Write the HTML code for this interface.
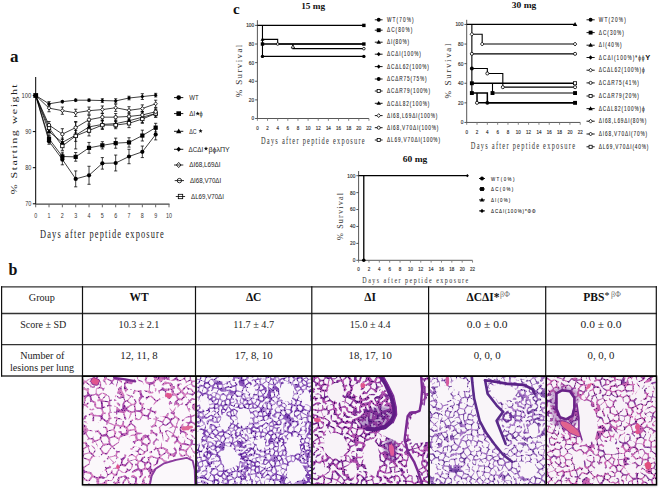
<!DOCTYPE html>
<html><head><meta charset="utf-8"><style>
html,body{margin:0;padding:0;background:#fff;width:660px;height:489px;overflow:hidden}
svg{display:block}
</style></head><body>
<svg width="660" height="489" viewBox="0 0 660 489">
<rect width="660" height="489" fill="#fff"/>
<text x="10.00" y="62.30" font-family="'Liberation Serif', serif" font-size="17" fill="#111" font-weight="bold">a</text>
<g stroke="#000" stroke-width="1" fill="none">
<line x1="35.7" y1="77" x2="35.7" y2="204.4"/>
<line x1="35.2" y1="204.1" x2="169.5" y2="204.1" stroke="#444" stroke-width="1.3"/>
<line x1="32.8" y1="203.80" x2="35.7" y2="203.80"/>
<line x1="32.8" y1="167.70" x2="35.7" y2="167.70"/>
<line x1="32.8" y1="131.60" x2="35.7" y2="131.60"/>
<line x1="32.8" y1="95.50" x2="35.7" y2="95.50"/>
<line x1="35.70" y1="204" x2="35.70" y2="207.3" stroke="#666"/>
<line x1="49.03" y1="204" x2="49.03" y2="207.3" stroke="#666"/>
<line x1="62.36" y1="204" x2="62.36" y2="207.3" stroke="#666"/>
<line x1="75.69" y1="204" x2="75.69" y2="207.3" stroke="#666"/>
<line x1="89.02" y1="204" x2="89.02" y2="207.3" stroke="#666"/>
<line x1="102.35" y1="204" x2="102.35" y2="207.3" stroke="#666"/>
<line x1="115.68" y1="204" x2="115.68" y2="207.3" stroke="#666"/>
<line x1="129.01" y1="204" x2="129.01" y2="207.3" stroke="#666"/>
<line x1="142.34" y1="204" x2="142.34" y2="207.3" stroke="#666"/>
<line x1="155.67" y1="204" x2="155.67" y2="207.3" stroke="#666"/>
<line x1="169.00" y1="204" x2="169.00" y2="207.3" stroke="#666"/>
</g>
<text x="31.40" y="206.30" font-family="'Liberation Sans', sans-serif" font-size="7" fill="#333" text-anchor="end" textLength="6.20" lengthAdjust="spacingAndGlyphs">70</text>
<text x="31.40" y="170.20" font-family="'Liberation Sans', sans-serif" font-size="7" fill="#333" text-anchor="end" textLength="6.20" lengthAdjust="spacingAndGlyphs">80</text>
<text x="31.40" y="134.10" font-family="'Liberation Sans', sans-serif" font-size="7" fill="#333" text-anchor="end" textLength="6.20" lengthAdjust="spacingAndGlyphs">90</text>
<text x="31.40" y="98.00" font-family="'Liberation Sans', sans-serif" font-size="7" fill="#333" text-anchor="end" textLength="9.80" lengthAdjust="spacingAndGlyphs">100</text>
<text x="35.70" y="217.90" font-family="'Liberation Sans', sans-serif" font-size="6.5" fill="#333" text-anchor="middle" textLength="3.00" lengthAdjust="spacingAndGlyphs">0</text>
<text x="49.03" y="217.90" font-family="'Liberation Sans', sans-serif" font-size="6.5" fill="#333" text-anchor="middle" textLength="3.00" lengthAdjust="spacingAndGlyphs">1</text>
<text x="62.36" y="217.90" font-family="'Liberation Sans', sans-serif" font-size="6.5" fill="#333" text-anchor="middle" textLength="3.00" lengthAdjust="spacingAndGlyphs">2</text>
<text x="75.69" y="217.90" font-family="'Liberation Sans', sans-serif" font-size="6.5" fill="#333" text-anchor="middle" textLength="3.00" lengthAdjust="spacingAndGlyphs">3</text>
<text x="89.02" y="217.90" font-family="'Liberation Sans', sans-serif" font-size="6.5" fill="#333" text-anchor="middle" textLength="3.00" lengthAdjust="spacingAndGlyphs">4</text>
<text x="102.35" y="217.90" font-family="'Liberation Sans', sans-serif" font-size="6.5" fill="#333" text-anchor="middle" textLength="3.00" lengthAdjust="spacingAndGlyphs">5</text>
<text x="115.68" y="217.90" font-family="'Liberation Sans', sans-serif" font-size="6.5" fill="#333" text-anchor="middle" textLength="3.00" lengthAdjust="spacingAndGlyphs">6</text>
<text x="129.01" y="217.90" font-family="'Liberation Sans', sans-serif" font-size="6.5" fill="#333" text-anchor="middle" textLength="3.00" lengthAdjust="spacingAndGlyphs">7</text>
<text x="142.34" y="217.90" font-family="'Liberation Sans', sans-serif" font-size="6.5" fill="#333" text-anchor="middle" textLength="3.00" lengthAdjust="spacingAndGlyphs">8</text>
<text x="155.67" y="217.90" font-family="'Liberation Sans', sans-serif" font-size="6.5" fill="#333" text-anchor="middle" textLength="3.00" lengthAdjust="spacingAndGlyphs">9</text>
<text x="169.00" y="217.90" font-family="'Liberation Sans', sans-serif" font-size="6.5" fill="#333" text-anchor="middle" textLength="6.00" lengthAdjust="spacingAndGlyphs">10</text>
<text transform="translate(40.00,237.90) scale(0.7,1)" font-family="'Liberation Serif', serif" font-size="12" fill="#222" textLength="176.86" lengthAdjust="spacing">Days after peptide exposure</text>
<text transform="translate(17.40,194.30) rotate(-90) scale(1,0.74)" font-family="'Liberation Serif', serif" font-size="12" fill="#222" textLength="110.00" lengthAdjust="spacing">% Starting weight</text>
<g stroke="#000" stroke-width="0.75" fill="none">
<polyline points="35.70,95.50 49.03,141.35 62.36,159.40 75.69,178.89 89.02,175.28 102.35,163.37 115.68,163.01 129.01,156.51 142.34,151.82 155.67,134.49"/>
<path d="M49.03,138.46V144.24M47.43,138.46h3.2M47.43,144.24h3.2"/>
<path d="M62.36,153.98V164.81M60.76,153.98h3.2M60.76,164.81h3.2"/>
<path d="M75.69,170.95V186.83M74.09,170.95h3.2M74.09,186.83h3.2"/>
<path d="M89.02,166.26V184.31M87.42,166.26h3.2M87.42,184.31h3.2"/>
<path d="M102.35,157.59V169.14M100.75,157.59h3.2M100.75,169.14h3.2"/>
<path d="M115.68,155.06V170.95M114.08,155.06h3.2M114.08,170.95h3.2"/>
<path d="M129.01,149.29V163.73M127.41,149.29h3.2M127.41,163.73h3.2"/>
<path d="M142.34,146.04V157.59M140.74,146.04h3.2M140.74,157.59h3.2"/>
<path d="M155.67,129.07V139.90M154.07,129.07h3.2M154.07,139.90h3.2"/>
<polyline points="35.70,95.50 49.03,138.82 62.36,156.51 75.69,156.87 89.02,147.84 102.35,145.32 115.68,143.15 129.01,142.43 142.34,135.57 155.67,127.63"/>
<path d="M49.03,135.93V141.71M47.43,135.93h3.2M47.43,141.71h3.2"/>
<path d="M62.36,152.18V160.84M60.76,152.18h3.2M60.76,160.84h3.2"/>
<path d="M75.69,152.54V161.20M74.09,152.54h3.2M74.09,161.20h3.2"/>
<path d="M89.02,142.43V153.26M87.42,142.43h3.2M87.42,153.26h3.2"/>
<path d="M102.35,141.71V148.93M100.75,141.71h3.2M100.75,148.93h3.2"/>
<path d="M115.68,138.10V148.21M114.08,138.10h3.2M114.08,148.21h3.2"/>
<path d="M129.01,137.74V147.12M127.41,137.74h3.2M127.41,147.12h3.2"/>
<path d="M142.34,130.16V140.99M140.74,130.16h3.2M140.74,140.99h3.2"/>
<path d="M155.67,123.30V131.96M154.07,123.30h3.2M154.07,131.96h3.2"/>
<polyline points="35.70,95.50 49.03,131.60 62.36,142.43 75.69,135.21 89.02,126.91 102.35,124.38 115.68,123.66 129.01,120.77 142.34,117.16 155.67,113.55"/>
<path d="M49.03,127.99V135.21M47.43,127.99h3.2M47.43,135.21h3.2"/>
<path d="M62.36,138.10V146.76M60.76,138.10h3.2M60.76,146.76h3.2"/>
<path d="M75.69,121.49V148.93M74.09,121.49h3.2M74.09,148.93h3.2"/>
<path d="M89.02,121.49V132.32M87.42,121.49h3.2M87.42,132.32h3.2"/>
<path d="M102.35,120.05V128.71M100.75,120.05h3.2M100.75,128.71h3.2"/>
<path d="M115.68,120.05V127.27M114.08,120.05h3.2M114.08,127.27h3.2"/>
<path d="M129.01,117.16V124.38M127.41,117.16h3.2M127.41,124.38h3.2"/>
<path d="M142.34,111.75V122.58M140.74,111.75h3.2M140.74,122.58h3.2"/>
<path d="M155.67,109.94V117.16M154.07,109.94h3.2M154.07,117.16h3.2"/>
<polyline points="35.70,95.50 49.03,127.99 62.36,146.04 75.69,135.93 89.02,130.52 102.35,125.10 115.68,125.10 129.01,123.30 142.34,118.97 155.67,113.55"/>
<path d="M49.03,124.38V131.60M47.43,124.38h3.2M47.43,131.60h3.2"/>
<path d="M62.36,141.71V150.37M60.76,141.71h3.2M60.76,150.37h3.2"/>
<path d="M75.69,130.52V141.35M74.09,130.52h3.2M74.09,141.35h3.2"/>
<path d="M89.02,125.10V135.93M87.42,125.10h3.2M87.42,135.93h3.2"/>
<path d="M102.35,120.77V129.43M100.75,120.77h3.2M100.75,129.43h3.2"/>
<path d="M115.68,121.49V128.71M114.08,121.49h3.2M114.08,128.71h3.2"/>
<path d="M129.01,118.97V127.63M127.41,118.97h3.2M127.41,127.63h3.2"/>
<path d="M142.34,114.63V123.30M140.74,114.63h3.2M140.74,123.30h3.2"/>
<path d="M155.67,109.94V117.16M154.07,109.94h3.2M154.07,117.16h3.2"/>
<polyline points="35.70,95.50 49.03,125.10 62.36,134.13 75.69,127.63 89.02,119.69 102.35,117.16 115.68,117.16 129.01,116.44 142.34,114.99 155.67,111.75"/>
<path d="M49.03,121.49V128.71M47.43,121.49h3.2M47.43,128.71h3.2"/>
<path d="M62.36,128.71V139.54M60.76,128.71h3.2M60.76,139.54h3.2"/>
<path d="M75.69,122.21V133.04M74.09,122.21h3.2M74.09,133.04h3.2"/>
<path d="M89.02,115.36V124.02M87.42,115.36h3.2M87.42,124.02h3.2"/>
<path d="M102.35,113.55V120.77M100.75,113.55h3.2M100.75,120.77h3.2"/>
<path d="M115.68,113.55V120.77M114.08,113.55h3.2M114.08,120.77h3.2"/>
<path d="M129.01,112.83V120.05M127.41,112.83h3.2M127.41,120.05h3.2"/>
<path d="M142.34,111.38V118.60M140.74,111.38h3.2M140.74,118.60h3.2"/>
<path d="M155.67,108.14V115.36M154.07,108.14h3.2M154.07,115.36h3.2"/>
<polyline points="35.70,95.50 49.03,108.14 62.36,110.66 75.69,112.83 89.02,110.66 102.35,109.58 115.68,107.77 129.01,110.30 142.34,108.50 155.67,103.80"/>
<path d="M49.03,104.53V111.75M47.43,104.53h3.2M47.43,111.75h3.2"/>
<path d="M62.36,107.05V114.27M60.76,107.05h3.2M60.76,114.27h3.2"/>
<path d="M75.69,109.22V116.44M74.09,109.22h3.2M74.09,116.44h3.2"/>
<path d="M89.02,107.05V114.27M87.42,107.05h3.2M87.42,114.27h3.2"/>
<path d="M102.35,105.97V113.19M100.75,105.97h3.2M100.75,113.19h3.2"/>
<path d="M115.68,104.16V111.38M114.08,104.16h3.2M114.08,111.38h3.2"/>
<path d="M129.01,106.69V113.91M127.41,106.69h3.2M127.41,113.91h3.2"/>
<path d="M142.34,104.89V112.11M140.74,104.89h3.2M140.74,112.11h3.2"/>
<path d="M155.67,100.19V107.41M154.07,100.19h3.2M154.07,107.41h3.2"/>
<polyline points="35.70,95.50 49.03,103.80 62.36,101.64 75.69,100.19 89.02,100.19 102.35,100.55 115.68,100.92 129.01,98.03 142.34,96.58 155.67,95.14"/>
<path d="M49.03,101.64V105.97M47.43,101.64h3.2M47.43,105.97h3.2"/>
<path d="M62.36,100.55V102.72M60.76,100.55h3.2M60.76,102.72h3.2"/>
<path d="M75.69,99.11V101.28M74.09,99.11h3.2M74.09,101.28h3.2"/>
<path d="M89.02,99.11V101.28M87.42,99.11h3.2M87.42,101.28h3.2"/>
<path d="M102.35,98.75V102.36M100.75,98.75h3.2M100.75,102.36h3.2"/>
<path d="M115.68,98.75V103.08M114.08,98.75h3.2M114.08,103.08h3.2"/>
<path d="M129.01,96.22V99.83M127.41,96.22h3.2M127.41,99.83h3.2"/>
<path d="M142.34,93.69V99.47M140.74,93.69h3.2M140.74,99.47h3.2"/>
<path d="M155.67,93.33V96.94M154.07,93.33h3.2M154.07,96.94h3.2"/>
</g>
<circle cx="49.03" cy="141.35" r="2.10" fill="#000"/>
<circle cx="62.36" cy="159.40" r="2.10" fill="#000"/>
<circle cx="75.69" cy="178.89" r="2.10" fill="#000"/>
<circle cx="89.02" cy="175.28" r="2.10" fill="#000"/>
<circle cx="102.35" cy="163.37" r="2.10" fill="#000"/>
<circle cx="115.68" cy="163.01" r="2.10" fill="#000"/>
<circle cx="129.01" cy="156.51" r="2.10" fill="#000"/>
<circle cx="142.34" cy="151.82" r="2.10" fill="#000"/>
<circle cx="155.67" cy="134.49" r="2.10" fill="#000"/>
<rect x="46.93" y="136.72" width="4.20" height="4.20" fill="#000"/>
<rect x="60.26" y="154.41" width="4.20" height="4.20" fill="#000"/>
<rect x="73.59" y="154.77" width="4.20" height="4.20" fill="#000"/>
<rect x="86.92" y="145.75" width="4.20" height="4.20" fill="#000"/>
<rect x="100.25" y="143.22" width="4.20" height="4.20" fill="#000"/>
<rect x="113.58" y="141.05" width="4.20" height="4.20" fill="#000"/>
<rect x="126.91" y="140.33" width="4.20" height="4.20" fill="#000"/>
<rect x="140.24" y="133.47" width="4.20" height="4.20" fill="#000"/>
<rect x="153.57" y="125.53" width="4.20" height="4.20" fill="#000"/>
<path d="M49.03,129.08 L51.45,133.28 L46.62,133.28Z" fill="#000"/>
<path d="M62.36,139.91 L64.78,144.11 L59.95,144.11Z" fill="#000"/>
<path d="M75.69,132.69 L78.11,136.89 L73.27,136.89Z" fill="#000"/>
<path d="M89.02,124.39 L91.44,128.59 L86.61,128.59Z" fill="#000"/>
<path d="M102.35,121.86 L104.77,126.06 L99.94,126.06Z" fill="#000"/>
<path d="M115.68,121.14 L118.10,125.34 L113.27,125.34Z" fill="#000"/>
<path d="M129.01,118.25 L131.42,122.45 L126.59,122.45Z" fill="#000"/>
<path d="M142.34,114.64 L144.75,118.84 L139.93,118.84Z" fill="#000"/>
<path d="M155.67,111.03 L158.09,115.23 L153.26,115.23Z" fill="#000"/>
<rect x="47.33" y="126.29" width="3.40" height="3.40" fill="#fff" stroke="#000" stroke-width="0.8"/>
<rect x="60.66" y="144.34" width="3.40" height="3.40" fill="#fff" stroke="#000" stroke-width="0.8"/>
<rect x="73.99" y="134.23" width="3.40" height="3.40" fill="#fff" stroke="#000" stroke-width="0.8"/>
<rect x="87.32" y="128.82" width="3.40" height="3.40" fill="#fff" stroke="#000" stroke-width="0.8"/>
<rect x="100.65" y="123.40" width="3.40" height="3.40" fill="#fff" stroke="#000" stroke-width="0.8"/>
<rect x="113.98" y="123.40" width="3.40" height="3.40" fill="#fff" stroke="#000" stroke-width="0.8"/>
<rect x="127.31" y="121.60" width="3.40" height="3.40" fill="#fff" stroke="#000" stroke-width="0.8"/>
<rect x="140.64" y="117.27" width="3.40" height="3.40" fill="#fff" stroke="#000" stroke-width="0.8"/>
<rect x="153.97" y="111.85" width="3.40" height="3.40" fill="#fff" stroke="#000" stroke-width="0.8"/>
<circle cx="49.03" cy="125.10" r="1.70" fill="#fff" stroke="#000" stroke-width="0.8"/>
<circle cx="62.36" cy="134.13" r="1.70" fill="#fff" stroke="#000" stroke-width="0.8"/>
<circle cx="75.69" cy="127.63" r="1.70" fill="#fff" stroke="#000" stroke-width="0.8"/>
<circle cx="89.02" cy="119.69" r="1.70" fill="#fff" stroke="#000" stroke-width="0.8"/>
<circle cx="102.35" cy="117.16" r="1.70" fill="#fff" stroke="#000" stroke-width="0.8"/>
<circle cx="115.68" cy="117.16" r="1.70" fill="#fff" stroke="#000" stroke-width="0.8"/>
<circle cx="129.01" cy="116.44" r="1.70" fill="#fff" stroke="#000" stroke-width="0.8"/>
<circle cx="142.34" cy="114.99" r="1.70" fill="#fff" stroke="#000" stroke-width="0.8"/>
<circle cx="155.67" cy="111.75" r="1.70" fill="#fff" stroke="#000" stroke-width="0.8"/>
<path d="M49.03,106.23 L50.74,108.14 L49.03,110.04 L47.32,108.14Z" fill="#fff" stroke="#000" stroke-width="0.8"/>
<path d="M62.36,108.76 L64.07,110.66 L62.36,112.56 L60.65,110.66Z" fill="#fff" stroke="#000" stroke-width="0.8"/>
<path d="M75.69,110.93 L77.40,112.83 L75.69,114.73 L73.98,112.83Z" fill="#fff" stroke="#000" stroke-width="0.8"/>
<path d="M89.02,108.76 L90.73,110.66 L89.02,112.56 L87.31,110.66Z" fill="#fff" stroke="#000" stroke-width="0.8"/>
<path d="M102.35,107.68 L104.06,109.58 L102.35,111.48 L100.64,109.58Z" fill="#fff" stroke="#000" stroke-width="0.8"/>
<path d="M115.68,105.87 L117.39,107.77 L115.68,109.67 L113.97,107.77Z" fill="#fff" stroke="#000" stroke-width="0.8"/>
<path d="M129.01,108.40 L130.72,110.30 L129.01,112.20 L127.30,110.30Z" fill="#fff" stroke="#000" stroke-width="0.8"/>
<path d="M142.34,106.60 L144.05,108.50 L142.34,110.40 L140.63,108.50Z" fill="#fff" stroke="#000" stroke-width="0.8"/>
<path d="M155.67,101.90 L157.38,103.80 L155.67,105.70 L153.96,103.80Z" fill="#fff" stroke="#000" stroke-width="0.8"/>
<path d="M49.03,101.71 L50.93,103.80 L49.03,105.89 L47.13,103.80Z" fill="#000"/>
<path d="M62.36,99.55 L64.26,101.64 L62.36,103.73 L60.46,101.64Z" fill="#000"/>
<path d="M75.69,98.10 L77.59,100.19 L75.69,102.28 L73.79,100.19Z" fill="#000"/>
<path d="M89.02,98.10 L90.92,100.19 L89.02,102.28 L87.12,100.19Z" fill="#000"/>
<path d="M102.35,98.46 L104.25,100.55 L102.35,102.64 L100.45,100.55Z" fill="#000"/>
<path d="M115.68,98.83 L117.58,100.92 L115.68,103.01 L113.78,100.92Z" fill="#000"/>
<path d="M129.01,95.94 L130.91,98.03 L129.01,100.12 L127.11,98.03Z" fill="#000"/>
<path d="M142.34,94.49 L144.24,96.58 L142.34,98.67 L140.44,96.58Z" fill="#000"/>
<path d="M155.67,93.05 L157.57,95.14 L155.67,97.23 L153.77,95.14Z" fill="#000"/>
<rect x="33.30" y="93.10" width="4.80" height="4.80" fill="#000"/>
<line x1="174" y1="97.6" x2="183.3" y2="97.6" stroke="#000" stroke-width="0.9"/>
<circle cx="178.70" cy="97.60" r="2.30" fill="#000"/>
<text x="189.30" y="100.00" font-family="'Liberation Sans', sans-serif" font-size="6.8" fill="#222" textLength="9.30" lengthAdjust="spacingAndGlyphs">WT</text>
<line x1="174" y1="113.6" x2="183.3" y2="113.6" stroke="#000" stroke-width="0.9"/>
<rect x="176.40" y="111.30" width="4.60" height="4.60" fill="#000"/>
<line x1="174" y1="131.3" x2="183.3" y2="131.3" stroke="#000" stroke-width="0.9"/>
<path d="M178.70,128.54 L181.34,133.14 L176.05,133.14Z" fill="#000"/>
<line x1="174" y1="149.3" x2="183.3" y2="149.3" stroke="#000" stroke-width="0.9"/>
<path d="M178.70,146.77 L181.00,149.30 L178.70,151.83 L176.40,149.30Z" fill="#000"/>
<path d="M178.70,162.40 L181.04,165.00 L178.70,167.60 L176.36,165.00Z" fill="#fff" stroke="#000" stroke-width="0.8"/>
<line x1="174" y1="165" x2="183.3" y2="165" stroke="#000" stroke-width="0.8"/>
<text x="189.30" y="167.40" font-family="'Liberation Sans', sans-serif" font-size="6.8" fill="#222" textLength="31.20" lengthAdjust="spacingAndGlyphs">ΔI68,L69ΔI</text>
<circle cx="179.40" cy="180.60" r="2.20" fill="#fff" stroke="#000" stroke-width="0.8"/>
<line x1="174.7" y1="180.6" x2="184.0" y2="180.6" stroke="#000" stroke-width="0.8"/>
<text x="190.00" y="183.00" font-family="'Liberation Sans', sans-serif" font-size="6.8" fill="#222" textLength="31.20" lengthAdjust="spacingAndGlyphs">ΔI68,V70ΔI</text>
<rect x="178.30" y="194.30" width="4.40" height="4.40" fill="#fff" stroke="#000" stroke-width="0.8"/>
<line x1="175.8" y1="196.5" x2="185.10000000000002" y2="196.5" stroke="#000" stroke-width="0.8"/>
<text x="191.10" y="198.90" font-family="'Liberation Sans', sans-serif" font-size="6.8" fill="#222" textLength="32.80" lengthAdjust="spacingAndGlyphs">ΔL69,V70ΔI</text>
<text x="189.30" y="116.00" font-family="'Liberation Sans', sans-serif" font-size="6.8" fill="#222" textLength="6.00" lengthAdjust="spacingAndGlyphs">ΔI</text>
<polygon points="197.70,111.40 198.28,112.80 199.79,112.92 198.64,113.91 198.99,115.38 197.70,114.59 196.41,115.38 196.76,113.91 195.61,112.92 197.12,112.80" fill="#111"/>
<text x="199.50" y="116.00" font-family="'Liberation Sans', sans-serif" font-size="6.8" fill="#222" textLength="3.10" lengthAdjust="spacingAndGlyphs">ϕ</text>
<text x="189.30" y="133.70" font-family="'Liberation Sans', sans-serif" font-size="6.8" fill="#222" textLength="7.30" lengthAdjust="spacingAndGlyphs">ΔC</text>
<polygon points="200.60,128.80 201.18,130.20 202.69,130.32 201.54,131.31 201.89,132.78 200.60,131.99 199.31,132.78 199.66,131.31 198.51,130.32 200.02,130.20" fill="#111"/>
<text x="188.60" y="151.70" font-family="'Liberation Sans', sans-serif" font-size="6.8" fill="#222" textLength="14.60" lengthAdjust="spacingAndGlyphs">ΔCΔI</text>
<polygon points="206.00,146.40 206.58,147.80 208.09,147.92 206.94,148.91 207.29,150.38 206.00,149.59 204.71,150.38 205.06,148.91 203.91,147.92 205.42,147.80" fill="#111"/>
<text x="208.60" y="151.70" font-family="'Liberation Sans', sans-serif" font-size="6.8" fill="#222" textLength="21.20" lengthAdjust="spacingAndGlyphs">βϕλΠY</text>
<text x="233.00" y="14.40" font-family="'Liberation Serif', serif" font-size="15" fill="#111" font-weight="bold">c</text>
<g stroke="#444" stroke-width="0.9" fill="none">
<line x1="257.4" y1="20.2" x2="257.4" y2="118.9"/>
<line x1="257.0" y1="118.5" x2="368.94" y2="118.5"/>
<line x1="255.09999999999997" y1="118.50" x2="257.4" y2="118.50"/>
<line x1="255.09999999999997" y1="99.88" x2="257.4" y2="99.88"/>
<line x1="255.09999999999997" y1="81.26" x2="257.4" y2="81.26"/>
<line x1="255.09999999999997" y1="62.64" x2="257.4" y2="62.64"/>
<line x1="255.09999999999997" y1="44.02" x2="257.4" y2="44.02"/>
<line x1="255.09999999999997" y1="25.40" x2="257.4" y2="25.40"/>
<line x1="257.40" y1="118.5" x2="257.40" y2="120.8" stroke="#777"/>
<line x1="267.54" y1="118.5" x2="267.54" y2="120.8" stroke="#777"/>
<line x1="277.68" y1="118.5" x2="277.68" y2="120.8" stroke="#777"/>
<line x1="287.82" y1="118.5" x2="287.82" y2="120.8" stroke="#777"/>
<line x1="297.96" y1="118.5" x2="297.96" y2="120.8" stroke="#777"/>
<line x1="308.10" y1="118.5" x2="308.10" y2="120.8" stroke="#777"/>
<line x1="318.24" y1="118.5" x2="318.24" y2="120.8" stroke="#777"/>
<line x1="328.38" y1="118.5" x2="328.38" y2="120.8" stroke="#777"/>
<line x1="338.52" y1="118.5" x2="338.52" y2="120.8" stroke="#777"/>
<line x1="348.66" y1="118.5" x2="348.66" y2="120.8" stroke="#777"/>
<line x1="358.80" y1="118.5" x2="358.80" y2="120.8" stroke="#777"/>
<line x1="368.94" y1="118.5" x2="368.94" y2="120.8" stroke="#777"/>
</g>
<text x="254.10" y="120.40" font-family="'Liberation Sans', sans-serif" font-size="5.2" fill="#333" text-anchor="end" textLength="2.65" lengthAdjust="spacingAndGlyphs" stroke="#333" stroke-width="0.15">0</text>
<text x="254.10" y="101.78" font-family="'Liberation Sans', sans-serif" font-size="5.2" fill="#333" text-anchor="end" textLength="5.30" lengthAdjust="spacingAndGlyphs" stroke="#333" stroke-width="0.15">20</text>
<text x="254.10" y="83.16" font-family="'Liberation Sans', sans-serif" font-size="5.2" fill="#333" text-anchor="end" textLength="5.30" lengthAdjust="spacingAndGlyphs" stroke="#333" stroke-width="0.15">40</text>
<text x="254.10" y="64.54" font-family="'Liberation Sans', sans-serif" font-size="5.2" fill="#333" text-anchor="end" textLength="5.30" lengthAdjust="spacingAndGlyphs" stroke="#333" stroke-width="0.15">60</text>
<text x="254.10" y="45.92" font-family="'Liberation Sans', sans-serif" font-size="5.2" fill="#333" text-anchor="end" textLength="5.30" lengthAdjust="spacingAndGlyphs" stroke="#333" stroke-width="0.15">80</text>
<text x="254.10" y="27.30" font-family="'Liberation Sans', sans-serif" font-size="5.2" fill="#333" text-anchor="end" textLength="7.95" lengthAdjust="spacingAndGlyphs" stroke="#333" stroke-width="0.15">100</text>
<text x="257.40" y="129.70" font-family="'Liberation Sans', sans-serif" font-size="5.2" fill="#333" text-anchor="middle" textLength="2.50" lengthAdjust="spacingAndGlyphs" stroke="#333" stroke-width="0.15">0</text>
<text x="267.54" y="129.70" font-family="'Liberation Sans', sans-serif" font-size="5.2" fill="#333" text-anchor="middle" textLength="2.50" lengthAdjust="spacingAndGlyphs" stroke="#333" stroke-width="0.15">2</text>
<text x="277.68" y="129.70" font-family="'Liberation Sans', sans-serif" font-size="5.2" fill="#333" text-anchor="middle" textLength="2.50" lengthAdjust="spacingAndGlyphs" stroke="#333" stroke-width="0.15">4</text>
<text x="287.82" y="129.70" font-family="'Liberation Sans', sans-serif" font-size="5.2" fill="#333" text-anchor="middle" textLength="2.50" lengthAdjust="spacingAndGlyphs" stroke="#333" stroke-width="0.15">6</text>
<text x="297.96" y="129.70" font-family="'Liberation Sans', sans-serif" font-size="5.2" fill="#333" text-anchor="middle" textLength="2.50" lengthAdjust="spacingAndGlyphs" stroke="#333" stroke-width="0.15">8</text>
<text x="308.10" y="129.70" font-family="'Liberation Sans', sans-serif" font-size="5.2" fill="#333" text-anchor="middle" textLength="5.00" lengthAdjust="spacingAndGlyphs" stroke="#333" stroke-width="0.15">10</text>
<text x="318.24" y="129.70" font-family="'Liberation Sans', sans-serif" font-size="5.2" fill="#333" text-anchor="middle" textLength="5.00" lengthAdjust="spacingAndGlyphs" stroke="#333" stroke-width="0.15">12</text>
<text x="328.38" y="129.70" font-family="'Liberation Sans', sans-serif" font-size="5.2" fill="#333" text-anchor="middle" textLength="5.00" lengthAdjust="spacingAndGlyphs" stroke="#333" stroke-width="0.15">14</text>
<text x="338.52" y="129.70" font-family="'Liberation Sans', sans-serif" font-size="5.2" fill="#333" text-anchor="middle" textLength="5.00" lengthAdjust="spacingAndGlyphs" stroke="#333" stroke-width="0.15">16</text>
<text x="348.66" y="129.70" font-family="'Liberation Sans', sans-serif" font-size="5.2" fill="#333" text-anchor="middle" textLength="5.00" lengthAdjust="spacingAndGlyphs" stroke="#333" stroke-width="0.15">18</text>
<text x="358.80" y="129.70" font-family="'Liberation Sans', sans-serif" font-size="5.2" fill="#333" text-anchor="middle" textLength="5.00" lengthAdjust="spacingAndGlyphs" stroke="#333" stroke-width="0.15">20</text>
<text x="368.94" y="129.70" font-family="'Liberation Sans', sans-serif" font-size="5.2" fill="#333" text-anchor="middle" textLength="5.00" lengthAdjust="spacingAndGlyphs" stroke="#333" stroke-width="0.15">22</text>
<text x="301.20" y="9.20" font-family="'Liberation Serif', serif" font-size="8.8" fill="#111" font-weight="bold" textLength="24.00" lengthAdjust="spacingAndGlyphs">15 mg</text>
<text transform="translate(241.60,97.30) rotate(-90)" font-family="'Liberation Serif', serif" font-size="9" fill="#333" textLength="52.60" lengthAdjust="spacing">% Survival</text>
<text transform="translate(261.00,144.10) scale(0.66,1)" font-family="'Liberation Serif', serif" font-size="9.7" fill="#333" textLength="157.12" lengthAdjust="spacing">Days after peptide exposure</text>
<path d="M257.40,25.40H363.87V25.40" stroke="#000" stroke-width="1.3" fill="none"/>
<path d="M262.47,25.40H262.47V56.40H363.87V56.40" stroke="#000" stroke-width="1.1" fill="none"/>
<path d="M262.47,39.36H277.68V39.36H277.68V44.02H363.87V44.02" stroke="#000" stroke-width="1.1" fill="none"/>
<path d="M262.47,44.02H363.87V44.02" stroke="#000" stroke-width="1.5" fill="none"/>
<path d="M292.89,44.02H292.89V48.67H363.87V48.67" stroke="#000" stroke-width="1.1" fill="none"/>
<rect x="362.17" y="23.70" width="3.40" height="3.40" fill="#000"/>
<rect x="260.77" y="42.32" width="3.40" height="3.40" fill="#000"/>
<rect x="362.17" y="42.32" width="3.40" height="3.40" fill="#000"/>
<path d="M262.47,37.32 L264.42,40.72 L260.51,40.72Z" fill="#000"/>
<circle cx="262.47" cy="56.40" r="1.70" fill="#000"/>
<circle cx="363.87" cy="56.40" r="1.70" fill="#000"/>
<circle cx="277.68" cy="44.02" r="1.30" fill="#fff" stroke="#000" stroke-width="0.8"/>
<path d="M292.89,44.94 L294.68,48.09 L291.10,48.09Z" fill="#fff" stroke="#000" stroke-width="0.8"/>
<circle cx="363.87" cy="48.67" r="1.30" fill="#fff" stroke="#000" stroke-width="0.8"/>
<line x1="374.8" y1="19.8" x2="382.6" y2="19.8" stroke="#000" stroke-width="0.9"/>
<circle cx="378.70" cy="19.80" r="1.95" fill="#000"/>
<text transform="translate(387.00,22.00) scale(0.74,1)" font-family="'Liberation Sans', sans-serif" font-size="6.4" fill="#2a2a2a" textLength="35.95" lengthAdjust="spacing" stroke="#2a2a2a" stroke-width="0.1">WT(70%)</text>
<line x1="374.8" y1="30.2" x2="382.6" y2="30.2" stroke="#000" stroke-width="0.9"/>
<rect x="376.75" y="28.25" width="3.90" height="3.90" fill="#000"/>
<text transform="translate(387.00,32.40) scale(0.74,1)" font-family="'Liberation Sans', sans-serif" font-size="6.4" fill="#2a2a2a" textLength="34.19" lengthAdjust="spacing" stroke="#2a2a2a" stroke-width="0.1">ΔC(80%)</text>
<line x1="374.8" y1="42.2" x2="382.6" y2="42.2" stroke="#000" stroke-width="0.9"/>
<path d="M378.70,39.86 L380.94,43.76 L376.46,43.76Z" fill="#000"/>
<text transform="translate(387.00,44.40) scale(0.74,1)" font-family="'Liberation Sans', sans-serif" font-size="6.4" fill="#2a2a2a" textLength="30.00" lengthAdjust="spacing" stroke="#2a2a2a" stroke-width="0.1">ΔI(80%)</text>
<line x1="374.8" y1="54.2" x2="382.6" y2="54.2" stroke="#000" stroke-width="0.9"/>
<path d="M378.70,52.05 L380.65,54.20 L378.70,56.35 L376.75,54.20Z" fill="#000"/>
<text transform="translate(387.00,56.40) scale(0.74,1)" font-family="'Liberation Sans', sans-serif" font-size="6.4" fill="#2a2a2a" textLength="45.81" lengthAdjust="spacing" stroke="#2a2a2a" stroke-width="0.1">ΔCΔI(100%)</text>
<line x1="374.8" y1="66.6" x2="382.6" y2="66.6" stroke="#000" stroke-width="0.9"/>
<path d="M378.70,64.45 L380.65,66.60 L378.70,68.74 L376.75,66.60Z" fill="#000"/>
<text transform="translate(387.00,68.80) scale(0.74,1)" font-family="'Liberation Sans', sans-serif" font-size="6.4" fill="#2a2a2a" textLength="56.62" lengthAdjust="spacing" stroke="#2a2a2a" stroke-width="0.1">ΔCΔL62(100%)</text>
<line x1="374.8" y1="79" x2="382.6" y2="79" stroke="#000" stroke-width="0.9"/>
<circle cx="378.70" cy="79.00" r="1.95" fill="#000"/>
<text transform="translate(387.00,81.20) scale(0.74,1)" font-family="'Liberation Sans', sans-serif" font-size="6.4" fill="#2a2a2a" textLength="53.65" lengthAdjust="spacing" stroke="#2a2a2a" stroke-width="0.1">ΔCΔR75(75%)</text>
<line x1="374.8" y1="91" x2="382.6" y2="91" stroke="#000" stroke-width="0.9"/>
<rect x="377.15" y="89.45" width="3.10" height="3.10" fill="#fff" stroke="#000" stroke-width="0.8"/>
<text transform="translate(387.00,93.20) scale(0.74,1)" font-family="'Liberation Sans', sans-serif" font-size="6.4" fill="#2a2a2a" textLength="58.11" lengthAdjust="spacing" stroke="#2a2a2a" stroke-width="0.1">ΔCΔR79(100%)</text>
<line x1="374.8" y1="103.3" x2="382.6" y2="103.3" stroke="#000" stroke-width="0.9"/>
<path d="M378.70,100.96 L380.94,104.86 L376.46,104.86Z" fill="#000"/>
<text transform="translate(387.00,105.50) scale(0.74,1)" font-family="'Liberation Sans', sans-serif" font-size="6.4" fill="#2a2a2a" textLength="57.16" lengthAdjust="spacing" stroke="#2a2a2a" stroke-width="0.1">ΔCΔL82(100%)</text>
<line x1="374.8" y1="115.6" x2="382.6" y2="115.6" stroke="#000" stroke-width="0.9"/>
<path d="M378.70,113.65 L380.46,115.60 L378.70,117.55 L376.95,115.60Z" fill="#fff" stroke="#000" stroke-width="0.8"/>
<text transform="translate(387.00,117.80) scale(0.74,1)" font-family="'Liberation Sans', sans-serif" font-size="6.4" fill="#2a2a2a" textLength="67.97" lengthAdjust="spacing" stroke="#2a2a2a" stroke-width="0.1">ΔI68,L69ΔI(100%)</text>
<line x1="374.8" y1="127.7" x2="382.6" y2="127.7" stroke="#000" stroke-width="0.9"/>
<circle cx="378.70" cy="127.70" r="1.55" fill="#fff" stroke="#000" stroke-width="0.8"/>
<text transform="translate(387.00,129.90) scale(0.74,1)" font-family="'Liberation Sans', sans-serif" font-size="6.4" fill="#2a2a2a" textLength="69.32" lengthAdjust="spacing" stroke="#2a2a2a" stroke-width="0.1">ΔI68,V70ΔI(100%)</text>
<line x1="374.8" y1="140" x2="382.6" y2="140" stroke="#000" stroke-width="0.9"/>
<rect x="377.15" y="138.45" width="3.10" height="3.10" fill="#fff" stroke="#000" stroke-width="0.8"/>
<text transform="translate(387.00,142.20) scale(0.74,1)" font-family="'Liberation Sans', sans-serif" font-size="6.4" fill="#2a2a2a" textLength="71.62" lengthAdjust="spacing" stroke="#2a2a2a" stroke-width="0.1">ΔL69,V70ΔI(100%)</text>
<g stroke="#444" stroke-width="0.9" fill="none">
<line x1="466.7" y1="19.8" x2="466.7" y2="122.85000000000001"/>
<line x1="466.3" y1="122.45" x2="580.22" y2="122.45"/>
<line x1="464.4" y1="122.45" x2="466.7" y2="122.45"/>
<line x1="464.4" y1="102.85" x2="466.7" y2="102.85"/>
<line x1="464.4" y1="83.25" x2="466.7" y2="83.25"/>
<line x1="464.4" y1="63.65" x2="466.7" y2="63.65"/>
<line x1="464.4" y1="44.05" x2="466.7" y2="44.05"/>
<line x1="464.4" y1="24.45" x2="466.7" y2="24.45"/>
<line x1="466.70" y1="122.45" x2="466.70" y2="124.75" stroke="#777"/>
<line x1="477.02" y1="122.45" x2="477.02" y2="124.75" stroke="#777"/>
<line x1="487.34" y1="122.45" x2="487.34" y2="124.75" stroke="#777"/>
<line x1="497.66" y1="122.45" x2="497.66" y2="124.75" stroke="#777"/>
<line x1="507.98" y1="122.45" x2="507.98" y2="124.75" stroke="#777"/>
<line x1="518.30" y1="122.45" x2="518.30" y2="124.75" stroke="#777"/>
<line x1="528.62" y1="122.45" x2="528.62" y2="124.75" stroke="#777"/>
<line x1="538.94" y1="122.45" x2="538.94" y2="124.75" stroke="#777"/>
<line x1="549.26" y1="122.45" x2="549.26" y2="124.75" stroke="#777"/>
<line x1="559.58" y1="122.45" x2="559.58" y2="124.75" stroke="#777"/>
<line x1="569.90" y1="122.45" x2="569.90" y2="124.75" stroke="#777"/>
<line x1="580.22" y1="122.45" x2="580.22" y2="124.75" stroke="#777"/>
</g>
<text x="463.40" y="124.35" font-family="'Liberation Sans', sans-serif" font-size="5.2" fill="#333" text-anchor="end" textLength="2.65" lengthAdjust="spacingAndGlyphs" stroke="#333" stroke-width="0.15">0</text>
<text x="463.40" y="104.75" font-family="'Liberation Sans', sans-serif" font-size="5.2" fill="#333" text-anchor="end" textLength="5.30" lengthAdjust="spacingAndGlyphs" stroke="#333" stroke-width="0.15">20</text>
<text x="463.40" y="85.15" font-family="'Liberation Sans', sans-serif" font-size="5.2" fill="#333" text-anchor="end" textLength="5.30" lengthAdjust="spacingAndGlyphs" stroke="#333" stroke-width="0.15">40</text>
<text x="463.40" y="65.55" font-family="'Liberation Sans', sans-serif" font-size="5.2" fill="#333" text-anchor="end" textLength="5.30" lengthAdjust="spacingAndGlyphs" stroke="#333" stroke-width="0.15">60</text>
<text x="463.40" y="45.95" font-family="'Liberation Sans', sans-serif" font-size="5.2" fill="#333" text-anchor="end" textLength="5.30" lengthAdjust="spacingAndGlyphs" stroke="#333" stroke-width="0.15">80</text>
<text x="463.40" y="26.35" font-family="'Liberation Sans', sans-serif" font-size="5.2" fill="#333" text-anchor="end" textLength="7.95" lengthAdjust="spacingAndGlyphs" stroke="#333" stroke-width="0.15">100</text>
<text x="466.70" y="133.60" font-family="'Liberation Sans', sans-serif" font-size="5.2" fill="#333" text-anchor="middle" textLength="2.50" lengthAdjust="spacingAndGlyphs" stroke="#333" stroke-width="0.15">0</text>
<text x="477.02" y="133.60" font-family="'Liberation Sans', sans-serif" font-size="5.2" fill="#333" text-anchor="middle" textLength="2.50" lengthAdjust="spacingAndGlyphs" stroke="#333" stroke-width="0.15">2</text>
<text x="487.34" y="133.60" font-family="'Liberation Sans', sans-serif" font-size="5.2" fill="#333" text-anchor="middle" textLength="2.50" lengthAdjust="spacingAndGlyphs" stroke="#333" stroke-width="0.15">4</text>
<text x="497.66" y="133.60" font-family="'Liberation Sans', sans-serif" font-size="5.2" fill="#333" text-anchor="middle" textLength="2.50" lengthAdjust="spacingAndGlyphs" stroke="#333" stroke-width="0.15">6</text>
<text x="507.98" y="133.60" font-family="'Liberation Sans', sans-serif" font-size="5.2" fill="#333" text-anchor="middle" textLength="2.50" lengthAdjust="spacingAndGlyphs" stroke="#333" stroke-width="0.15">8</text>
<text x="518.30" y="133.60" font-family="'Liberation Sans', sans-serif" font-size="5.2" fill="#333" text-anchor="middle" textLength="5.00" lengthAdjust="spacingAndGlyphs" stroke="#333" stroke-width="0.15">10</text>
<text x="528.62" y="133.60" font-family="'Liberation Sans', sans-serif" font-size="5.2" fill="#333" text-anchor="middle" textLength="5.00" lengthAdjust="spacingAndGlyphs" stroke="#333" stroke-width="0.15">12</text>
<text x="538.94" y="133.60" font-family="'Liberation Sans', sans-serif" font-size="5.2" fill="#333" text-anchor="middle" textLength="5.00" lengthAdjust="spacingAndGlyphs" stroke="#333" stroke-width="0.15">14</text>
<text x="549.26" y="133.60" font-family="'Liberation Sans', sans-serif" font-size="5.2" fill="#333" text-anchor="middle" textLength="5.00" lengthAdjust="spacingAndGlyphs" stroke="#333" stroke-width="0.15">16</text>
<text x="559.58" y="133.60" font-family="'Liberation Sans', sans-serif" font-size="5.2" fill="#333" text-anchor="middle" textLength="5.00" lengthAdjust="spacingAndGlyphs" stroke="#333" stroke-width="0.15">18</text>
<text x="569.90" y="133.60" font-family="'Liberation Sans', sans-serif" font-size="5.2" fill="#333" text-anchor="middle" textLength="5.00" lengthAdjust="spacingAndGlyphs" stroke="#333" stroke-width="0.15">20</text>
<text x="580.22" y="133.60" font-family="'Liberation Sans', sans-serif" font-size="5.2" fill="#333" text-anchor="middle" textLength="5.00" lengthAdjust="spacingAndGlyphs" stroke="#333" stroke-width="0.15">22</text>
<text x="511.80" y="7.60" font-family="'Liberation Serif', serif" font-size="8.8" fill="#111" font-weight="bold" textLength="24.50" lengthAdjust="spacingAndGlyphs">30 mg</text>
<text transform="translate(450.60,98.40) rotate(-90)" font-family="'Liberation Serif', serif" font-size="9" fill="#333" textLength="54.80" lengthAdjust="spacing">% Survival</text>
<text transform="translate(470.80,149.00) scale(0.66,1)" font-family="'Liberation Serif', serif" font-size="9.7" fill="#333" textLength="157.88" lengthAdjust="spacing">Days after peptide exposure</text>
<path d="M466.70,24.45H575.06V24.45" stroke="#000" stroke-width="1.3" fill="none"/>
<path d="M471.86,24.45H471.86V93.05" stroke="#000" stroke-width="1.1" fill="none"/>
<path d="M471.86,34.25H482.18V34.25H482.18V44.05H575.06V44.05" stroke="#000" stroke-width="1.1" fill="none"/>
<path d="M471.86,53.85H575.06V53.85" stroke="#000" stroke-width="1.1" fill="none"/>
<path d="M471.86,68.55H487.34V68.55H487.34V73.45H502.82V73.45H502.82V87.17H575.06V87.17" stroke="#000" stroke-width="1.1" fill="none"/>
<path d="M471.86,83.25H575.06V83.25" stroke="#000" stroke-width="1.5" fill="none"/>
<path d="M492.50,83.25H492.50V93.05H575.06V93.05" stroke="#000" stroke-width="1.1" fill="none"/>
<path d="M471.86,93.05H487.34V93.05H487.34V102.85H575.06V102.85" stroke="#000" stroke-width="1.5" fill="none"/>
<path d="M477.02,93.05H477.02V102.85H575.06V102.85" stroke="#000" stroke-width="1.5" fill="none"/>
<path d="M575.06,22.11 L577.30,26.01 L572.82,26.01Z" fill="#000"/>
<path d="M471.86,32.30 L473.62,34.25 L471.86,36.20 L470.11,34.25Z" fill="#fff" stroke="#000" stroke-width="0.8"/>
<path d="M482.18,42.10 L483.94,44.05 L482.18,46.00 L480.43,44.05Z" fill="#fff" stroke="#000" stroke-width="0.8"/>
<path d="M575.06,42.10 L576.81,44.05 L575.06,46.00 L573.30,44.05Z" fill="#fff" stroke="#000" stroke-width="0.8"/>
<circle cx="471.86" cy="53.85" r="1.55" fill="#fff" stroke="#000" stroke-width="0.8"/>
<circle cx="575.06" cy="53.85" r="1.55" fill="#fff" stroke="#000" stroke-width="0.8"/>
<circle cx="471.86" cy="68.55" r="1.95" fill="#000"/>
<circle cx="487.34" cy="73.45" r="1.55" fill="#fff" stroke="#000" stroke-width="0.8"/>
<circle cx="502.82" cy="87.17" r="1.55" fill="#fff" stroke="#000" stroke-width="0.8"/>
<circle cx="575.06" cy="87.17" r="1.55" fill="#fff" stroke="#000" stroke-width="0.8"/>
<rect x="469.91" y="81.30" width="3.90" height="3.90" fill="#000"/>
<rect x="573.51" y="81.70" width="3.10" height="3.10" fill="#fff" stroke="#000" stroke-width="0.8"/>
<rect x="490.55" y="91.10" width="3.90" height="3.90" fill="#000"/>
<rect x="573.11" y="91.10" width="3.90" height="3.90" fill="#000"/>
<rect x="469.91" y="91.10" width="3.90" height="3.90" fill="#000"/>
<circle cx="477.02" cy="102.85" r="1.55" fill="#fff" stroke="#000" stroke-width="0.8"/>
<circle cx="487.34" cy="102.85" r="1.95" fill="#000"/>
<rect x="573.11" y="100.90" width="3.90" height="3.90" fill="#000"/>
<line x1="586.5" y1="19.8" x2="594.7" y2="19.8" stroke="#000" stroke-width="0.9"/>
<circle cx="590.60" cy="19.80" r="1.95" fill="#000"/>
<text transform="translate(598.80,22.00) scale(0.74,1)" font-family="'Liberation Sans', sans-serif" font-size="6.4" fill="#2a2a2a" textLength="36.49" lengthAdjust="spacing" stroke="#2a2a2a" stroke-width="0.1">WT(20%)</text>
<line x1="586.5" y1="32.6" x2="594.7" y2="32.6" stroke="#000" stroke-width="0.9"/>
<rect x="588.65" y="30.65" width="3.90" height="3.90" fill="#000"/>
<text transform="translate(598.80,34.80) scale(0.74,1)" font-family="'Liberation Sans', sans-serif" font-size="6.4" fill="#2a2a2a" textLength="33.92" lengthAdjust="spacing" stroke="#2a2a2a" stroke-width="0.1">ΔC(30%)</text>
<line x1="586.5" y1="45.2" x2="594.7" y2="45.2" stroke="#000" stroke-width="0.9"/>
<path d="M590.60,42.86 L592.84,46.76 L588.36,46.76Z" fill="#000"/>
<text transform="translate(598.80,47.40) scale(0.74,1)" font-family="'Liberation Sans', sans-serif" font-size="6.4" fill="#2a2a2a" textLength="30.95" lengthAdjust="spacing" stroke="#2a2a2a" stroke-width="0.1">ΔI(40%)</text>
<line x1="586.5" y1="57.5" x2="594.7" y2="57.5" stroke="#000" stroke-width="0.9"/>
<path d="M590.60,55.35 L592.55,57.50 L590.60,59.65 L588.65,57.50Z" fill="#000"/>
<text transform="translate(598.80,59.70) scale(0.74,1)" font-family="'Liberation Sans', sans-serif" font-size="6.4" fill="#2a2a2a" textLength="61.76" lengthAdjust="spacing" stroke="#2a2a2a" stroke-width="0.1">ΔCΔI(100%)*ϕϕ</text>
<line x1="586.5" y1="70.2" x2="594.7" y2="70.2" stroke="#000" stroke-width="0.9"/>
<path d="M590.60,68.25 L592.36,70.20 L590.60,72.15 L588.85,70.20Z" fill="#fff" stroke="#000" stroke-width="0.8"/>
<text transform="translate(598.80,72.40) scale(0.74,1)" font-family="'Liberation Sans', sans-serif" font-size="6.4" fill="#2a2a2a" textLength="61.89" lengthAdjust="spacing" stroke="#2a2a2a" stroke-width="0.1">ΔCΔL62(100%)ϕ</text>
<line x1="586.5" y1="82.9" x2="594.7" y2="82.9" stroke="#000" stroke-width="0.9"/>
<circle cx="590.60" cy="82.90" r="1.55" fill="#fff" stroke="#000" stroke-width="0.8"/>
<text transform="translate(598.80,85.10) scale(0.74,1)" font-family="'Liberation Sans', sans-serif" font-size="6.4" fill="#2a2a2a" textLength="54.19" lengthAdjust="spacing" stroke="#2a2a2a" stroke-width="0.1">ΔCΔR75(41%)</text>
<line x1="586.5" y1="96" x2="594.7" y2="96" stroke="#000" stroke-width="0.9"/>
<rect x="589.05" y="94.45" width="3.10" height="3.10" fill="#fff" stroke="#000" stroke-width="0.8"/>
<text transform="translate(598.80,98.20) scale(0.74,1)" font-family="'Liberation Sans', sans-serif" font-size="6.4" fill="#2a2a2a" textLength="54.19" lengthAdjust="spacing" stroke="#2a2a2a" stroke-width="0.1">ΔCΔR79(20%)</text>
<line x1="586.5" y1="108.6" x2="594.7" y2="108.6" stroke="#000" stroke-width="0.9"/>
<path d="M590.60,106.26 L592.84,110.16 L588.36,110.16Z" fill="#000"/>
<text transform="translate(598.80,110.80) scale(0.74,1)" font-family="'Liberation Sans', sans-serif" font-size="6.4" fill="#2a2a2a" textLength="61.89" lengthAdjust="spacing" stroke="#2a2a2a" stroke-width="0.1">ΔCΔL82(100%)ϕ</text>
<line x1="586.5" y1="121.2" x2="594.7" y2="121.2" stroke="#000" stroke-width="0.9"/>
<path d="M590.60,119.25 L592.36,121.20 L590.60,123.15 L588.85,121.20Z" fill="#fff" stroke="#000" stroke-width="0.8"/>
<text transform="translate(598.80,123.40) scale(0.74,1)" font-family="'Liberation Sans', sans-serif" font-size="6.4" fill="#2a2a2a" textLength="64.19" lengthAdjust="spacing" stroke="#2a2a2a" stroke-width="0.1">ΔI68,L69ΔI(80%)</text>
<line x1="586.5" y1="134" x2="594.7" y2="134" stroke="#000" stroke-width="0.9"/>
<path d="M590.60,132.05 L592.36,134.00 L590.60,135.95 L588.85,134.00Z" fill="#fff" stroke="#000" stroke-width="0.8"/>
<text transform="translate(598.80,136.20) scale(0.74,1)" font-family="'Liberation Sans', sans-serif" font-size="6.4" fill="#2a2a2a" textLength="65.27" lengthAdjust="spacing" stroke="#2a2a2a" stroke-width="0.1">ΔI68,V70ΔI(70%)</text>
<line x1="586.5" y1="146.8" x2="594.7" y2="146.8" stroke="#000" stroke-width="0.9"/>
<rect x="589.05" y="145.25" width="3.10" height="3.10" fill="#fff" stroke="#000" stroke-width="0.8"/>
<text transform="translate(598.80,149.00) scale(0.74,1)" font-family="'Liberation Sans', sans-serif" font-size="6.4" fill="#2a2a2a" textLength="67.03" lengthAdjust="spacing" stroke="#2a2a2a" stroke-width="0.1">ΔL69,V70ΔI(40%)</text>
<text x="645.30" y="59.90" font-family="'Liberation Sans', sans-serif" font-size="6.6" fill="#111" font-weight="bold" textLength="5.00" lengthAdjust="spacingAndGlyphs">Y</text>
<g stroke="#444" stroke-width="0.9" fill="none">
<line x1="358.6" y1="171" x2="358.6" y2="260.7"/>
<line x1="358.20000000000005" y1="260.3" x2="472.56" y2="260.3"/>
<line x1="356.3" y1="260.30" x2="358.6" y2="260.30"/>
<line x1="356.3" y1="243.38" x2="358.6" y2="243.38"/>
<line x1="356.3" y1="226.46" x2="358.6" y2="226.46"/>
<line x1="356.3" y1="209.54" x2="358.6" y2="209.54"/>
<line x1="356.3" y1="192.62" x2="358.6" y2="192.62"/>
<line x1="356.3" y1="175.70" x2="358.6" y2="175.70"/>
<line x1="358.60" y1="260.3" x2="358.60" y2="262.6" stroke="#777"/>
<line x1="368.96" y1="260.3" x2="368.96" y2="262.6" stroke="#777"/>
<line x1="379.32" y1="260.3" x2="379.32" y2="262.6" stroke="#777"/>
<line x1="389.68" y1="260.3" x2="389.68" y2="262.6" stroke="#777"/>
<line x1="400.04" y1="260.3" x2="400.04" y2="262.6" stroke="#777"/>
<line x1="410.40" y1="260.3" x2="410.40" y2="262.6" stroke="#777"/>
<line x1="420.76" y1="260.3" x2="420.76" y2="262.6" stroke="#777"/>
<line x1="431.12" y1="260.3" x2="431.12" y2="262.6" stroke="#777"/>
<line x1="441.48" y1="260.3" x2="441.48" y2="262.6" stroke="#777"/>
<line x1="451.84" y1="260.3" x2="451.84" y2="262.6" stroke="#777"/>
<line x1="462.20" y1="260.3" x2="462.20" y2="262.6" stroke="#777"/>
<line x1="472.56" y1="260.3" x2="472.56" y2="262.6" stroke="#777"/>
</g>
<text x="355.30" y="262.20" font-family="'Liberation Sans', sans-serif" font-size="5.2" fill="#333" text-anchor="end" textLength="2.65" lengthAdjust="spacingAndGlyphs" stroke="#333" stroke-width="0.15">0</text>
<text x="355.30" y="245.28" font-family="'Liberation Sans', sans-serif" font-size="5.2" fill="#333" text-anchor="end" textLength="5.30" lengthAdjust="spacingAndGlyphs" stroke="#333" stroke-width="0.15">20</text>
<text x="355.30" y="228.36" font-family="'Liberation Sans', sans-serif" font-size="5.2" fill="#333" text-anchor="end" textLength="5.30" lengthAdjust="spacingAndGlyphs" stroke="#333" stroke-width="0.15">40</text>
<text x="355.30" y="211.44" font-family="'Liberation Sans', sans-serif" font-size="5.2" fill="#333" text-anchor="end" textLength="5.30" lengthAdjust="spacingAndGlyphs" stroke="#333" stroke-width="0.15">60</text>
<text x="355.30" y="194.52" font-family="'Liberation Sans', sans-serif" font-size="5.2" fill="#333" text-anchor="end" textLength="5.30" lengthAdjust="spacingAndGlyphs" stroke="#333" stroke-width="0.15">80</text>
<text x="355.30" y="177.60" font-family="'Liberation Sans', sans-serif" font-size="5.2" fill="#333" text-anchor="end" textLength="7.95" lengthAdjust="spacingAndGlyphs" stroke="#333" stroke-width="0.15">100</text>
<text x="358.60" y="270.90" font-family="'Liberation Sans', sans-serif" font-size="5.2" fill="#333" text-anchor="middle" textLength="2.50" lengthAdjust="spacingAndGlyphs" stroke="#333" stroke-width="0.15">0</text>
<text x="368.96" y="270.90" font-family="'Liberation Sans', sans-serif" font-size="5.2" fill="#333" text-anchor="middle" textLength="2.50" lengthAdjust="spacingAndGlyphs" stroke="#333" stroke-width="0.15">2</text>
<text x="379.32" y="270.90" font-family="'Liberation Sans', sans-serif" font-size="5.2" fill="#333" text-anchor="middle" textLength="2.50" lengthAdjust="spacingAndGlyphs" stroke="#333" stroke-width="0.15">4</text>
<text x="389.68" y="270.90" font-family="'Liberation Sans', sans-serif" font-size="5.2" fill="#333" text-anchor="middle" textLength="2.50" lengthAdjust="spacingAndGlyphs" stroke="#333" stroke-width="0.15">6</text>
<text x="400.04" y="270.90" font-family="'Liberation Sans', sans-serif" font-size="5.2" fill="#333" text-anchor="middle" textLength="2.50" lengthAdjust="spacingAndGlyphs" stroke="#333" stroke-width="0.15">8</text>
<text x="410.40" y="270.90" font-family="'Liberation Sans', sans-serif" font-size="5.2" fill="#333" text-anchor="middle" textLength="5.00" lengthAdjust="spacingAndGlyphs" stroke="#333" stroke-width="0.15">10</text>
<text x="420.76" y="270.90" font-family="'Liberation Sans', sans-serif" font-size="5.2" fill="#333" text-anchor="middle" textLength="5.00" lengthAdjust="spacingAndGlyphs" stroke="#333" stroke-width="0.15">12</text>
<text x="431.12" y="270.90" font-family="'Liberation Sans', sans-serif" font-size="5.2" fill="#333" text-anchor="middle" textLength="5.00" lengthAdjust="spacingAndGlyphs" stroke="#333" stroke-width="0.15">14</text>
<text x="441.48" y="270.90" font-family="'Liberation Sans', sans-serif" font-size="5.2" fill="#333" text-anchor="middle" textLength="5.00" lengthAdjust="spacingAndGlyphs" stroke="#333" stroke-width="0.15">16</text>
<text x="451.84" y="270.90" font-family="'Liberation Sans', sans-serif" font-size="5.2" fill="#333" text-anchor="middle" textLength="5.00" lengthAdjust="spacingAndGlyphs" stroke="#333" stroke-width="0.15">18</text>
<text x="462.20" y="270.90" font-family="'Liberation Sans', sans-serif" font-size="5.2" fill="#333" text-anchor="middle" textLength="5.00" lengthAdjust="spacingAndGlyphs" stroke="#333" stroke-width="0.15">20</text>
<text x="472.56" y="270.90" font-family="'Liberation Sans', sans-serif" font-size="5.2" fill="#333" text-anchor="middle" textLength="5.00" lengthAdjust="spacingAndGlyphs" stroke="#333" stroke-width="0.15">22</text>
<text x="402.80" y="161.80" font-family="'Liberation Serif', serif" font-size="8.8" fill="#111" font-weight="bold" textLength="24.50" lengthAdjust="spacingAndGlyphs">60 mg</text>
<text transform="translate(342.50,240.00) rotate(-90)" font-family="'Liberation Serif', serif" font-size="8.2" fill="#333" textLength="47.00" lengthAdjust="spacing">% Survival</text>
<text transform="translate(362.30,282.80) scale(0.72,1)" font-family="'Liberation Serif', serif" font-size="8.4" fill="#333" textLength="147.22" lengthAdjust="spacing">Days after peptide exposure</text>
<path d="M358.60,175.70H467.38V175.70" stroke="#000" stroke-width="1.2" fill="none"/>
<path d="M363.78,175.70H363.78V260.30" stroke="#000" stroke-width="1.3" fill="none"/>
<circle cx="363.78" cy="260.30" r="1.80" fill="#000"/>
<path d="M467.38,174.05 L468.88,175.70 L467.38,177.35 L465.88,175.70Z" fill="#000"/>
<line x1="479" y1="178.5" x2="485" y2="178.5" stroke="#000" stroke-width="0.9"/>
<circle cx="482.00" cy="178.50" r="1.95" fill="#000"/>
<text transform="translate(491.00,180.70) scale(0.74,1)" font-family="'Liberation Sans', sans-serif" font-size="6.0" fill="#2a2a2a" textLength="31.62" lengthAdjust="spacing" stroke="#2a2a2a" stroke-width="0.1">WT(0%)</text>
<line x1="479" y1="189" x2="485" y2="189" stroke="#000" stroke-width="0.9"/>
<rect x="480.05" y="187.05" width="3.90" height="3.90" fill="#000"/>
<text transform="translate(491.00,191.20) scale(0.74,1)" font-family="'Liberation Sans', sans-serif" font-size="6.0" fill="#2a2a2a" textLength="30.14" lengthAdjust="spacing" stroke="#2a2a2a" stroke-width="0.1">ΔC(0%)</text>
<line x1="479" y1="199.9" x2="485" y2="199.9" stroke="#000" stroke-width="0.9"/>
<path d="M482.00,197.56 L484.24,201.46 L479.76,201.46Z" fill="#000"/>
<text transform="translate(491.00,202.10) scale(0.74,1)" font-family="'Liberation Sans', sans-serif" font-size="6.0" fill="#2a2a2a" textLength="25.95" lengthAdjust="spacing" stroke="#2a2a2a" stroke-width="0.1">ΔI(0%)</text>
<line x1="479" y1="210.9" x2="485" y2="210.9" stroke="#000" stroke-width="0.9"/>
<path d="M482.00,208.75 L483.95,210.90 L482.00,213.05 L480.05,210.90Z" fill="#000"/>
<text transform="translate(491.00,213.10) scale(0.74,1)" font-family="'Liberation Sans', sans-serif" font-size="6.0" fill="#2a2a2a" textLength="60.27" lengthAdjust="spacing" stroke="#2a2a2a" stroke-width="0.1">ΔCΔI(100%)*ΦΦ</text>
<text x="8.60" y="274.60" font-family="'Liberation Serif', serif" font-size="16" fill="#111" font-weight="bold">b</text>
<g stroke="#333" stroke-width="1.3" fill="none">
<line x1="1" y1="286.8" x2="657" y2="286.8"/>
<line x1="1" y1="313.5" x2="657" y2="313.5"/>
<line x1="1" y1="344.7" x2="657" y2="344.7"/>
<line x1="1" y1="376" x2="657" y2="376"/>
</g>
<g stroke="#111" stroke-width="1.2" fill="none">
<line x1="1.6" y1="286.2" x2="1.6" y2="376.5"/>
<line x1="82.5" y1="286.2" x2="82.5" y2="376.5"/>
<line x1="195.5" y1="286.2" x2="195.5" y2="376.5"/>
<line x1="311.8" y1="286.2" x2="311.8" y2="376.5"/>
<line x1="428.6" y1="286.2" x2="428.6" y2="376.5"/>
<line x1="545.7" y1="286.2" x2="545.7" y2="376.5"/>
<line x1="656.3" y1="286.2" x2="656.3" y2="376.5"/>
</g>
<text x="28.80" y="300.70" font-family="'Liberation Serif', serif" font-size="10.8" fill="#222" textLength="26.00" lengthAdjust="spacingAndGlyphs">Group</text>
<text x="20.20" y="327.90" font-family="'Liberation Serif', serif" font-size="10.8" fill="#222" textLength="46.10" lengthAdjust="spacingAndGlyphs">Score ± SD</text>
<text x="20.20" y="358.70" font-family="'Liberation Serif', serif" font-size="10.8" fill="#222" textLength="44.20" lengthAdjust="spacingAndGlyphs">Number of</text>
<text x="10.00" y="370.60" font-family="'Liberation Serif', serif" font-size="10.8" fill="#222" textLength="64.00" lengthAdjust="spacingAndGlyphs">lesions per lung</text>
<text x="139.00" y="300.70" font-family="'Liberation Serif', serif" font-size="11.5" fill="#111" font-weight="bold" text-anchor="middle">WT</text>
<text x="253.65" y="300.70" font-family="'Liberation Serif', serif" font-size="11.5" fill="#111" font-weight="bold" text-anchor="middle">ΔC</text>
<text x="370.20" y="300.70" font-family="'Liberation Serif', serif" font-size="11.5" fill="#111" font-weight="bold" text-anchor="middle">ΔI</text>
<text x="466.6" y="300.7" font-family="'Liberation Serif', serif" font-size="11.5" font-weight="bold" fill="#111">ΔCΔI*<tspan font-weight="normal" font-size="8" dy="-3.5" fill="#777" dx="0.5">βΦ</tspan></text>
<text x="583.3" y="300.7" font-family="'Liberation Serif', serif" font-size="11.5" font-weight="bold" fill="#111">PBS<tspan font-weight="normal" font-size="10" dy="-1.5">*</tspan><tspan font-weight="normal" font-size="8" dy="-2" fill="#777" dx="1.5">βΦ</tspan></text>
<text x="139.00" y="327.90" font-family="'Liberation Serif', serif" font-size="10.8" fill="#222" text-anchor="middle" textLength="40.80" lengthAdjust="spacingAndGlyphs">10.3 ± 2.1</text>
<text x="253.65" y="327.90" font-family="'Liberation Serif', serif" font-size="10.8" fill="#222" text-anchor="middle" textLength="40.80" lengthAdjust="spacingAndGlyphs">11.7 ± 4.7</text>
<text x="370.20" y="327.90" font-family="'Liberation Serif', serif" font-size="10.8" fill="#222" text-anchor="middle" textLength="40.80" lengthAdjust="spacingAndGlyphs">15.0 ± 4.4</text>
<text x="487.15" y="327.90" font-family="'Liberation Serif', serif" font-size="10.8" fill="#222" text-anchor="middle" textLength="40.80" lengthAdjust="spacingAndGlyphs">0.0 ± 0.0</text>
<text x="601.00" y="327.90" font-family="'Liberation Serif', serif" font-size="10.8" fill="#222" text-anchor="middle" textLength="40.80" lengthAdjust="spacingAndGlyphs">0.0 ± 0.0</text>
<text x="139.00" y="358.70" font-family="'Liberation Serif', serif" font-size="10.8" fill="#222" text-anchor="middle">12, 11, 8</text>
<text x="253.65" y="358.70" font-family="'Liberation Serif', serif" font-size="10.8" fill="#222" text-anchor="middle">17, 8, 10</text>
<text x="370.20" y="358.70" font-family="'Liberation Serif', serif" font-size="10.8" fill="#222" text-anchor="middle">18, 17, 10</text>
<text x="487.15" y="358.70" font-family="'Liberation Serif', serif" font-size="10.8" fill="#222" text-anchor="middle">0, 0, 0</text>
<text x="601.00" y="358.70" font-family="'Liberation Serif', serif" font-size="10.8" fill="#222" text-anchor="middle">0, 0, 0</text>
<defs>
<filter id="sh" x="-5%" y="-5%" width="110%" height="115%"><feGaussianBlur stdDeviation="1"/></filter>
<filter id="sm" x="-2%" y="-2%" width="104%" height="104%"><feGaussianBlur stdDeviation="0.6"/></filter>
<filter id="hb" x="0" y="0" width="100%" height="100%"><feGaussianBlur stdDeviation="0.35"/></filter>
<filter id="sm2" x="-30%" y="-30%" width="160%" height="160%"><feGaussianBlur stdDeviation="1.6"/></filter>
<clipPath id="cp0"><rect x="83.2" y="376.8" width="112.1" height="107.4"/></clipPath>
<filter id="tv0" x="0" y="0" width="100%" height="100%" color-interpolation-filters="sRGB"><feTurbulence type="fractalNoise" baseFrequency="0.15" numOctaves="2" seed="21" result="t"/><feColorMatrix in="t" type="matrix" values="0 0 0 0 0  0 0 0 0 0  0 0 0 0 0  3 0 0 0 -1.3" result="a"/><feFlood flood-color="#9a3aa4"/><feComposite in2="a" operator="in"/></filter>
<filter id="nv0" x="0" y="0" width="100%" height="100%" color-interpolation-filters="sRGB"><feTurbulence type="fractalNoise" baseFrequency="0.7" numOctaves="1" seed="26" result="t"/><feColorMatrix in="t" type="matrix" values="0 0 0 0 0  0 0 0 0 0  0 0 0 0 0  9 0 0 0 -5.0" result="a"/><feFlood flood-color="#6a2088"/><feComposite in2="a" operator="in"/></filter>
<clipPath id="cp1"><rect x="196.8" y="376.8" width="114.5" height="107.4"/></clipPath>
<filter id="tv1" x="0" y="0" width="100%" height="100%" color-interpolation-filters="sRGB"><feTurbulence type="fractalNoise" baseFrequency="0.15" numOctaves="2" seed="22" result="t"/><feColorMatrix in="t" type="matrix" values="0 0 0 0 0  0 0 0 0 0  0 0 0 0 0  3.2 0 0 0 -1.1" result="a"/><feFlood flood-color="#7a40b0"/><feComposite in2="a" operator="in"/></filter>
<filter id="nv1" x="0" y="0" width="100%" height="100%" color-interpolation-filters="sRGB"><feTurbulence type="fractalNoise" baseFrequency="0.7" numOctaves="1" seed="27" result="t"/><feColorMatrix in="t" type="matrix" values="0 0 0 0 0  0 0 0 0 0  0 0 0 0 0  9 0 0 0 -5.0" result="a"/><feFlood flood-color="#4a1888"/><feComposite in2="a" operator="in"/></filter>
<clipPath id="cp2"><rect x="312.6" y="376.8" width="115.7" height="107.4"/></clipPath>
<filter id="tv2" x="0" y="0" width="100%" height="100%" color-interpolation-filters="sRGB"><feTurbulence type="fractalNoise" baseFrequency="0.15" numOctaves="2" seed="23" result="t"/><feColorMatrix in="t" type="matrix" values="0 0 0 0 0  0 0 0 0 0  0 0 0 0 0  3 0 0 0 -1.3" result="a"/><feFlood flood-color="#6c2490"/><feComposite in2="a" operator="in"/></filter>
<filter id="nv2" x="0" y="0" width="100%" height="100%" color-interpolation-filters="sRGB"><feTurbulence type="fractalNoise" baseFrequency="0.7" numOctaves="1" seed="28" result="t"/><feColorMatrix in="t" type="matrix" values="0 0 0 0 0  0 0 0 0 0  0 0 0 0 0  9 0 0 0 -5.0" result="a"/><feFlood flood-color="#44106a"/><feComposite in2="a" operator="in"/></filter>
<clipPath id="cp3"><rect x="429.6" y="376.8" width="115.7" height="107.4"/></clipPath>
<filter id="tv3" x="0" y="0" width="100%" height="100%" color-interpolation-filters="sRGB"><feTurbulence type="fractalNoise" baseFrequency="0.15" numOctaves="2" seed="24" result="t"/><feColorMatrix in="t" type="matrix" values="0 0 0 0 0  0 0 0 0 0  0 0 0 0 0  3 0 0 0 -1.3" result="a"/><feFlood flood-color="#6c3c9c"/><feComposite in2="a" operator="in"/></filter>
<filter id="nv3" x="0" y="0" width="100%" height="100%" color-interpolation-filters="sRGB"><feTurbulence type="fractalNoise" baseFrequency="0.7" numOctaves="1" seed="29" result="t"/><feColorMatrix in="t" type="matrix" values="0 0 0 0 0  0 0 0 0 0  0 0 0 0 0  9 0 0 0 -5.0" result="a"/><feFlood flood-color="#4a2880"/><feComposite in2="a" operator="in"/></filter>
<clipPath id="cp4"><rect x="546.9" y="376.8" width="109.3" height="107.4"/></clipPath>
<filter id="tv4" x="0" y="0" width="100%" height="100%" color-interpolation-filters="sRGB"><feTurbulence type="fractalNoise" baseFrequency="0.15" numOctaves="2" seed="25" result="t"/><feColorMatrix in="t" type="matrix" values="0 0 0 0 0  0 0 0 0 0  0 0 0 0 0  3 0 0 0 -1.3" result="a"/><feFlood flood-color="#7c3a9c"/><feComposite in2="a" operator="in"/></filter>
<filter id="nv4" x="0" y="0" width="100%" height="100%" color-interpolation-filters="sRGB"><feTurbulence type="fractalNoise" baseFrequency="0.7" numOctaves="1" seed="30" result="t"/><feColorMatrix in="t" type="matrix" values="0 0 0 0 0  0 0 0 0 0  0 0 0 0 0  9 0 0 0 -5.0" result="a"/><feFlood flood-color="#50186e"/><feComposite in2="a" operator="in"/></filter>
</defs>
<rect x="83" y="378" width="574" height="108" fill="#999" filter="url(#sh)" opacity="0.7"/>
<g clip-path="url(#cp0)"><g filter="url(#hb)">
<rect x="83.2" y="376.8" width="112.1" height="107.4" fill="#d884c2"/>
<rect x="83.2" y="376.8" width="112.1" height="107.4" fill="#fff" filter="url(#tv0)"/>
<rect x="83.2" y="376.8" width="112.1" height="107.4" fill="#fff" filter="url(#nv0)"/>
<g filter="url(#sm)"><g transform="translate(83.2 376.8) scale(.5)"><path d="M20 155 21 157 29 161 38 153 34 145 31 145 26 147ZM114 39 112 31 105 29 100 39 106 48 109 47ZM182 113 186 102 186 102 192 105 194 110 190 119 188 120 182 116ZM143 5 139 0 129 -1 126 9 133 11 139 10ZM52 47 50 38 46 38 38 47 38 47 51 49ZM113 24 106 23 106 22 106 16 107 10 109 9 119 13 115 23ZM27 214 15 217 13 216 13 209 19 201 26 204ZM133 69 132 67 121 65 118 70 121 75 128 77ZM49 166 52 179 52 180 47 181 42 177 42 171ZM228 195 248 206 225 210 222 203 223 197ZM173 124 180 120 186 123 186 127 177 134 174 134 170 128ZM11 106 9 98 9 98 19 95 25 98 26 102 25 107 23 107ZM36 203 32 205 32 213 33 214 37 213 42 210 44 207 43 205ZM87 68 83 73 85 82 91 83 94 73ZM-3 14 -1 10 -4 5 -37 11ZM124 171 118 168 122 162 130 164 129 169ZM138 113 145 116 145 125 140 130 136 129 131 120ZM27 25 27 33 31 36 37 31 38 25 34 23ZM216 78 224 75 226 72 225 69 218 65 212 67 216 77ZM65 20 69 7 63 6 59 10 59 12ZM195 171 191 179 185 180 185 179 185 170 185 169 194 170ZM155 157 151 145 156 144 164 146 164 151ZM220 128 222 126 234 122 251 126 228 134 219 134ZM114 71 106 70 105 71 106 83 112 85 117 77ZM206 21 199 29 199 29 204 34 207 32 209 25ZM201 3 193 7 188 3 189 -1 195 -8 202 -1ZM55 84 65 83 66 84 64 95 63 96 51 91ZM15 73 3 78 1 77 -1 67 2 58 2 58 5 59 15 68ZM175 -8 164 -47 161 -3 170 2ZM144 86 144 86 145 87 142 95 136 99 130 92 132 84ZM196 60 199 57 203 58 205 64 200 67 196 66 194 62ZM50 165 51 163 52 163 60 172 54 179ZM154 217 156 213 160 213 163 216 162 218 157 219ZM129 138 135 133 140 134 144 143 135 149 130 146ZM145 50 135 56 128 51 129 44 135 40ZM15 17 7 10 14 4 15 6ZM152 27 157 24 157 15 151 7 147 7 142 14 147 25ZM65 99 62 106 65 109 72 109 73 100 66 98ZM170 121 164 112 159 113 161 126 167 127ZM164 191 158 190 158 197 164 200 169 200 170 198 168 193ZM-1 163 0 163 11 168 12 173 1 180 -3 173ZM156 46 166 43 170 44 172 51 167 55 167 56 155 47ZM60 -7 60 -7 73 -4 69 3 69 3 64 2ZM63 198 60 207 64 211 65 211 68 209 69 202 66 198ZM109 124 108 118 109 115 116 115 119 119 114 125ZM17 126 19 129 15 135 11 137 10 137 7 132 11 125ZM103 115 92 116 90 114 91 109 102 107 105 112ZM83 35 82 41 84 47 88 47 94 40 83 35ZM194 166 185 165 184 158 188 152 189 152 195 160ZM39 79 40 83 48 88 48 88 51 82 50 76 41 74ZM140 216 145 214 150 218 143 225ZM204 172 207 180 212 180 217 177 211 168ZM174 153 180 154 185 149 177 140 174 140 170 145 170 150ZM167 98 169 104 178 99 174 92ZM69 149 79 147 80 147 77 135 72 132 60 140ZM49 208 57 209 62 214 53 224 47 212ZM48 184 47 188 50 195 55 192 55 185 53 183ZM111 88 105 86 97 89 97 93 105 99 113 93ZM64 25 66 27 66 29 63 33 54 34 53 26ZM8 35 3 38 -3 36 -5 31 1 26 7 28ZM35 8 40 6 42 3 42 0 38 -3 31 -2 29 4 30 6ZM189 65 192 69 187 78 186 77 182 70 182 69 185 65ZM212 -2 205 0 204 4 207 9 213 6 213 -1ZM114 145 121 150 118 155 112 153 111 149ZM47 0 57 -7 61 4 57 7 47 3ZM129 83 127 91 117 93 116 92 114 87 119 78 128 80ZM196 32 188 38 191 43 196 43 201 38 201 37ZM34 191 30 184 25 182 24 182 18 193 20 197 28 201 34 198ZM213 160 214 159 219 150 214 140 207 149 208 155ZM133 170 133 164 137 161 148 164 145 175 138 175ZM214 78 210 67 208 66 202 70 205 80ZM-6 143 -1 145 -1 152 -12 147ZM104 5 106 4 108 -4 101 -20 93 -2ZM83 180 87 186 82 192 73 186 72 184 74 179 77 178ZM171 75 169 80 174 84 183 80 178 74ZM38 116 45 114 46 108 44 102 32 103 31 108ZM145 72 151 69 153 69 154 77 147 83 147 83ZM36 126 41 134 51 133 50 124 46 119 38 120ZM10 39 6 42 3 54 6 54 14 47 13 40ZM19 73 22 76 35 77 38 72 36 65 25 63 19 68ZM145 97 152 100 159 95 158 92 147 87ZM116 57 117 62 114 67 106 67 104 56 106 53 110 52ZM56 140 52 136 41 138 36 144 41 151 46 153ZM160 96 164 99 166 105 166 106 163 109 158 111 156 110 154 101ZM202 188 202 193 208 195 213 191 212 184 207 185ZM163 171 154 164 151 166 149 175 152 180 155 182ZM228 21 224 31 234 38 279 29 231 19ZM94 170 99 174 107 174 109 170 104 166 94 169ZM143 69 150 66 146 52 146 52 138 59 136 65 137 67ZM203 19 197 27 191 20 194 15 203 18 203 18ZM194 29 188 23 180 24 180 25 182 33 186 34 194 30ZM132 193 129 187 124 186 119 188 120 197 122 199 132 197 132 197ZM211 101 219 105 222 104 224 99 221 95 216 92 212 95ZM17 156 18 158 12 165 1 161 2 156 12 153ZM84 86 83 87 81 96 87 100 93 93 93 89 90 87ZM22 79 22 91 27 94 35 85 34 80ZM9 108 24 110 18 123 12 122 7 114ZM126 44 118 41 113 49 119 54 124 50ZM196 144 198 136 202 136 212 139 212 139 205 146ZM178 52 176 51 174 43 180 37 185 39 188 45 185 48ZM96 146 93 145 83 148 83 149 87 158 89 159 96 154 97 148ZM68 85 80 86 77 96 74 97 67 95ZM102 197 106 200 115 198 113 189 110 187 102 191ZM50 56 40 60 39 50 49 51ZM132 212 133 202 122 203 123 212 129 214ZM99 144 104 139 112 143 112 143 108 148 101 146ZM121 132 127 135 133 130 128 122 124 122 118 129ZM162 16 171 14 175 21 174 23 165 24 161 23ZM146 47 137 38 138 34 146 29 151 30 152 43 151 45 147 47ZM40 180 33 183 37 189 43 186 45 183ZM227 98 256 93 230 85 225 93ZM142 72 145 84 132 82 131 79 136 70ZM87 127 79 130 76 128 75 124 79 119 85 118 87 120 87 126ZM122 182 116 185 112 183 110 175 112 171 116 170 122 174ZM1 200 3 192 15 195 16 199 10 207 3 203ZM93 216 100 217 99 255 90 220ZM76 164 69 160 67 158 69 152 80 150 83 159ZM25 112 28 110 35 118 32 124 25 127 23 127 20 123ZM93 126 92 119 103 118 105 126 102 129ZM55 82 53 74 55 72 66 72 65 81ZM132 37 127 40 119 38 116 30 118 28 129 31 132 34ZM21 181 16 191 4 188 2 185 3 182 13 175ZM146 204 144 212 139 215 135 213 135 200 135 200ZM207 103 203 109 197 108 195 104 199 101ZM198 89 198 89 191 87 187 99 193 101 196 97ZM67 53 61 48 55 48 54 50 54 56 55 57 66 58 68 55ZM54 46 52 37 53 37 65 35 65 36 61 45ZM81 213 86 205 88 206 91 214 88 218 83 217ZM172 177 168 171 168 170 181 170 182 180 180 181ZM144 26 140 15 134 17 133 28 136 31ZM55 180 62 173 64 173 71 178 69 182 57 182 55 180ZM156 69 164 67 166 74 165 79 164 79 158 76ZM-3 213 -1 217 10 217 9 210 1 206ZM78 210 71 210 74 203 81 200 84 204ZM197 133 190 127 190 123 191 121 204 122 201 132ZM199 168 202 169 211 165 212 161 206 157 199 160 197 167ZM220 109 219 115 221 122 234 119 224 108ZM154 189 152 196 148 200 146 200 137 198 138 194 149 185 152 187ZM20 22 17 21 11 27 12 34 15 36 25 34 25 25ZM214 8 216 10 215 14 207 17 207 16 208 11ZM52 160 64 157 66 151 59 142 57 141 49 154 52 160ZM209 35 217 36 217 43 212 47 205 38 205 37ZM14 19 8 24 3 22 1 17 4 12 6 13 13 18ZM220 21 226 21 223 30 221 30 218 24ZM3 134 -1 134 -4 136 -3 140 0 142 6 139ZM28 163 20 160 14 168 14 172 24 179 25 179 29 167ZM185 184 191 184 197 188 197 193 197 193 188 195 186 194ZM94 213 100 214 103 213 104 204 99 201 90 205ZM104 137 104 132 108 128 115 129 117 135 113 142ZM84 10 82 12 81 12 74 5 77 -2 78 -2 87 1ZM65 23 53 23 50 21 50 20 57 13 64 21ZM107 212 113 216 118 212 118 204 116 202 108 205ZM84 33 88 27 101 26 102 27 97 37 95 38ZM149 205 153 212 152 215 151 215 147 212 148 205ZM216 184 219 181 220 181 225 189 225 191 221 194 217 190ZM215 162 216 162 226 164 228 171 221 176 220 176 215 166ZM26 60 26 53 32 48 35 50 35 50 36 60 36 62ZM47 164 49 162 46 156 40 154 31 163 32 166 40 169ZM101 57 97 57 88 64 88 65 96 69 102 68 103 68ZM54 59 55 70 66 70 66 69 66 60ZM45 188 37 191 36 198 46 202 48 196ZM157 114 155 113 148 116 148 125 157 127 159 126ZM107 160 107 163 111 168 115 166 118 160 118 157 111 156ZM53 121 61 118 62 111 60 107 50 109 48 116ZM36 11 42 9 47 20 47 20 40 23 36 20ZM50 93 49 93 47 100 50 107 59 105 62 98ZM169 168 180 167 181 166 179 159 173 158ZM202 87 201 87 205 82 214 81 214 81 214 89 210 91ZM97 143 93 142 90 130 91 129 102 132 101 137ZM33 12 33 20 27 22 22 19 28 10ZM17 66 7 57 17 50 22 53 22 60ZM16 76 5 81 7 94 18 90 19 79ZM115 143 119 136 126 138 127 147 122 149 115 143ZM199 46 204 40 211 48 211 49 205 55 201 53ZM222 179 228 188 246 178 230 174ZM45 214 38 218 50 231 51 224ZM22 130 18 137 25 144 30 143 24 130ZM215 139 215 139 218 136 228 138 228 149 221 149ZM97 185 100 187 109 183 107 177 100 178ZM160 91 161 94 165 96 173 90 173 87 166 82 165 83ZM127 53 135 58 133 65 120 62 120 56ZM185 82 186 82 189 86 185 99 184 99 181 97 176 91 176 88ZM124 152 128 149 133 152 134 158 131 161 122 159 122 157ZM88 50 95 55 87 61 82 55 85 50ZM189 10 186 6 177 10 177 11 180 19 187 17 189 13ZM201 196 206 199 208 203 205 211 203 212 200 208 200 197ZM12 151 1 154 1 153 2 145 8 141 9 141ZM144 99 151 102 153 110 146 113 140 110 138 102 138 102ZM59 138 71 130 70 125 62 121 54 123 54 133 58 138ZM134 101 134 101 121 106 118 96 127 94ZM213 136 215 134 215 128 206 123 206 123 203 132ZM68 195 72 200 81 198 81 194 71 187ZM171 180 165 187 170 190 179 182ZM148 85 156 79 163 82 158 89 148 86ZM85 112 78 113 76 109 76 101 79 100 85 104 86 107ZM84 175 89 170 89 169 87 163 85 162 80 167 78 174ZM61 197 57 207 49 206 47 202 50 197 57 194ZM183 63 179 69 170 59 175 54 178 55ZM208 101 209 94 201 89 200 98 208 101ZM67 22 69 24 80 15 71 8 70 8 67 20ZM86 178 89 185 95 185 97 177 92 171ZM169 179 166 172 166 172 156 184 158 186 164 186ZM155 199 150 203 156 210 160 210 162 204ZM100 16 102 25 88 24 84 16 87 13ZM185 2 174 8 172 2 177 -6 185 -1ZM196 72 200 72 202 80 199 85 192 83 189 80ZM16 39 18 47 23 49 31 45 29 39 25 36ZM27 8 26 6 17 6 16 17 17 19 20 19ZM166 143 171 137 167 130 160 129 159 130 157 140ZM216 126 218 123 216 115 207 117 206 121ZM12 3 10 -2 1 -1 -1 2 3 8 6 8ZM48 23 41 26 41 31 46 34 49 35 50 34 50 26ZM199 195 197 209 189 209 188 198ZM202 5 194 9 194 13 205 16 205 10ZM149 143 147 142 142 132 147 127 157 129 155 140ZM220 17 227 19 230 17 226 10 219 11 218 14ZM167 38 166 29 176 26 177 35 172 40ZM68 81 68 72 69 71 80 73 82 83 80 84 69 82ZM152 159 148 146 146 145 137 152 138 158 148 162 152 160ZM37 45 34 44 32 38 39 33 44 37ZM193 56 198 53 196 47 190 47 188 50ZM189 147 188 147 180 137 188 130 194 136 192 143ZM94 189 97 191 97 198 89 201 88 201 85 197 85 194 89 189ZM19 153 24 146 17 139 11 141 14 150ZM0 55 -1 54 -8 43 -4 40 2 41 1 54ZM212 206 219 205 222 210 220 213 208 212ZM34 126 39 136 34 143 32 142 25 130ZM39 171 32 169 27 179 32 181 39 177ZM222 35 223 34 232 39 226 45 220 43 220 37ZM131 28 132 16 124 13 123 13 118 26ZM69 50 70 44 66 37 64 45ZM28 96 30 101 44 99 47 92 38 85ZM198 157 191 150 196 147 204 150 205 155ZM71 122 76 115 72 112 66 112 64 118ZM130 183 135 177 131 172 126 175 125 181ZM154 43 165 39 163 29 158 27 153 29ZM125 -3 122 10 122 10 109 5 111 -3 123 -5ZM77 214 70 213 67 215 73 228 80 219ZM62 194 59 192 58 184 69 184 69 186 65 194ZM5 115 -5 118 -1 130 4 131 10 123ZM108 110 118 110 118 107 116 96 114 95 106 102 106 105ZM135 111 129 117 125 116 122 111 123 109 134 103ZM52 59 53 70 51 72 41 71 39 64 40 63 52 59ZM89 161 98 157 104 161 105 164 93 168ZM169 61 177 69 177 70 170 72 166 65 169 61ZM25 3 26 -3 25 -4 15 -5 14 -3 16 2 18 3ZM153 66 148 50 153 48 167 58 163 63 155 66ZM203 120 192 120 197 111 202 112 204 116 204 120ZM52 162 65 159 66 161 64 171 62 171ZM171 119 179 117 178 114 169 108 166 112ZM227 47 219 46 214 49 214 49 220 54 226 52ZM70 52 73 44 80 42 82 48 79 54 71 54ZM166 169 167 168 171 156 167 152 155 160 155 161 166 169ZM198 172 193 181 200 186 204 181 201 173ZM218 56 217 61 211 63 210 63 208 57 213 51ZM97 73 93 84 96 86 104 83 103 71ZM223 92 228 84 225 78 217 81 217 89ZM218 19 215 23 211 23 207 19 207 18 216 15ZM169 106 169 106 180 100 184 102 180 113ZM180 184 182 183 182 183 183 195 174 197 172 191ZM215 -2 226 -4 229 -1 226 7 218 8 216 6ZM215 26 220 32 217 34 209 33 212 25ZM75 175 72 177 66 171 67 162 76 166ZM102 104 103 101 96 95 89 102 91 106ZM101 54 97 54 90 48 95 41 97 40 104 50ZM100 148 99 155 105 159 110 154 108 150ZM-35 207 -3 201 -2 205 -5 212ZM164 205 162 211 165 214 174 211 171 203ZM55 12 56 10 46 5 44 8 49 19Z" fill="#fbf8fb"/><path d="M231 219 215 209M228 201 220 189M-7 23 -5 10M-7 23 7 16M2 212 19 210M6 4 21 -1M-8 127 2 124M117 0 127 22M117 0 102 -4M207 75 199 62M207 75 198 77M207 75 218 71M218 71 214 57M-5 147 0 138M22 169 28 191M22 169 35 175M212 119 210 111M212 119 227 129M199 116 208 128M227 129 224 144M129 209 126 191M220 50 214 57M169 -5 178 0M222 40 213 40M223 116 210 111M69 115 68 106M-5 89 5 69M-5 89 13 85M-5 89 18 102M104 92 99 79M104 92 113 104M87 93 74 78M87 93 99 79M87 93 90 75M37 95 55 101M37 95 39 107M37 95 28 86M102 -4 111 16M80 5 79 25M92 19 92 32M17 144 12 132M29 153 32 134M29 153 24 138M29 153 39 163M24 138 12 132M123 222 105 222M112 210 126 191M112 210 107 193M53 215 65 203M53 215 44 220M38 208 55 200M28 191 39 184M28 191 43 193M107 193 91 195M189 110 193 95M189 110 199 126M176 106 160 103M220 189 222 167M213 220 215 209M215 209 204 203M179 222 181 204M193 218 204 203M193 218 194 202M172 98 160 103M198 77 193 95M204 48 199 62M204 48 213 40M204 48 193 51M187 29 184 12M184 12 163 7M184 12 201 10M204 96 210 111M216 98 210 111M209 86 193 95M201 105 210 111M43 193 39 184M128 110 113 119M128 110 139 121M139 121 135 142M139 121 154 121M135 142 152 134M135 142 144 154M135 142 127 156M111 16 92 32M111 16 125 35M60 88 59 77M68 106 79 106M74 78 59 77M59 77 59 65M88 42 79 25M92 32 107 40M74 39 58 30M94 47 107 40M29 69 17 57M29 69 5 69M47 80 48 65M31 56 23 43M17 57 9 46M17 57 5 69M13 85 5 69M13 85 18 102M17 115 26 120M12 132 2 124M26 120 18 102M164 119 161 136M164 119 160 103M154 121 152 134M154 121 147 106M154 121 161 136M171 114 177 127M194 202 181 204M224 157 222 167M224 157 213 150M161 136 176 148M167 20 151 18M163 7 151 18M214 19 221 24M205 27 214 29M198 20 201 10M198 20 212 12M71 141 58 152M61 166 70 168M58 152 39 163M74 194 91 195M74 194 65 203M98 112 82 124M113 104 124 101M127 156 144 154M127 156 125 167M127 156 112 160M21 -1 20 11M7 16 19 29M60 52 59 41M60 52 59 65M60 52 76 64M60 52 76 47M67 44 76 47M67 44 59 41M59 41 45 30M59 41 58 30M76 64 76 47M44 54 48 65M57 19 58 30M45 30 33 29M121 47 127 59M121 47 125 35M121 47 133 49M111 61 107 40M127 59 125 70M97 208 91 195M77 206 75 219M102 181 91 195M102 181 101 170M188 138 191 161M158 216 167 210M170 219 181 204M190 190 177 191M139 168 138 184M170 33 165 48M172 68 174 78M187 57 178 63M187 57 187 69M182 45 165 48M182 45 178 63M46 174 62 178M46 174 56 171M46 174 39 184M62 178 70 168M62 178 51 190M56 171 39 163M99 123 95 136M146 36 125 35M146 36 138 23M146 36 151 18M146 36 160 35M146 36 165 48M138 23 151 18M133 49 143 63M160 35 165 48M165 48 157 58M29 16 19 29M29 16 35 2M40 16 35 2M20 11 35 2M83 170 92 151M92 178 80 185M75 158 70 168M203 163 191 161M213 150 222 167M191 161 174 164M190 174 175 174M138 184 157 172M157 207 145 194M157 207 164 197M157 58 143 63M157 58 149 76M107 144 110 137M107 144 92 151M105 153 92 151M120 143 110 137M110 137 95 136M145 194 166 179M157 172 166 179M165 161 175 174M124 101 147 106M124 101 137 90M156 85 149 76M152 94 147 106M171 184 166 179M177 191 175 174M139 78 137 90M139 78 149 76M122 86 137 90" stroke="#fbf8fb" stroke-width="4.4" fill="none"/></g></g>
<g transform="translate(83.2 376.8) scale(.5)">
<path d="M134 218 138 198 146 184 162 173 186 166 207 163 218 167 226 182 226 218Z" fill="#fbf8fb"/>
<path d="M70 26 68 31 65 36 59 39 53 38 47 36 44 31 42 26 43 21 46 16 53 16 59 15 64 17 68 21Z" fill="#fbf8fb"/>
<path d="M135 98 136 105 130 110 123 113 116 112 108 111 107 104 105 98 104 92 110 87 116 86 123 85 130 87 134 92Z" fill="#fbf8fb"/>
<path d="M173 60 173 69 168 74 163 78 156 80 150 75 146 69 145 60 145 52 152 47 157 44 162 45 170 44 171 53Z" fill="#fbf8fb"/>
<path d="M99 136 95 143 92 149 87 156 80 155 74 153 72 143 70 136 72 129 74 121 81 121 87 117 93 122 96 129Z" fill="#fbf8fb"/>
<path d="M38 98 37 102 32 106 25 108 18 106 11 106 7 102 7 98 8 95 11 91 18 89 25 89 31 92 37 94Z" fill="#fbf8fb"/>
<path d="M43 178 41 187 36 192 31 197 25 195 18 194 14 187 12 178 14 170 19 164 24 159 31 159 36 164 41 170Z" fill="#fbf8fb"/>
<path d="M211 70 211 77 206 80 201 85 194 85 189 81 183 77 184 70 185 64 190 61 194 56 201 56 207 59 209 65Z" fill="#fbf8fb"/>
<path d="M122 18 123 23 119 27 112 27 107 28 102 25 96 23 95 18 98 14 101 10 107 9 113 9 118 11 121 15Z" fill="#fbf8fb"/>
<path d="M182 136 183 140 181 143 176 144 171 144 167 143 165 140 163 136 164 133 168 131 171 128 176 129 180 130 182 133Z" fill="#fbf8fb"/>
<path d="M142 52 140 56 139 60 135 62 132 61 128 61 126 57 124 52 126 48 128 44 132 42 135 42 139 44 142 48Z" fill="#fbf8fb"/>
<path d="M64 -2 104 -2 102 6 66 4Z" fill="#fbf8fb"/>
<g fill="none" stroke-linecap="round" stroke-linejoin="round">
<path d="M133 218 137 198 145 184 162 173 186 166 207 162 219 168 223 186 224 218" stroke="#8a3a9e" stroke-width="3.6"/>
<path d="M62 2 84 5 104 9" stroke="#7a2a92" stroke-width="4.4"/>
</g>
<path d="M33 9 31 12 30 16 26 17 22 16 18 15 17 12 14 9 16 7 18 3 21 1 25 3 28 4 32 6Z" fill="#e0568e" stroke="#8a3096" stroke-width="2"/>
<path d="M177 37 177 40 175 42 172 43 169 43 167 41 165 40 163 37 166 35 166 33 169 32 172 33 175 33 177 35Z" fill="#e0568e"/>
<path d="M219 100 220 102 214 104 211 107 206 107 200 108 197 106 196 104 196 102 200 100 205 99 209 98 214 98 219 98Z" fill="#e06898"/>
<path d="M73 180 72 182 72 183 70 184 69 184 67 184 66 182 66 180 66 179 67 177 69 176 70 177 72 178 73 179Z" fill="#e0508a"/>
</g>
</g></g>
<g clip-path="url(#cp1)"><g filter="url(#hb)">
<rect x="196.8" y="376.8" width="114.5" height="107.4" fill="#b894d6"/>
<rect x="196.8" y="376.8" width="114.5" height="107.4" fill="#fff" filter="url(#tv1)"/>
<rect x="196.8" y="376.8" width="114.5" height="107.4" fill="#fff" filter="url(#nv1)"/>
<g filter="url(#sm)"><g transform="translate(196.8 376.8) scale(.5)"><path d="M228 21 231 18 235 21 233 26 229 24ZM157 71 155 67 150 66 149 67 149 72 154 76ZM52 214 50 212 46 212 41 218 43 220 51 219ZM136 215 137 205 145 206 143 215 136 215ZM208 128 212 134 215 130 214 126 211 126ZM42 189 38 185 32 187 29 192 30 194 35 196 39 194ZM224 170 223 173 224 176 226 177 229 173 225 170ZM128 158 127 156 129 151 134 151 136 155 135 158ZM186 212 180 215 181 219 188 219 189 215ZM27 191 29 186 24 179 23 179 21 181 20 186 23 190ZM34 5 39 1 36 -4 31 -5 28 0 30 3ZM-1 205 -6 206 -10 211 -6 214 0 212 0 212ZM115 85 117 82 121 82 122 88 122 90 115 91ZM226 65 223 67 215 64 215 61 220 56 226 60ZM133 60 134 53 138 55 139 62 137 62ZM125 7 126 13 124 14 120 12 118 8 122 6ZM81 85 75 89 73 93 77 96 79 96 82 92ZM224 211 228 214 225 220 216 219 216 218 220 213ZM31 114 36 118 35 119 32 123 27 119 28 115ZM70 77 74 76 72 69 70 69 69 71ZM-4 111 1 112 2 114 2 121 0 122 -8 117 -5 111ZM150 31 154 33 155 38 149 42 149 42 149 42 148 33ZM-1 83 2 82 6 84 6 87 3 89 -1 88ZM223 101 225 96 226 94 222 92 220 94 219 98 220 102ZM111 113 115 119 115 119 116 117 116 112 116 111 112 111ZM173 137 167 141 172 146 172 146 175 145 176 143ZM184 188 180 185 183 179 190 181 191 181 190 186 185 188ZM164 87 166 88 167 93 164 95 161 93 161 91ZM0 219 0 220 -4 221 -5 217 0 216ZM21 43 21 44 16 43 13 36 19 35 21 38ZM204 34 202 33 203 30 208 26 210 28 211 34ZM15 105 9 103 8 100 15 96 17 97ZM78 163 78 159 77 159 72 160 70 165 75 168 75 168ZM199 -7 194 -2 197 2 199 2 203 -1 202 -4ZM173 96 173 99 171 102 169 102 166 100 166 98 169 95ZM47 55 50 49 46 46 45 46 43 54 45 56ZM152 4 150 3 148 1 148 0 152 -2 155 2 154 2ZM140 1 143 -1 143 -1 141 -4 140 -4 139 -2ZM0 174 -5 176 -11 168 -8 166 -2 168 1 172ZM51 111 53 113 52 116 48 118 43 116 45 113ZM74 202 71 198 72 192 77 190 79 190 80 191 79 199 75 202ZM127 71 125 72 124 77 131 78 131 78 130 72ZM116 28 122 29 120 35 116 35 115 32ZM169 184 167 179 159 180 158 181 161 188 166 187ZM34 81 39 83 38 88 35 90 33 86 34 81ZM33 30 32 28 34 23 42 24 43 25 39 32 39 32ZM88 42 86 47 82 47 80 45 82 40 88 40ZM180 -33 177 -8 182 -3 183 -3 187 -4ZM10 -1 10 -1 17 2 15 9 8 6ZM112 216 112 209 115 208 118 211 118 214ZM93 138 91 137 92 135 95 134 95 136 94 137ZM65 234 76 220 76 214 76 213 67 218ZM51 5 53 -1 51 -3 48 -3 44 1 46 4 50 5ZM60 -3 66 -28 67 -4 62 -2ZM32 106 36 104 36 102 33 98 29 100 29 102ZM80 188 81 181 75 177 74 181 77 187ZM130 200 129 197 126 194 125 193 121 195 120 195 121 199 126 201ZM121 38 116 38 113 42 120 44 121 44 122 40ZM51 63 48 66 47 65 45 63 46 59 48 59 51 60ZM77 204 78 211 79 211 86 211 88 206 86 203 81 201ZM107 142 107 136 100 135 99 139 101 141ZM80 54 77 55 76 59 77 61 82 59 83 57ZM8 20 13 20 13 20 10 31 5 28 6 23ZM190 42 191 39 185 36 182 39 182 44 189 43ZM152 143 154 140 152 134 147 135 145 139 147 144 147 144ZM220 122 225 125 223 132 217 130 217 126ZM42 155 47 159 54 154 54 154 53 149 52 148 49 148 43 153 42 155ZM80 84 80 84 73 87 69 83 69 81 70 80 75 79 76 79 80 83ZM127 189 134 184 126 180 126 181 126 189ZM126 150 124 154 118 152 119 150 122 148 125 149ZM136 49 140 50 143 49 146 44 146 44 140 43 138 43 136 49ZM234 130 232 125 234 122 254 126 236 130ZM5 135 -4 135 -5 131 0 126 5 135ZM182 21 186 22 189 14 185 13 180 17 180 20ZM170 40 171 44 169 46 165 46 165 44 169 40ZM78 145 79 140 82 140 85 141 84 145 79 146ZM24 208 22 211 26 217 32 216 31 210 24 208ZM24 12 28 5 32 8 35 13 31 17 28 17ZM111 23 114 27 112 31 107 32 106 31 108 24ZM113 52 113 52 116 52 120 47 112 44 111 45 110 46ZM102 156 102 157 105 155 103 153 101 154ZM51 33 46 27 44 26 41 32 47 36 51 33ZM-5 18 -3 15 3 15 5 18 3 20 -4 19ZM202 116 201 114 196 111 192 114 194 121 194 121 199 120ZM133 24 129 26 125 26 127 18 129 17 130 18 134 23ZM163 120 161 120 158 114 160 113 165 114 166 115ZM226 209 229 212 232 211 233 208 231 206 227 205 226 206ZM208 83 203 85 201 80 206 76 208 82ZM138 177 138 183 139 183 148 179 144 171ZM56 146 64 143 64 141 56 137 55 146ZM198 59 198 66 194 68 191 68 190 65 192 59 197 59ZM108 23 99 22 101 30 104 30ZM11 52 15 54 20 52 21 47 15 47 11 50ZM193 135 185 136 185 141 190 144 194 136ZM113 -5 111 -20 105 -6 111 -3ZM23 68 14 70 13 71 15 77 24 71ZM47 69 49 72 48 78 48 78 46 78 43 72 46 69ZM23 144 23 148 23 148 28 146 28 146 26 142 25 142ZM218 104 215 100 209 100 210 106 216 106ZM188 70 184 74 180 73 178 67 178 66 186 67ZM24 62 24 57 21 54 15 56 16 60 23 63ZM170 74 175 77 177 74 175 68 170 70 169 72ZM53 6 55 0 59 -1 61 1 63 8 61 9ZM3 100 -2 102 -3 108 2 109 6 104 5 101ZM19 92 20 87 19 85 15 83 11 85 11 87 16 92 18 93ZM189 111 185 110 183 108 184 103 188 99 193 103 193 107ZM114 22 114 21 119 17 124 17 122 25 122 25 116 24ZM49 16 43 16 45 22 45 22 47 23 50 20 50 17ZM162 156 162 152 160 150 157 150 155 156 160 158ZM193 72 195 78 191 82 188 81 186 76 190 72ZM97 188 95 189 92 188 93 186 95 186ZM207 194 206 195 205 196 201 196 199 193 199 192 201 192ZM59 76 59 72 58 72 52 73 50 79 56 79ZM60 175 62 167 61 167 49 169 50 173 54 176ZM228 179 231 183 236 179 234 173 231 174ZM180 174 181 171 178 165 173 167 174 172ZM52 91 48 97 47 97 44 91 49 87ZM123 171 120 171 118 173 118 177 119 178 123 178 124 178 125 175ZM75 104 77 99 78 99 81 103 78 107 76 105ZM164 209 167 212 164 216 158 216 157 209 160 208ZM91 85 93 89 92 92 90 93 85 91 83 85 83 84ZM227 158 227 154 228 151 232 152 236 157 233 160 231 160ZM-3 154 -5 155 -10 151 -1 148 1 148 3 150 2 150ZM82 199 86 199 88 196 87 192 82 191ZM110 3 110 0 104 -4 102 -3 103 1ZM38 40 40 43 44 44 45 43 46 38 40 35 40 35ZM-3 4 -6 7 -4 13 3 12 5 7ZM174 214 171 214 169 219 169 219 176 227 178 220 177 217ZM17 9 18 11 22 10 27 5 25 1 21 1 19 3ZM202 59 207 58 211 61 211 64 208 68 203 65ZM32 111 38 116 40 115 42 111 38 106 33 109ZM55 33 59 29 64 29 63 33 59 37 55 34ZM61 59 58 58 54 60 54 63 58 65 61 60ZM58 153 65 152 66 146 65 145 56 148ZM181 111 183 113 178 118 174 116 173 115 177 111ZM104 38 106 41 99 42 96 36 98 35ZM117 164 114 163 111 168 111 169 116 170 118 169ZM126 129 117 125 114 132 118 135 121 136 124 135 126 130ZM62 201 61 203 64 206 73 203 69 200 65 199ZM99 127 101 124 102 123 100 118 99 118 97 122ZM69 23 68 27 75 29 77 27 77 20 71 21ZM18 122 17 126 13 125 11 123 14 120ZM70 136 71 136 72 136 75 140 74 143 70 143 69 142 69 141ZM172 32 172 34 170 35 169 35 167 33 165 30 166 27 168 27 170 28ZM146 171 150 177 152 178 155 178 155 177 155 171 149 168 146 170ZM97 33 96 33 93 33 92 30 95 22 95 21 98 23 98 30ZM47 100 50 103 50 108 44 109 40 105 40 103 46 100ZM62 90 68 94 64 100 61 98 60 92 61 90ZM20 152 20 153 19 159 16 156 15 153 20 152ZM204 111 207 106 207 100 205 98 203 97 196 103 196 108ZM197 6 192 13 195 15 203 14 203 12 199 6ZM166 70 167 68 163 60 162 60 157 66 160 70ZM101 55 97 57 97 59 100 62 102 63 103 62 103 57ZM213 196 216 198 216 200 214 201 212 198 212 197ZM221 168 216 168 216 172 219 171 221 168ZM166 82 169 77 173 79 173 82 168 85 166 84ZM123 104 125 109 120 110 119 108 120 105ZM87 74 85 71 82 71 79 77 82 81ZM16 140 19 141 21 139 20 133 20 133 15 138ZM181 190 177 198 173 196 174 195 178 187 178 187ZM191 178 192 171 189 170 184 172 183 175 183 176ZM229 5 232 10 237 7 235 1 231 -1 230 0ZM206 188 208 191 208 191 208 192 203 189 204 188ZM220 174 221 177 220 178 215 177 215 175 217 175ZM213 4 211 2 216 -5 220 -4 221 -3 219 1ZM105 65 105 65 108 70 112 70 115 67 115 65 111 63ZM236 200 255 201 235 207 235 204ZM109 146 111 146 114 149 114 152 112 154 109 154 107 150 107 150ZM191 24 189 22 191 15 191 15 193 18 195 22 195 22 191 24ZM92 57 91 55 89 55 86 58 85 59 88 62 93 60ZM8 34 9 35 3 40 -2 39 -3 36 0 32 4 31ZM109 218 99 213 95 217 98 222 107 220 109 219ZM170 159 172 158 176 159 178 160 177 162 172 164 171 163ZM138 114 135 118 130 118 129 117 130 113 132 112 138 114ZM167 9 169 11 171 10 172 7 172 6 171 5 168 7ZM24 114 23 117 20 118 18 116 17 114 18 110 20 111ZM-5 55 -36 60 -4 62 -4 58ZM236 68 229 65 229 60 234 57 235 56 262 67ZM150 110 147 110 145 111 143 113 143 113 148 116 152 113ZM220 47 219 39 222 37 226 39 227 42 225 45 220 47ZM10 73 6 73 5 77 9 80 12 78 12 77ZM222 18 221 17 222 14 230 13 230 16 226 19ZM141 184 142 186 143 187 147 186 150 182 148 181ZM13 142 9 148 6 148 4 145 7 137 7 137 8 137 11 139ZM52 188 52 178 48 175 41 182 40 183 43 187ZM65 7 64 1 68 -1 73 1 73 1 72 5 66 7ZM206 -5 211 -10 215 -5 210 1 206 0ZM212 142 210 144 208 143 209 139 211 137 213 140ZM194 91 199 91 201 95 195 100 191 96 190 95ZM27 64 34 64 35 65 34 67 28 71 27 70 26 67 26 65ZM65 131 63 124 59 124 55 131 56 132ZM158 203 155 205 150 203 151 200 154 198 157 196 157 197ZM99 162 100 162 100 165 98 166 96 164 95 163 97 162ZM104 72 102 77 96 75 95 74 100 67 102 68ZM137 21 132 15 139 10 143 13 144 14 141 20ZM16 18 18 14 22 14 26 18 21 22 16 19ZM152 102 152 101 146 100 147 106 151 106ZM210 24 210 21 214 19 218 18 218 20 217 24 213 25ZM8 53 5 56 0 57 -3 53 -2 51 5 50 7 51ZM209 86 211 90 206 94 204 94 203 90 204 88ZM210 162 210 163 209 163 207 163 208 160 208 160 209 161ZM-3 197 -10 198 -6 204 -1 203 0 202ZM55 216 61 216 63 218 63 234 62 238 54 220ZM225 199 224 201 224 201 221 200 221 198 222 198ZM41 22 35 21 34 19 37 15 40 16 40 17ZM138 146 145 144 143 140 137 139 136 141ZM144 153 145 146 145 146 139 148 138 150 139 153ZM231 164 233 163 234 170 233 170 231 170 228 167ZM188 209 191 207 196 212 196 212 195 213 191 214 188 211ZM-5 35 -1 30 -5 27 -12 33ZM128 97 130 97 137 92 136 90 133 87 125 90 124 92ZM176 7 183 9 183 1 181 1 176 5ZM55 187 59 186 61 183 60 179 60 179 55 180 55 187ZM196 194 198 198 197 200 193 201 191 198ZM188 146 189 147 187 150 181 149 179 147 180 145 184 144ZM211 84 214 88 218 90 220 89 219 81 211 84ZM8 160 12 158 12 153 9 151 6 151 6 151 7 159ZM99 143 98 142 96 143 95 146 96 147 98 145ZM129 129 130 129 136 126 139 128 135 132 129 129ZM142 62 147 64 148 63 148 58 144 53 141 54ZM23 93 25 89 29 89 31 92 31 93 27 95ZM54 92 58 92 59 99 52 102 49 98ZM168 38 164 36 161 40 163 43ZM111 105 112 107 116 107 117 104 114 101ZM234 71 230 77 225 76 226 70 228 68ZM158 189 155 182 153 182 150 189 153 193 157 193ZM56 55 55 50 51 50 50 55 52 57ZM200 171 201 171 201 166 198 165 195 169ZM8 8 14 10 15 12 13 17 8 16 6 13 7 9ZM101 104 101 104 102 114 107 112 108 109 107 106ZM76 35 79 40 77 44 76 44 71 43 72 39ZM117 193 107 194 110 187 114 187 117 192ZM156 53 156 52 150 47 150 47 147 51 151 55ZM171 24 168 23 170 15 172 15 177 18 177 20ZM161 134 157 133 156 134 157 138 163 139 163 139ZM133 175 127 176 126 179 135 182 137 182 136 177ZM198 214 204 217 200 225 196 222 197 215ZM107 197 109 204 111 205 114 204 117 199 117 195 107 196 107 196ZM218 163 219 163 220 165 217 165 216 164 217 164ZM114 60 116 62 120 59 116 56 113 56ZM97 99 97 101 97 102 92 103 92 103 91 102 92 97 93 96ZM81 118 79 114 80 113 85 113 85 115ZM162 45 158 41 156 41 150 44 158 51 162 46ZM98 4 95 5 91 3 92 1 97 -2 98 -1 99 3ZM67 110 67 114 67 115 60 111 64 107ZM194 5 190 11 190 11 186 9 186 8 185 2 189 0 190 0ZM19 213 22 219 16 233 14 218 15 215ZM125 166 125 162 119 164 120 168 124 169ZM11 -2 16 -9 20 -2 17 -1ZM216 143 218 146 224 145 224 142 223 140 216 140ZM137 185 138 188 132 194 129 191 135 186 136 185ZM38 138 41 131 45 129 45 129 48 132 43 138 39 138ZM189 57 189 57 185 56 180 58 178 63 178 64 187 65ZM62 87 66 83 66 80 61 79 58 81 61 87ZM192 37 194 35 190 28 190 28 186 32 186 34ZM211 71 214 67 222 69 220 76 220 76 211 71ZM135 173 135 170 138 167 142 169 142 170 137 175ZM39 155 32 153 31 149 31 148 36 147 39 152ZM11 167 10 162 14 160 18 162 18 163 17 166 11 167ZM63 56 64 54 65 51 65 47 61 46 58 49 59 54ZM193 177 195 172 195 172 199 173 197 177 194 178ZM90 175 89 174 89 173 87 173 87 173 87 176 88 176ZM3 186 3 182 0 178 -3 179 -5 183 -4 184 0 186ZM109 12 113 7 115 8 118 14 112 20ZM89 43 88 48 90 52 91 52 93 47ZM64 213 65 208 73 205 74 205 75 212 66 216ZM115 95 116 99 119 101 122 100 124 98 122 95 116 95ZM43 211 41 209 37 208 36 210 36 216 37 216 39 216ZM150 85 145 84 139 89 140 91 143 93 149 89 150 87ZM189 45 189 54 185 52 182 47 183 46ZM78 121 74 121 70 119 70 118 71 117 76 117 78 120ZM123 36 124 28 124 28 128 30 131 36 131 37 125 38ZM132 48 133 42 131 40 126 41 125 45 128 47ZM-3 78 -3 78 1 77 2 71 1 70 -2 69 -6 74ZM204 204 202 204 200 202 201 199 205 199ZM49 200 52 205 50 210 46 209 43 206 46 201ZM72 105 66 103 66 105 69 109 73 106ZM163 84 156 81 153 85 153 87 159 90 164 86ZM106 45 107 44 105 43 101 44 100 45 102 47ZM88 185 88 186 87 187 83 188 83 187 85 183 86 182 88 183ZM155 14 160 10 156 6 154 7 155 13ZM14 177 19 178 22 176 18 168 11 170ZM214 34 214 28 218 27 220 30 221 34 217 35 214 34ZM207 138 201 136 200 137 203 143 205 143ZM9 188 17 186 18 180 13 180 8 182 7 187ZM62 12 64 11 65 11 69 18 66 20 63 18 62 15ZM169 122 171 117 170 117 168 116 165 121 166 123ZM179 88 174 93 170 92 169 87 174 85 179 88ZM173 131 168 128 167 126 170 126 172 127 173 131ZM206 130 210 134 210 134 207 135 203 134 204 130ZM40 159 35 166 35 168 45 167 44 163ZM90 -2 96 -5 83 -31 84 -12ZM220 150 219 151 219 152 220 152 222 152 225 150 223 148ZM122 3 116 6 114 5 113 4 114 0 116 -4 120 -2ZM99 177 98 177 96 176 96 175 98 173 100 175ZM127 117 127 112 125 111 120 112 118 119ZM228 142 235 141 238 144 233 149 229 148 227 145ZM162 105 164 103 167 106 165 110 161 110ZM14 21 11 32 11 33 12 33 18 31 20 28 19 25ZM208 115 217 114 216 108 209 108 205 112 206 114ZM28 47 31 51 32 52 26 55 23 52 24 47 24 47ZM124 189 123 182 119 182 118 186 119 191ZM48 127 50 121 53 119 56 123 53 130 50 130ZM181 91 185 95 185 97 181 99 179 97 178 96ZM206 18 205 15 205 13 210 12 212 16 208 20ZM232 41 237 37 234 33 229 37 230 41ZM52 191 52 192 48 197 46 197 43 195 44 190 51 190ZM220 190 219 189 217 189 213 192 213 193 218 195 220 193ZM93 158 92 159 92 159 90 156 93 156ZM9 190 17 189 20 192 15 197 12 197ZM148 190 142 190 143 194 148 198 152 194ZM199 45 193 42 193 39 196 36 200 35 202 37 202 41 200 45ZM69 53 73 53 74 55 74 58 68 55ZM78 63 83 62 85 64 85 68 82 68 77 65ZM134 215 136 205 134 203 132 202 128 205 127 208 130 213ZM99 191 98 192 98 193 100 195 103 195 104 195 100 191ZM165 142 169 148 164 150 163 148 165 142 165 142ZM100 114 100 114 98 114 96 113 92 107 99 105ZM179 39 175 37 173 39 175 43 179 45 179 45 180 44ZM83 50 85 50 88 53 84 54 83 52ZM31 31 30 29 23 29 21 33 24 35 29 35ZM192 133 191 125 191 125 185 127 183 131 185 134ZM104 165 104 161 109 158 112 158 112 162 109 167ZM42 93 39 92 36 93 35 95 39 100 46 98ZM32 183 27 177 32 173 37 181 37 182ZM13 136 9 135 12 129 18 129 20 132ZM139 67 141 66 145 67 144 71 141 74 141 74 139 69ZM213 204 209 198 208 199 207 205 209 206 213 204ZM105 181 103 179 104 177 107 176 108 179 107 182ZM202 176 202 175 203 176 203 178 202 179 201 178ZM144 166 147 164 148 159 145 156 140 157 139 159 140 163ZM193 181 198 181 200 183 200 186 199 188 197 190 193 186ZM53 36 49 38 47 44 51 46 55 47 59 44 58 39ZM105 197 107 205 100 207 98 204 99 202 101 199ZM42 64 37 65 37 68 39 71 41 71 44 67ZM149 24 153 18 153 17 152 17 146 16 144 20ZM214 5 219 3 221 5 219 9 214 6ZM164 57 164 57 168 55 169 53 168 50 164 49 161 52 161 53ZM-2 164 -6 164 -5 159 -3 159 -1 162ZM221 10 221 12 230 11 230 10 227 6 223 7ZM84 94 81 97 84 100 87 102 89 95ZM91 151 90 152 90 152 90 150 91 150 92 150 92 151ZM79 19 80 27 89 29 93 20 82 17 81 17ZM39 119 42 117 47 121 46 127 45 126 39 120ZM190 123 184 124 180 121 180 120 184 113 188 114ZM233 131 230 125 226 126 225 132 226 135ZM221 20 220 25 223 28 226 25 225 22ZM12 113 5 113 4 111 8 106 14 108 14 108ZM206 181 209 181 207 185 203 185 203 183ZM213 169 212 168 212 169 211 170 212 172 213 171ZM29 196 33 199 34 205 32 207 24 206ZM56 156 60 165 49 168 49 168 48 161ZM193 169 194 169 196 164 195 160 190 159 190 159 190 167ZM145 95 146 96 147 97 152 98 152 96 151 91ZM20 106 17 106 17 106 19 97 20 96 25 99 25 102ZM133 72 133 78 140 76 136 70ZM154 144 156 141 163 141 160 147 157 148ZM232 55 226 47 220 49 220 54 227 59ZM24 133 29 132 31 136 27 138 25 138ZM5 59 1 60 0 63 1 65 3 66 5 62ZM66 10 73 7 78 16 77 17 71 17ZM151 -6 146 -12 143 -7 146 -3 150 -5ZM211 43 212 46 218 47 217 39 213 38ZM214 145 211 146 212 148 215 149 216 147ZM147 153 148 146 152 145 155 149 153 155 150 157ZM105 184 102 189 106 194 106 194 108 186 107 185ZM31 80 28 78 23 83 24 85 30 85ZM221 2 222 -3 228 -1 227 4 223 4ZM65 59 67 57 73 60 74 61 73 63 71 65 69 65 65 60ZM229 105 231 105 234 102 229 98 227 103ZM107 34 106 37 107 40 109 42 111 41 113 36 112 33ZM199 126 194 125 195 132 196 133 198 133 199 132 201 128ZM107 134 110 132 104 128 100 130 99 131 100 134ZM55 191 60 191 62 193 63 196 60 198 55 192ZM172 133 172 135 166 139 165 139 164 132 166 131ZM176 101 180 103 180 108 177 107 174 104ZM90 166 89 168 88 168 88 166 90 165 90 165ZM109 20 109 20 106 14 104 14 98 18 98 18 100 20 107 21ZM201 56 206 54 207 50 202 48 201 48 200 55ZM182 126 179 123 175 126 175 131 181 130ZM126 127 118 123 118 122 119 121 126 120 127 120 127 127ZM4 220 4 222 14 241 15 233 10 220ZM95 182 93 182 92 181 94 180 95 181ZM6 192 8 198 6 200 2 200 0 196 1 192 5 191ZM24 73 17 78 16 79 21 81 26 76 25 74ZM174 45 179 47 175 51 172 52 171 49ZM141 110 137 104 133 104 132 109 140 112ZM129 4 137 4 138 3 135 -1 131 -1ZM141 78 141 78 135 80 135 81 135 85 138 88 142 82ZM4 -3 7 0 6 4 5 5 -2 3 -1 2 3 -2ZM10 55 8 58 9 61 12 63 14 61 13 57ZM109 141 109 137 112 134 113 134 116 137 112 142 110 142ZM46 -5 42 -9 38 -6 41 -1 42 -1ZM103 87 106 92 112 92 113 92 111 85 105 82ZM166 5 163 0 164 -3 169 -3 169 2ZM198 150 199 154 195 157 191 157 191 152 193 149ZM166 169 168 176 171 173 171 168 170 167ZM43 58 41 57 37 56 37 61 38 62 41 61ZM35 50 40 46 43 46 41 53 37 53 35 52ZM80 49 78 47 77 47 76 52 76 53 79 52ZM196 138 198 139 200 144 198 146 193 145 193 144ZM2 -5 -4 -9 -8 -6 -4 1ZM208 55 213 59 218 54 218 50 217 50 212 49 210 51ZM224 80 224 80 223 81 224 88 228 90 229 89 231 84 229 82ZM157 16 162 13 164 12 167 15 166 22 164 23 158 18ZM65 36 69 38 68 42 66 44 61 43 61 39ZM9 211 12 213 10 218 4 218 2 214 2 213ZM94 215 91 214 89 212 91 207 96 206 98 208 97 211ZM221 208 221 206 219 204 217 205 217 206 219 209ZM-3 145 -10 148 -21 146 -6 140ZM222 118 226 116 230 118 231 120 229 122 226 122 222 120ZM183 136 181 133 176 134 175 134 175 136 179 143 183 141ZM159 97 156 98 155 99 156 101 160 102 162 101 162 98ZM90 35 88 31 80 29 78 32 78 34 82 38 87 38ZM71 156 68 153 69 147 75 147 76 148 77 155ZM112 74 115 79 112 82 106 80 105 79 108 73ZM141 127 142 127 147 122 147 119 141 114 137 120 138 124ZM142 231 143 219 142 218 136 218 136 221ZM216 157 216 159 214 160 212 157 215 156ZM127 147 122 145 122 138 124 137 128 141ZM59 156 65 155 68 158 66 163 63 164 62 163 59 156ZM100 86 95 87 94 84 95 79 102 80 103 81ZM178 184 177 184 171 183 169 178 169 178 173 175 180 176 180 177ZM183 192 180 198 181 200 182 200 186 197 184 193ZM-18 101 -6 109 -4 108 -4 101 -7 99ZM28 195 22 205 22 205 16 199 22 193 27 193ZM90 115 94 114 90 108 90 108 88 112 89 115ZM193 206 194 204 197 203 199 206 197 211ZM10 36 12 44 9 49 7 47 5 42 10 36ZM32 39 30 36 33 31 38 33 36 39ZM126 204 125 207 120 209 115 206 119 200ZM91 145 88 146 87 145 87 141 88 141 92 143ZM188 167 188 159 181 161 180 164 183 170ZM229 186 229 184 225 181 224 181 222 182 221 186 223 187ZM80 219 84 223 90 217 86 214 79 214ZM54 194 58 200 58 202 54 203 51 199ZM229 220 230 216 233 215 236 218 230 224ZM114 122 114 122 105 124 104 126 111 131 112 131 115 124ZM83 161 82 158 87 158 87 158 89 162 86 162ZM106 144 102 143 102 146 104 148 106 144ZM38 121 44 127 40 128 34 126 34 125ZM206 147 204 147 202 149 203 153 206 154 206 154 208 149 208 148ZM210 82 220 80 220 78 209 72 208 75ZM140 34 139 39 136 40 134 37 134 36 138 33ZM-2 190 -6 188 -11 196 -10 196 -4 195ZM266 99 231 93 230 94 230 96 236 100ZM124 160 119 161 116 160 115 157 117 155 123 157 124 159ZM15 143 10 149 13 151 20 149 19 144ZM7 180 3 175 4 173 9 170 10 171 12 177ZM110 175 111 172 114 173 115 177 112 176ZM108 114 114 121 105 122 102 116 102 116ZM86 153 80 155 79 155 79 148 84 148 85 149ZM58 87 56 88 54 88 52 86 51 82 51 82 55 83ZM174 64 175 64 175 63 169 59 165 60 169 66ZM153 15 151 7 149 6 145 12 145 13ZM96 17 95 8 100 6 103 11ZM55 212 54 210 56 207 59 206 60 208 60 212ZM206 3 209 4 210 6 210 6 208 9 205 10 201 6ZM81 165 77 170 83 169 83 169 83 167ZM96 42 95 38 93 37 91 40 92 42 95 44 96 43ZM111 95 111 99 108 103 103 101 103 99 106 96ZM160 -1 157 0 154 -4 154 -5 159 -8 162 -4ZM139 5 140 9 144 11 147 5 146 1 140 4ZM63 61 68 67 66 69 61 70 60 69 60 67ZM128 61 124 59 128 51 133 52 133 52 130 60ZM36 140 33 139 28 141 31 145 35 144 36 140ZM30 40 28 43 24 44 24 38 28 38ZM150 122 150 119 155 115 156 115 158 121 154 124ZM120 139 120 145 116 147 114 144 117 138ZM159 104 159 110 156 112 155 112 152 108 154 103ZM180 157 180 151 187 152 188 157 188 157 181 159ZM146 216 145 215 147 207 148 206 154 209 154 217 153 217ZM53 7 60 11 58 13 53 15 51 13 52 8ZM106 173 108 170 107 170 103 168 101 170 101 171 103 174ZM39 180 47 174 47 170 47 169 34 171 34 171ZM80 14 81 13 86 5 77 3 76 6ZM228 140 234 138 234 134 233 134 227 136 227 139ZM64 191 70 190 67 185 65 184 61 189ZM75 66 73 68 76 76 77 76 80 70ZM167 189 161 190 160 194 160 194 169 197 171 196 171 196ZM207 118 209 124 206 125 205 126 203 123 205 117ZM110 53 105 54 103 52 103 50 108 47ZM193 84 195 87 200 89 201 86 198 81 196 80ZM201 69 206 71 207 72 205 74 199 78 197 77 195 72ZM41 74 45 79 41 80 35 78 39 73ZM99 157 98 155 96 153 96 154 97 157ZM94 62 89 65 88 69 90 72 92 72 98 65ZM186 208 182 203 179 203 175 211 179 214 185 210ZM54 104 54 108 56 110 58 109 62 105 63 103 62 103 60 102ZM96 197 98 197 96 199 95 197ZM203 163 202 164 199 162 197 160 202 156 205 157ZM164 169 166 176 166 176 158 178 159 171 162 169ZM126 63 123 61 122 61 118 65 118 67 123 69 126 68ZM173 1 172 -3 175 -6 179 0 175 2ZM63 121 58 122 55 117 55 113 58 113 66 117 66 118ZM125 226 124 218 129 216 133 217 133 217 132 220ZM145 204 138 203 136 201 142 197 146 199 146 203ZM233 53 228 47 230 44 232 45 234 47 234 53ZM-4 22 -3 25 0 28 3 28 3 23ZM201 28 198 24 198 23 204 21 206 22 207 24ZM-4 93 -5 97 -3 98 2 97 2 93 -2 92ZM96 169 94 169 93 170 94 171 95 170ZM33 54 27 58 27 62 34 61 34 56ZM109 217 100 212 101 209 108 207 109 208 109 217ZM171 107 170 107 169 111 169 112 172 113 174 110ZM145 107 144 99 143 98 139 103 142 109ZM83 123 88 121 88 121 87 119 87 118 83 120 82 122ZM111 55 111 55 111 61 104 64 106 57ZM-2 49 -4 44 -2 41 3 42 4 48ZM189 199 191 203 190 205 187 207 183 202 189 199ZM125 103 127 109 128 110 130 109 131 103 130 100 127 100ZM180 48 177 53 179 56 184 54 180 48ZM28 72 29 75 33 78 33 78 37 72 35 69ZM166 205 168 199 160 196 161 204ZM67 130 65 123 67 120 71 124 70 131 69 131ZM56 67 57 70 52 71 50 68 53 66ZM210 182 212 181 214 187 211 190 210 186ZM129 5 137 5 138 9 131 14 129 14 128 6ZM199 32 195 33 193 27 196 26 199 29ZM107 10 111 6 111 5 102 3 101 5 104 10ZM164 159 167 160 169 165 165 166 162 166 162 160ZM81 131 80 136 78 137 74 133 80 130ZM138 93 132 99 134 102 137 102 142 98 141 96ZM187 191 190 196 190 196 195 192 195 191 191 188ZM8 168 7 163 6 162 2 163 0 166 3 171ZM122 58 122 58 117 54 121 47 122 47 126 50ZM209 117 217 117 218 118 218 121 215 124 212 123ZM178 57 177 62 170 57 172 54 175 54ZM162 59 156 65 150 63 151 58 158 54ZM135 146 134 142 131 142 129 147 130 148 134 148ZM41 151 39 145 40 142 44 142 47 146ZM132 173 127 175 126 170 128 167 133 169ZM-16 86 -5 90 -4 89 -4 81 -4 81ZM7 203 9 210 2 211 1 205 1 204ZM163 81 166 75 166 73 160 73 157 77 157 79ZM59 14 60 19 56 22 53 20 53 16ZM5 160 4 151 -1 157 2 161ZM132 165 129 165 128 162 129 161 134 161 136 164ZM89 106 85 111 79 111 79 108 83 104 87 104ZM65 182 67 183 71 180 73 176 73 176 62 177ZM31 125 31 126 29 128 22 130 22 130 21 127 22 122 25 121ZM90 117 95 116 97 116 94 121 91 121ZM61 22 59 23 59 26 63 26 64 26 64 23ZM217 137 214 135 214 135 217 133 221 134 223 136 223 138ZM177 157 177 151 176 149 173 150 173 155ZM157 92 158 94 155 95 153 90 153 89ZM76 175 83 179 85 178 84 172 76 172 76 172 75 175ZM158 4 159 3 161 2 164 5 163 8 162 9ZM62 76 61 72 66 71 68 78 67 78ZM135 26 129 29 132 35 137 31ZM109 183 110 185 115 186 117 180 116 180 111 180ZM6 134 2 126 2 124 3 123 8 124 10 128 7 134ZM163 128 162 129 157 129 157 127 160 124 162 124 163 126ZM23 24 24 27 30 27 30 23 30 20 28 20ZM91 200 89 201 91 203 95 203 94 202 92 200ZM207 96 209 99 215 98 218 92 213 92ZM103 150 103 150 100 151 97 150 97 149 100 148ZM129 127 130 121 135 121 135 124ZM83 125 83 128 84 128 89 130 89 124ZM229 188 224 191 224 194 227 195 230 194 231 191ZM232 42 239 38 248 41 236 46ZM163 34 159 39 157 39 156 32 162 30ZM213 7 211 11 214 15 218 16 219 13 218 11ZM228 108 231 108 234 112 232 116 227 113ZM63 176 72 174 73 172 67 167 64 168 63 175ZM47 86 47 82 46 82 42 83 41 89 43 90ZM191 217 190 220 192 222 194 221 195 216ZM131 80 132 85 124 89 122 80 123 80ZM26 161 27 156 23 153 21 160 21 161ZM182 29 184 31 188 27 186 24 182 24ZM14 118 8 122 3 121 4 114 13 115ZM22 64 16 63 14 65 14 68 22 66ZM37 137 35 135 33 130 34 128 38 131ZM138 134 138 137 143 137 144 134 142 130 141 130ZM6 97 6 93 9 89 14 95 7 99ZM38 157 32 164 28 161 30 157 31 156 38 156ZM117 70 121 72 121 77 120 78 117 78 114 72ZM133 138 134 137 134 135 129 131 127 136 130 138ZM79 125 79 128 73 131 72 131 74 125 79 124ZM100 50 97 48 96 48 93 53 95 55 100 52ZM72 95 75 98 72 102 67 101 66 101 70 96ZM-9 120 -22 123 -6 127 -2 125 -2 123ZM197 54 197 48 192 45 192 46 191 54 192 55ZM171 185 177 186 172 195 168 188ZM44 200 42 205 37 204 36 198 40 196ZM63 88 69 93 71 92 72 88 68 85ZM127 4 129 -2 127 -6 122 -3 123 3 127 4ZM174 124 177 122 177 120 173 118 171 122ZM123 227 122 219 119 217 111 219 111 219 111 219 123 230ZM105 34 104 36 99 35 101 32 104 32ZM8 63 3 68 4 69 11 69 12 69 11 65ZM71 189 71 189 68 184 72 182 76 188ZM224 165 225 162 226 161 229 162 226 165 224 165ZM176 30 179 28 180 24 178 22 173 26ZM65 133 56 133 57 136 65 140 68 134ZM91 124 91 129 91 129 96 130 97 128 94 124 91 124ZM208 49 210 47 209 44 204 42 202 46ZM214 153 214 152 211 151 208 154 210 155ZM101 88 95 89 94 93 100 98 105 93ZM173 12 178 16 184 11 183 10 176 8ZM232 196 234 199 233 204 228 203 229 198ZM91 191 94 192 94 193 92 195 92 195 90 191ZM69 51 68 47 70 45 75 47 73 51ZM4 137 -4 137 -5 138 0 144 2 145ZM123 217 121 215 121 211 126 208 128 214ZM33 42 31 45 34 48 37 44 36 42ZM74 108 77 109 77 111 76 113 69 115 70 110ZM29 110 26 112 21 108 26 103 30 108ZM139 189 133 196 133 200 135 200 141 194 141 190ZM92 75 94 78 91 83 83 83 82 82 89 74ZM164 156 165 152 170 149 171 149 170 155 168 157ZM204 37 211 36 212 37 209 42 205 41Z" fill="#faf7fb"/><path d="M-3 116 1 104M9 95 -2 96M1 104 9 110M1 104 13 100M0 45 2 53M235 97 237 89M232 219 229 208M232 219 223 215M142 199 131 209M149 213 140 211M93 209 105 212M93 209 102 217M84 219 84 206M7 129 0 132M7 129 9 142M99 122 93 118M105 131 92 137M73 111 75 119M125 198 131 209M121 205 112 199M116 212 112 199M102 217 118 221M105 212 102 202M236 107 231 102M6 222 17 218M6 222 6 215M102 202 99 193M9 156 16 147M9 156 13 164M18 138 16 147M26 145 33 150M16 147 9 142M82 143 89 144M117 143 122 151M83 150 91 151M89 144 97 145M83 108 83 115M123 115 124 123M108 126 112 139M108 126 120 131M114 113 107 119M96 109 93 118M96 109 107 119M27 82 16 88M2 53 9 43M82 64 70 61M62 128 68 126M36 132 26 126M49 153 55 163M39 165 24 169M39 165 32 158M64 159 57 171M64 159 75 163M32 158 24 169M82 168 89 167M82 168 86 161M27 91 40 96M27 91 21 102M16 88 21 102M47 91 40 96M47 91 56 96M56 96 54 86M219 206 214 199M192 211 188 203M196 206 195 198M196 206 188 203M182 208 188 203M188 203 183 196M188 203 191 192M195 198 191 192M214 199 218 192M82 175 67 173M82 175 68 179M89 167 94 170M88 174 87 185M87 185 94 182M108 163 120 159M40 174 32 179M86 120 92 126M86 120 76 128M75 119 76 128M97 155 93 157M91 151 97 145M102 155 110 149M97 145 104 139M104 139 112 139M164 107 170 99M147 -6 141 -2M224 24 230 22M228 31 223 42M137 100 128 105M159 35 156 26M31 67 22 77M34 72 22 77M18 72 16 65M19 58 31 59M81 7 85 24M81 7 71 12M46 72 54 86M46 72 48 62M55 75 63 66M126 84 119 86M122 107 114 105M130 92 145 87M130 92 120 99M9 110 9 117M218 192 212 185M134 129 132 123M134 129 120 131M142 121 141 134M149 138 140 142M212 170 208 162M218 176 208 175M205 189 197 185M205 189 206 184M57 171 59 183M47 217 48 204M99 193 106 188M32 179 24 185M-4 171 -1 182M16 173 13 183M22 198 24 185M28 213 13 205M78 91 73 83M170 7 178 11M175 0 166 2M223 42 226 52M179 53 174 49M179 53 183 60M192 21 196 29M155 60 153 71M72 55 77 51M84 52 84 44M77 51 75 40M35 0 21 6M106 0 105 6M113 13 105 6M105 6 119 1M26 126 39 126M39 126 31 119M25 107 21 102M213 103 212 111M221 98 222 110M213 95 215 85M213 95 203 103M122 151 131 155M165 147 172 142M165 147 167 134M198 168 196 174M226 163 225 173M214 158 218 164M41 200 48 204M3 197 15 193M3 197 13 183M5 207 13 205M89 80 92 67M125 -1 134 -6M125 -1 133 2M169 32 163 17M185 40 194 49M177 41 180 34M208 40 214 43M208 40 206 45M207 31 199 41M158 99 170 99M170 62 162 66M153 71 148 78M142 28 138 36M142 28 139 15M75 40 84 44M60 32 46 31M71 12 67 2M73 25 61 23M97 29 101 39M97 29 103 34M27 32 27 24M27 32 37 27M57 18 65 16M15 -4 13 4M1 17 10 12M177 104 181 96M177 115 168 119M172 110 170 99M195 94 187 104M170 128 167 134M174 121 178 127M176 170 173 160M206 149 197 143M206 149 204 140M218 143 218 136M107 87 97 83M111 66 122 65M212 53 220 61M173 89 170 99M158 87 163 77M158 87 148 78M118 40 115 49M103 28 105 17M140 45 128 57M3 2 -4 -5M203 103 209 89M121 174 132 178M122 165 132 164M122 165 130 171M132 164 130 171M143 177 132 178M180 137 188 131M184 147 197 143M167 193 164 183M186 184 177 193M186 184 196 174M191 192 183 196M222 110 213 120M209 89 215 85M209 89 197 84M197 84 191 78M195 63 191 78M213 120 212 111M206 133 198 129" stroke="#faf7fb" stroke-width="3.2" fill="none"/></g></g>
<g transform="translate(196.8 376.8) scale(.5)">
<path d="M87 162 84 173 77 178 70 183 62 185 55 180 52 171 47 162 48 151 55 146 62 139 70 141 76 148 81 154Z" fill="#faf7fb"/>
<path d="M107 82 105 90 103 98 97 100 92 99 87 96 82 91 81 82 81 73 84 64 92 65 97 64 104 65 107 74Z" fill="#faf7fb"/>
<path d="M67 90 65 96 63 101 59 107 54 106 49 104 46 97 46 90 48 85 50 80 54 77 59 77 62 80 67 84Z" fill="#faf7fb"/>
<path d="M193 30 192 39 189 47 183 50 176 49 170 46 166 39 165 30 167 22 171 15 176 12 182 13 188 16 193 21Z" fill="#faf7fb"/>
<path d="M137 134 137 140 134 143 130 145 126 145 122 144 120 139 120 134 119 129 122 125 126 124 131 123 134 126 136 130Z" fill="#faf7fb"/>
<path d="M205 136 206 144 203 153 196 154 189 157 182 152 179 145 179 136 180 129 184 124 190 120 195 119 203 120 207 128Z" fill="#faf7fb"/>
<path d="M218 190 215 199 210 207 202 208 194 213 186 208 180 200 181 190 180 180 188 175 194 170 203 167 210 175 214 182Z" fill="#faf7fb"/>
<path d="M24 52 25 60 21 65 17 67 13 66 9 65 7 59 5 52 8 47 10 40 13 38 17 39 20 42 24 45Z" fill="#faf7fb"/>
<path d="M11 118 10 123 8 126 6 130 3 130 -1 128 -2 123 -2 118 -1 114 0 110 3 109 6 108 8 111 11 113Z" fill="#faf7fb"/>
<path d="M117 26 116 30 114 34 112 36 109 34 106 34 104 31 104 26 106 23 107 20 109 16 112 16 114 20 116 23Z" fill="#faf7fb"/>
<path d="M72 4 68 7 65 9 58 10 51 10 45 8 39 7 39 4 42 2 46 1 51 0 58 -1 63 1 70 2Z" fill="#faf7fb"/>
<path d="M227 42 226 49 224 55 220 55 217 55 212 55 210 49 208 42 209 35 214 32 216 26 221 26 224 30 226 36Z" fill="#faf7fb"/>
<g fill="none" stroke-linecap="round" stroke-linejoin="round">
</g>
</g>
</g></g>
<g clip-path="url(#cp2)"><g filter="url(#hb)">
<rect x="312.6" y="376.8" width="115.7" height="107.4" fill="#b452b0"/>
<rect x="312.6" y="376.8" width="115.7" height="107.4" fill="#fff" filter="url(#tv2)"/>
<rect x="312.6" y="376.8" width="115.7" height="107.4" fill="#fff" filter="url(#nv2)"/>
<g filter="url(#sm)"><g transform="translate(312.6 376.8) scale(.5)"><path d="M230 213 230 215 229 218 221 219 218 212 223 210ZM11 132 4 132 3 130 11 125 12 125 13 131ZM117 17 121 12 124 12 126 14 127 20 125 25 118 22ZM99 44 97 39 103 34 107 35 108 37 108 40 104 43ZM-2 8 -5 11 -26 10 -4 5 -1 6ZM91 106 99 105 101 106 100 111 96 116 91 117 89 115 91 106ZM83 4 78 5 75 1 81 -2 83 -1ZM143 149 139 151 137 152 132 145 135 140 140 142 143 144 144 147ZM229 73 234 79 237 80 272 75 234 70ZM64 17 62 8 69 1 70 1 74 8 73 14ZM173 133 177 132 178 128 175 123 171 124 166 130 167 131ZM156 32 151 36 144 32 151 27 156 29ZM62 183 63 182 75 176 79 182 76 188 63 184ZM20 9 16 9 14 13 17 17 21 13ZM59 119 58 118 57 119 54 125 57 128 59 128 61 127 62 124ZM78 74 76 78 71 79 67 76 67 74 70 72 78 73ZM73 172 67 169 61 171 62 180 74 174 74 173ZM51 17 61 17 61 17 58 10 57 9 52 11 51 13ZM165 189 166 190 176 187 175 186 167 180 166 181ZM130 201 122 202 121 206 123 213 134 212 134 204ZM226 30 226 23 231 23 236 26 232 32 227 33 226 32ZM-2 86 2 93 8 91 6 87 1 84ZM193 156 198 155 199 151 198 148 198 147 193 149 191 151 191 154ZM201 215 201 214 197 211 188 210 189 215 194 220ZM10 100 6 103 5 103 2 100 2 98 4 96 9 94 10 94ZM21 115 19 118 13 120 13 120 11 117 12 112 17 111 21 114ZM132 186 130 188 123 186 124 179 128 178 133 181ZM93 206 96 206 101 204 95 197 89 201ZM74 202 76 204 81 200 77 196 73 200ZM216 150 220 150 221 153 218 155 215 154 214 152ZM52 61 47 63 45 61 44 57 45 55 46 54 51 56 53 60ZM189 123 189 119 183 116 179 119 178 121 181 126 186 125ZM199 12 196 12 196 16 198 19 200 19 202 15 201 12ZM57 214 50 209 46 218 48 221 57 218ZM137 118 131 112 130 112 128 114 128 120 129 121 134 121ZM130 101 130 103 131 103 133 101 132 99 131 99ZM35 148 36 144 40 143 44 151 42 153 39 154ZM102 90 103 90 104 89 103 87 103 87 102 88ZM167 98 160 103 163 108 163 108 168 106 170 103 170 102ZM64 206 60 200 63 198 67 200 68 204ZM205 195 205 194 211 189 217 194 216 195 211 199ZM66 63 67 67 63 70 61 69 58 64 59 62 63 62ZM71 218 64 213 61 215 61 218 63 222 71 219ZM88 88 88 87 86 87 85 89 85 89 88 90 88 89ZM113 122 112 117 109 118 107 122 107 124 113 124ZM56 196 55 196 49 190 52 187 59 186 59 187 59 194ZM17 102 22 97 18 93 13 94 14 100ZM233 134 266 139 236 144 232 140ZM191 55 193 50 194 50 197 51 197 57 195 60 195 60ZM31 182 26 182 23 184 20 192 22 197 22 197 34 188ZM180 84 178 86 174 85 171 79 180 78 181 79ZM148 23 142 29 142 29 141 29 140 21 141 20 146 17 148 18ZM103 160 104 154 109 154 111 158 110 162 104 161ZM186 182 183 182 181 185 181 186 182 189 186 187 188 185 186 182ZM141 66 140 67 139 67 138 66 138 65 141 65ZM97 62 98 64 97 65 95 64 97 62ZM128 197 122 199 121 197 120 193 121 190 123 189 129 190ZM86 148 79 148 75 146 75 146 77 141 85 137 88 145ZM222 58 218 64 218 66 223 70 226 70 230 65 229 59ZM90 7 88 4 88 -1 91 -2 95 0 93 6ZM95 180 92 182 96 190 101 187 102 184 100 181 98 179ZM164 94 160 91 155 96 157 101 158 101 164 95ZM130 138 130 137 126 134 122 135 121 136 125 142 128 142ZM139 205 138 211 139 212 143 213 148 208 148 206 144 203ZM197 79 201 74 205 75 207 81 206 84 199 87 199 86ZM2 1 0 -1 -1 -6 2 -15 7 -2 7 -2ZM160 57 159 57 156 54 158 50 161 53ZM144 7 139 6 137 2 141 -3 143 -3 148 2ZM117 122 124 121 124 113 116 113 115 115ZM150 63 153 64 154 61 152 60 151 60 150 61 150 62ZM35 73 34 69 40 66 43 68 42 73 38 75ZM168 213 168 216 164 219 162 215 161 213 164 212ZM14 203 20 200 20 200 22 204 21 212 20 213 16 213 12 211 11 206ZM15 182 20 183 18 191 12 186 11 185ZM7 172 12 173 13 179 9 183 5 181 4 178 6 173ZM147 194 155 193 157 199 152 203 146 198ZM178 160 175 158 172 164 175 168 176 168 179 165ZM194 29 195 33 196 34 199 33 201 27 200 25 197 25ZM9 145 1 141 -1 143 0 153 1 153 9 145ZM194 137 198 142 198 144 191 145 188 140 191 137ZM186 76 185 74 186 71 194 66 195 66 198 73 194 77ZM161 133 161 133 160 133 158 133 158 134 158 135 159 136 160 135ZM41 176 44 178 47 183 44 187 41 188 37 186 35 181 37 178ZM28 18 29 18 27 25 26 25 24 26 20 25 19 24 20 20 24 17ZM143 178 137 182 136 186 144 190 147 180ZM116 75 115 75 117 72 117 72 119 73 118 75ZM8 45 16 44 19 45 20 49 18 51 12 51 10 51ZM213 95 209 98 212 103 219 99 220 94 220 94 219 93ZM129 49 126 47 127 44 132 44ZM170 23 172 22 179 21 179 21 179 25 178 28 174 27ZM146 174 145 170 148 167 149 166 154 168 156 169 156 169 150 176 149 176ZM-2 204 -2 204 -3 209 3 214 7 211 7 207ZM107 181 111 180 114 176 114 172 112 172 106 178ZM163 77 159 79 157 78 157 76 162 76ZM35 190 23 198 26 201 36 203 37 203 39 192ZM-3 194 -4 190 -11 188 -24 190 -4 199 -4 199ZM167 20 168 18 169 10 165 7 161 8 161 13 165 20ZM23 53 21 55 22 63 27 64 27 58 24 53ZM146 134 144 138 146 140 150 136 149 136ZM219 172 222 171 225 171 228 174 225 179 223 178ZM201 50 201 58 207 57 208 51 205 49ZM145 41 146 42 145 44 143 44 141 42 142 37 142 37ZM29 162 26 160 21 160 22 166 23 166 27 164ZM181 70 180 73 170 75 170 74 169 73 171 66 175 64 177 65ZM24 2 22 -1 15 -2 12 0 11 0 16 6 21 6ZM204 165 208 165 213 171 207 176 203 176 201 173 200 171ZM178 60 176 59 174 51 179 52 183 55ZM200 185 203 191 208 186 208 186 206 181 203 180ZM215 118 208 122 209 130 216 130 218 127 215 118ZM27 133 27 132 33 129 38 134 39 138 38 139 34 141 28 136ZM232 197 230 190 235 189 237 195 235 198ZM196 38 196 46 199 47 204 46 205 40 200 37ZM4 26 15 26 16 28 13 32 6 34 3 27 3 27ZM219 2 223 3 228 2 228 1 225 -4 216 -8 216 -3ZM37 161 40 157 43 157 46 161 45 163 41 165ZM213 116 209 108 199 113 199 113 204 119 207 119ZM120 185 118 186 115 182 117 177 120 180ZM186 43 185 39 191 37 193 38 193 45 191 45ZM223 35 225 37 224 42 218 47 217 46 215 39ZM112 40 118 47 119 47 121 46 124 41 122 37 112 37ZM-2 54 -1 57 6 52 4 45 3 44 0 46 -2 50ZM1 178 -6 177 -12 185 -2 186 2 182ZM177 0 178 6 172 6 168 3 170 -1 175 -2ZM222 54 220 49 226 45 232 50 232 52 230 55ZM193 92 191 100 194 101 201 97 197 90 197 90ZM163 69 160 68 160 67 161 65 162 65 164 66ZM-48 134 -5 119 -5 119 -3 127ZM216 133 216 137 213 139 210 134 210 133ZM32 1 34 1 36 -5 33 -26 26 -2 27 0ZM133 38 138 33 137 32 128 31 126 35 128 38 133 39ZM81 68 82 64 75 59 75 59 71 63 71 68 79 70ZM103 124 96 120 92 120 92 129 102 131 104 126ZM8 169 8 160 15 158 17 160 18 167 13 170ZM64 131 61 133 63 141 64 140 68 135ZM22 90 23 84 23 84 32 89 30 94 29 95 25 94ZM22 80 18 69 21 67 28 67 30 68 30 74ZM170 138 167 139 165 138 166 134 171 136ZM56 38 65 43 64 48 56 50 54 40ZM149 129 149 124 149 124 151 126 152 130 152 132 149 130ZM180 48 174 48 174 48 172 43 181 39 182 39 183 44ZM163 144 163 145 163 147 161 146 160 145 160 143 162 143ZM38 118 48 125 41 133 35 127 36 119ZM116 85 115 85 115 82 117 83 118 84 117 85ZM40 3 38 2 40 -5 48 -1 46 3ZM36 40 36 40 40 38 44 42 43 49 41 50 37 46ZM76 219 78 216 84 218 85 219 82 234 76 220ZM145 86 146 88 147 88 148 86 147 85 147 84 145 85ZM125 100 126 97 125 97 125 97 123 98ZM183 20 191 19 195 22 190 27 184 25ZM40 116 45 112 55 115 49 123 49 123 39 117ZM52 145 49 148 47 148 43 142 43 141 50 142ZM64 93 59 92 53 96 52 98 59 102 63 99ZM202 70 198 64 201 61 207 61 212 65 213 66 205 71ZM106 199 104 202 104 202 97 195 97 194 104 191 106 194ZM204 22 207 18 211 18 214 19 210 24 206 23ZM8 55 10 55 11 66 1 64 0 63 0 60ZM42 172 43 168 47 167 51 170 47 175ZM120 157 115 159 113 164 115 167 116 167 122 164 122 160ZM114 127 117 134 117 135 110 138 106 137 104 132 107 128ZM203 196 209 202 210 209 203 212 200 208 200 199ZM44 101 34 97 37 90 38 90 45 91 48 95 48 98ZM76 99 74 101 73 101 68 99 69 94 71 93 77 94 77 94ZM209 5 213 6 217 4 213 -2 209 2ZM152 -1 155 -8 151 -20 146 -5 150 -1ZM192 187 190 190 194 195 198 196 201 194 201 193 196 188ZM74 55 75 55 80 47 69 42 67 43 66 49 66 49ZM146 107 155 103 152 98 148 96 142 103ZM102 165 109 167 111 169 103 176 100 174ZM2 40 2 36 -1 29 -17 32 -1 41ZM0 218 -2 219 -14 216 -5 210 1 216ZM122 105 122 107 122 107 119 107 118 105 119 104 120 104ZM76 24 75 21 73 18 66 20 66 20 67 24 72 29 74 28ZM176 207 185 207 184 204 179 197 175 201ZM135 154 133 156 125 159 123 155 123 149 125 147 129 147ZM272 108 234 118 228 112 229 108 238 102ZM8 115 2 114 5 108 6 109 8 112ZM148 71 147 72 148 74 148 74 149 73 150 72 150 71ZM21 42 19 40 17 34 18 29 23 30 23 39ZM68 33 66 38 65 39 60 35 60 33 64 29ZM92 142 97 143 100 138 99 135 93 133 90 136 90 136ZM74 158 69 157 67 156 74 149 77 151 76 157ZM212 106 212 107 216 115 216 115 225 112 225 108 221 102ZM32 5 30 15 24 13 23 8 26 3ZM229 186 235 185 237 183 234 175 232 175 227 182 229 186ZM121 67 122 68 123 68 124 67 122 65 121 65ZM11 122 1 128 0 128 -1 118 1 117 8 119ZM223 75 221 82 222 89 223 90 231 82 226 75ZM167 24 170 30 167 38 166 38 160 33 160 28 165 24ZM182 168 177 171 182 177 186 176 187 169ZM51 92 57 89 55 86 52 84 49 89ZM89 40 92 41 94 46 93 48 89 48 85 46 87 41ZM95 77 95 76 95 76 94 76 93 77 93 78ZM224 92 233 84 236 84 234 94 224 93ZM36 115 30 103 24 113 24 115 35 117 36 116ZM217 118 226 115 233 120 230 128 220 126ZM212 238 217 221 214 213 211 212 205 215 204 216ZM189 104 192 105 196 112 196 113 191 116 184 113 184 109 189 104ZM100 49 103 49 103 51 103 52 101 53 101 53 99 51ZM148 150 152 153 155 153 157 149 155 147 149 148ZM168 79 169 87 166 91 163 87 162 86 162 85 167 79ZM109 199 117 198 116 194 109 193ZM79 157 79 151 87 150 87 161 87 161ZM22 149 26 150 25 154 20 157 18 155 18 152ZM38 171 39 167 35 163 33 164 30 168 34 174ZM14 217 11 223 5 219 6 218 10 214ZM164 2 160 4 154 0 158 -6 164 -5 165 -3ZM111 93 111 92 110 92 109 93 110 97 111 97 112 96ZM69 110 72 106 66 102 61 106 60 113 61 113ZM168 148 167 150 168 151 173 153 175 148 174 147ZM140 -4 132 -11 128 -3 130 0 135 0ZM53 168 56 168 56 160 54 159 49 162 48 164ZM24 117 22 121 26 129 32 126 34 119ZM155 120 158 120 159 118 160 114 160 114 152 120ZM198 135 199 131 205 133 200 140ZM89 17 90 12 94 12 95 13 97 21 90 18ZM159 167 164 163 162 160 158 159 158 164ZM207 74 215 68 221 73 217 81 210 80ZM123 79 125 79 125 78 124 76 124 76 122 78ZM151 13 149 12 149 9 151 5 152 5 157 7 155 11ZM142 61 138 60 137 58 140 58 142 59ZM4 8 8 11 11 12 13 7 10 2 4 6ZM10 17 14 19 14 22 5 23 9 17ZM0 67 10 69 10 69 7 75 3 75 -1 72ZM187 102 182 106 175 103 175 101 180 97ZM58 147 61 154 57 156 55 155 53 151 56 147ZM133 82 132 82 133 80 136 80 138 82 138 83 137 83ZM102 78 103 77 104 76 105 77 103 79 103 79ZM145 55 142 53 143 50 145 50 147 54ZM89 150 90 160 99 160 100 153 97 149 91 148ZM218 7 222 7 221 17 217 16 215 14 215 10ZM229 198 228 189 227 189 220 194 220 195 224 201ZM13 145 15 142 19 143 20 146 17 149 13 145ZM106 210 107 216 107 217 100 218 98 211 103 207 104 207ZM95 97 96 100 94 100 94 97 94 97ZM109 202 106 204 109 207 118 205 119 202 117 200ZM173 212 173 217 179 222 185 215 185 210 185 210 175 210ZM173 157 173 156 167 155 166 158 167 162 169 162ZM109 50 111 50 112 49 110 47 109 48ZM36 87 36 79 31 75 23 81 23 81 35 88ZM127 174 127 171 124 168 118 170 120 174 123 175ZM121 8 123 8 126 1 125 -1 119 -3 115 1ZM16 88 18 83 12 82 11 85 11 89 12 89ZM191 169 196 172 197 174 190 177 189 176 189 169ZM149 181 150 181 154 185 155 189 154 190 147 192 147 191ZM130 59 127 61 126 62 128 64 130 64 131 62 131 59ZM116 55 118 52 119 52 121 58 120 58 117 59 116 58ZM84 23 85 21 85 19 80 20 81 23ZM45 191 52 200 49 205 41 203 41 192ZM178 95 174 99 170 95 170 94 173 90 178 91ZM89 104 89 95 81 93 80 101 89 104ZM129 93 130 90 132 92 133 93 133 94 130 94ZM164 39 157 45 153 42 152 39 158 35ZM135 7 134 9 129 11 127 10 130 3 134 4ZM102 24 105 30 108 31 115 22 114 18 109 17ZM16 173 19 170 21 171 24 179 21 180 17 178ZM155 164 155 159 154 158 152 157 151 162ZM97 84 99 83 97 82 94 83 94 83 95 84ZM151 52 150 49 151 48 153 49 153 49 152 52ZM56 113 45 109 46 104 50 100 58 105 57 113ZM104 121 98 118 102 113 105 116ZM37 114 42 109 42 104 33 99 32 100 32 103ZM90 75 87 74 86 73 87 73 91 74ZM44 217 42 216 39 210 39 206 40 205 48 208 49 209ZM67 -1 60 6 58 5 55 -3 57 -6 65 -3ZM110 209 110 216 119 215 121 213 119 207ZM142 193 143 194 142 197 136 200 132 198 133 191 135 190ZM175 139 177 144 177 145 178 145 182 139 178 134 175 136ZM111 113 113 111 111 105 108 105 104 107 105 111 108 113ZM200 88 204 96 206 97 210 92 207 86ZM184 28 190 30 191 34 184 36 183 36 182 31ZM232 157 233 159 237 161 251 158 236 154ZM163 127 164 128 168 123 163 120 162 123ZM118 125 124 124 125 125 124 129 120 131 117 127ZM217 21 221 21 222 22 221 30 213 28 212 27ZM224 157 228 158 228 160 225 165 222 166 222 160ZM68 88 68 83 64 78 60 85 61 88 65 90ZM89 164 90 163 99 163 100 164 97 175 93 175 89 165ZM64 50 64 49 57 52 55 53 57 60 63 58ZM49 31 52 33 52 35 51 36 48 37 44 35 45 33ZM186 85 191 87 195 86 193 81 186 80ZM133 74 134 72 133 71 131 71 131 72 132 74ZM156 129 160 128 158 125 153 124ZM149 118 146 116 148 109 155 105 156 106 159 111 149 118ZM210 82 217 83 220 90 212 91 208 85ZM184 138 186 138 189 135 186 129 181 129 179 133ZM90 35 94 36 101 31 98 27 97 26 91 30ZM156 89 154 89 152 91 152 91 154 92 156 90ZM219 159 219 167 216 170 214 170 210 163 213 158ZM110 65 112 67 113 66 114 64 112 64 111 64ZM127 54 125 55 123 52 124 52 127 53ZM224 94 233 97 237 100 228 106 223 100ZM88 106 86 114 82 114 77 105 80 103ZM206 10 207 14 212 14 211 9 208 8ZM10 148 3 154 8 156 14 155 13 152ZM46 11 48 9 45 6 40 5 43 10ZM195 104 198 112 209 106 209 106 205 100 203 99ZM85 15 88 10 85 8 77 9 76 15 79 17ZM25 44 25 48 26 49 33 46 33 41 27 42ZM32 175 28 170 23 170 26 178 31 179ZM10 142 3 139 3 134 11 136 11 139ZM197 6 194 8 192 6 192 -2 192 -3 198 -1 198 0ZM225 8 229 5 232 10 231 18 225 19 223 17ZM101 96 102 98 102 98 104 98 103 95 102 95ZM188 253 181 222 186 217 191 222ZM65 160 65 166 60 168 59 167 59 160 63 158 64 158ZM110 32 112 35 122 34 124 29 123 28 117 24ZM59 144 56 143 53 139 56 133 59 133 61 142ZM184 89 182 91 183 94 188 99 188 99 189 92ZM183 17 190 16 190 11 188 10 183 10 183 17ZM69 195 75 192 75 189 64 187 65 194ZM98 9 96 8 99 0 103 -1 107 2 104 9ZM85 135 85 134 77 129 72 134 76 138ZM174 106 171 110 177 115 180 112 180 109ZM68 125 67 129 71 132 71 132 75 128 74 124ZM72 147 65 154 64 154 61 146 63 144 64 144 72 147ZM16 131 14 123 20 121 25 130 24 132ZM23 111 20 108 19 104 24 99 29 99 29 103ZM158 191 157 193 159 198 163 199 165 197 164 192 163 191ZM139 155 145 165 142 169 137 166 136 158 137 155ZM207 -2 211 -4 213 -8 210 -17 202 -4 202 -3ZM78 209 85 201 86 201 90 209 86 214 78 213ZM148 146 155 144 156 141 153 138 148 143ZM73 216 75 213 75 209 70 206 65 209 64 211ZM-3 114 -3 114 -7 107 -1 104 1 107 -1 113ZM111 147 109 142 105 140 100 147 103 150 109 149ZM21 80 17 69 12 69 10 76 12 79 20 81 21 80ZM50 177 54 172 56 171 58 172 59 180 59 181 51 182ZM135 51 135 50 136 47 136 47 138 49 137 51 135 51ZM58 213 52 208 51 207 55 201 57 200 62 208 62 210ZM73 56 68 61 65 58 65 51ZM124 89 123 88 124 87 126 87 126 87 126 88 125 89ZM45 88 49 82 48 79 45 76 39 79 38 87ZM39 11 38 6 36 4 34 5 32 15 32 16 36 16ZM219 192 225 187 223 183 221 183 213 187 213 187ZM133 215 124 216 123 218 127 237 134 216ZM142 175 141 171 136 169 132 171 131 175 135 179ZM104 59 105 62 105 63 104 63 103 63 102 59ZM158 188 157 183 164 181 163 188ZM39 32 39 34 34 36 30 29 30 28 37 29ZM187 53 191 48 185 46 182 49 185 53ZM94 53 89 53 86 62 91 61 96 57ZM180 146 186 148 188 146 185 142 184 141ZM89 28 96 24 96 23 89 22 88 25ZM2 196 7 195 12 200 8 204 -1 201ZM144 129 138 128 136 124 140 120 144 119 147 121ZM180 18 180 9 179 9 172 10 171 19ZM143 116 143 109 140 105 139 105 133 109 140 116ZM74 160 68 159 68 167 74 171ZM52 78 59 74 62 75 62 77 58 83 53 81ZM142 132 140 132 137 135 137 136 141 135 142 132ZM128 13 130 19 137 20 138 18 134 13ZM72 145 66 142 70 137 70 137 73 140ZM82 49 81 50 78 56 84 61 84 61 86 53ZM182 193 188 192 192 197 187 202 181 195ZM199 175 201 178 197 185 192 185 190 179ZM139 96 140 95 142 95 143 95 143 95 141 97 140 97ZM100 23 107 15 104 12 98 12 99 21 99 22ZM37 21 37 26 30 26 32 19 36 20ZM162 21 157 16 153 18 153 22 158 24ZM221 205 215 209 213 208 212 201 218 197 221 202ZM47 22 46 26 42 30 40 26 40 22ZM169 38 172 41 179 37 178 32 173 32ZM1 157 5 160 5 168 4 169 -1 166 -3 159 0 157ZM50 136 43 137 43 134 49 128 50 128 53 132ZM138 90 138 91 141 90 140 87 139 88ZM198 126 202 120 197 114 192 118 192 123ZM135 129 133 136 128 130 129 125 134 125ZM212 147 210 150 204 149 202 145 211 143ZM210 39 208 40 207 46 210 48 215 47 213 40ZM223 142 221 146 215 146 214 142 214 142 218 140ZM159 171 165 178 165 178 164 179 156 181 151 178ZM72 112 74 107 75 107 80 115 76 117ZM119 96 118 96 118 93 119 93 121 94ZM47 42 45 50 53 52 55 50 53 40ZM49 153 47 153 46 156 48 159 52 157ZM110 190 107 188 108 185 112 186 116 188 115 191ZM4 82 7 84 8 80 7 78 4 79ZM181 -1 190 -4 189 7 181 7 181 7ZM49 4 50 0 52 -1 56 6 51 6ZM190 159 189 165 188 166 182 165 180 159 187 156ZM233 38 236 42 233 47 229 43 228 38ZM172 141 173 145 169 145 169 143ZM134 87 135 88 136 86 134 86ZM160 153 158 155 159 156 162 156 164 154 163 152ZM162 207 158 209 154 207 154 205 159 202 162 202ZM25 39 25 30 28 30 32 37 32 37ZM171 210 166 207 166 202 167 200 172 201 173 208ZM169 63 163 59 165 54 172 51 172 51 174 61ZM155 83 153 81 151 82 153 84 155 84ZM145 14 139 17 136 12 139 8 144 10ZM175 173 178 179 176 184 169 178 169 178 175 173ZM96 90 95 90 95 88 97 88 97 90ZM39 217 34 219 30 216 36 212ZM173 198 178 194 178 192 176 189 167 192 168 197ZM198 199 194 199 188 204 188 208 188 208 198 208ZM165 117 163 111 168 111 176 118 175 121 170 121ZM12 109 8 106 12 104 16 105 16 108ZM89 216 89 218 97 219 98 219 95 212 92 211ZM7 42 16 41 14 35 7 37 6 41ZM54 66 58 72 51 75 48 73 48 68ZM216 173 220 181 212 185 209 178 214 173ZM121 147 114 146 111 140 118 137 123 145ZM219 55 217 50 216 50 211 51 210 58 215 63ZM50 21 51 26 56 30 62 25 62 20 51 21ZM102 69 102 71 101 71 100 70 100 70 101 69ZM33 159 29 156 30 151 33 149 36 155 34 159ZM134 165 133 159 127 161 126 164 130 167ZM232 210 225 206 226 203 230 201 233 202 235 206ZM87 81 87 80 84 78 84 80 84 82 87 81ZM142 79 145 78 142 74 140 74 139 76ZM-3 74 0 78 0 81 -3 83 -4 83 -8 77ZM36 210 36 206 25 203 24 214 28 214ZM193 160 199 159 202 163 198 169 192 166ZM201 6 201 1 204 3 205 5 203 7ZM-4 88 0 93 -1 96 -10 92 -5 88ZM70 115 74 118 73 120 67 121 62 115ZM8 186 8 188 6 192 2 193 0 188 4 185ZM233 171 231 171 227 167 231 161 234 164 234 170ZM110 85 108 85 106 83 110 80 110 80 111 81ZM86 35 86 30 84 28 80 27 77 31 85 36ZM26 51 31 56 39 55 40 53 35 49ZM40 56 30 58 30 65 31 67 41 63ZM24 142 26 139 32 143 31 145 28 147 24 145ZM155 214 152 211 147 216 150 221 155 217ZM108 57 109 59 111 58 110 57 109 56ZM201 142 207 134 207 134 210 141 210 141 201 144 201 144ZM47 18 41 18 39 17 42 14 46 14 47 18ZM2 10 -3 15 1 24 2 23 6 14ZM201 157 203 152 210 153 211 157 208 162 205 162ZM120 150 114 150 112 152 114 156 119 154ZM19 54 19 64 17 66 12 66 12 66 12 55ZM71 88 72 83 77 81 79 85 78 90ZM221 32 212 30 211 36 214 38 222 34ZM20 140 24 137 23 133 16 133 15 135 15 139Z" fill="#f8f3f8"/><path d="M-7 99 -4 91M-7 99 7 99M153 216 143 207M153 216 164 214M-2 108 7 99M-2 108 4 122M57 79 64 84M57 79 62 64M34 216 43 211M6 198 12 193M6 198 -6 193M17 208 2 210M12 193 25 188M12 193 16 186M-6 193 -4 181M71 183 85 173M111 177 112 188M215 180 215 162M231 166 238 158M231 166 224 162M188 197 194 191M188 197 185 184M212 194 217 202M169 204 164 214M160 205 164 214M171 194 161 194M171 194 179 203M179 203 179 215M83 56 91 57M49 59 53 71M49 59 52 46M34 60 33 53M107 146 94 155M107 146 111 132M122 66 118 56M67 56 61 55M67 56 76 64M62 64 72 76M61 55 52 46M38 71 43 82M38 71 31 82M24 72 31 82M15 76 4 73M31 82 42 95M43 82 53 88M52 163 42 160M52 163 62 163M9 178 -4 181M9 178 16 186M-3 173 2 164M11 164 2 164M11 164 22 152M58 138 58 125M58 138 48 145M49 133 32 134M49 133 47 117M49 133 58 125M48 145 40 151M48 145 32 134M16 98 13 85M26 89 13 85M26 89 23 105M13 85 2 87M12 107 6 112M12 107 23 105M6 112 14 114M4 122 -7 136M87 190 85 173M87 190 103 196M87 190 97 185M87 190 84 209M96 203 93 216M97 185 103 196M97 185 112 188M108 157 94 155M108 157 95 168M128 220 143 207M232 42 226 50M134 -5 121 2M215 162 206 170M224 162 229 149M209 146 217 152M-8 148 2 164M2 164 9 152M32 134 42 126M32 134 19 137M19 128 27 124M9 129 8 138M10 30 -3 36M10 30 20 35M10 30 2 16M133 72 129 62M147 86 141 96M235 109 224 122M235 109 229 100M116 143 125 137M90 74 94 77M72 76 85 81M91 69 91 57M85 81 75 85M85 81 94 77M94 77 101 70M51 107 42 95M40 151 33 155M42 160 33 155M26 162 22 152M41 180 32 198M41 180 55 192M25 188 27 173M27 173 34 168M84 209 69 211M64 203 55 192M30 110 27 124M30 110 42 126M23 105 37 106M27 124 14 114M64 137 66 148M64 137 72 128M130 163 135 174M161 185 161 194M169 186 174 178M161 194 153 197M80 144 73 155M80 144 96 138M80 144 94 155M132 24 144 21M132 24 130 35M217 143 223 134M212 126 213 136M206 114 197 121M223 134 224 122M185 121 171 129M204 127 192 131M192 140 201 134M192 140 192 131M192 131 186 134M184 145 181 152M184 145 178 140M225 196 217 202M17 145 22 152M17 145 9 152M17 145 8 138M22 152 9 152M19 137 26 143M19 137 8 138M8 138 4 146M16 60 7 60M39 44 49 34M33 53 25 59M25 59 13 47M80 2 82 13M119 42 125 53M119 42 110 49M119 42 130 35M118 56 129 62M169 116 167 103M169 116 171 129M169 116 175 110M154 83 158 78M118 73 116 84M108 83 110 94M110 94 103 89M118 30 130 35M118 30 102 41M68 8 73 23M63 34 73 23M75 85 64 84M58 96 73 97M96 89 102 96M95 98 87 88M103 89 102 96M69 117 82 125M58 125 67 108M195 180 185 184M185 184 174 178M174 178 167 170M167 170 176 163M79 164 73 155M82 156 73 155M112 197 112 188M112 197 112 203M112 188 124 193M204 54 194 54M228 13 229 28M228 13 218 11M211 43 219 41M211 43 200 42M211 43 206 33M206 33 209 20M136 49 144 42M130 35 144 21M13 47 12 38M13 47 1 52M-3 36 12 38M111 65 109 58M101 70 97 64M51 3 44 8M36 11 35 24M135 86 136 82M135 86 139 89M135 86 125 88M152 62 140 60M152 62 139 66M148 72 158 78M152 50 158 40M152 50 164 47M144 52 140 60M140 60 139 66M189 42 197 30M201 106 206 90M201 106 196 95M167 103 159 94M159 94 165 86M138 145 125 137M138 145 154 149M152 143 147 136M164 123 159 134M164 123 157 119M132 129 132 117M132 117 121 128M132 117 141 127M139 110 141 127M101 16 112 9M101 16 109 23M101 5 93 17M109 23 94 31M171 150 181 152M171 150 162 145M171 150 170 143M124 193 127 207M153 197 137 194M143 207 137 194M224 62 236 75M236 75 239 61M212 86 213 77M205 65 194 54M169 57 175 69M165 86 175 95M185 62 186 49M175 69 192 73M221 -2 206 -4M102 50 110 49M97 64 104 62M102 41 94 31M125 98 120 106M119 94 120 106M120 106 108 110M175 95 177 82M189 111 186 93M110 120 119 118M151 129 157 127M151 129 140 133M82 30 77 39M82 30 83 22M82 30 90 24M94 31 90 45M170 143 178 140M152 188 151 169M184 161 181 152M192 174 197 164M203 4 195 3M203 4 206 -4M203 4 209 11M195 3 186 13M195 3 186 3M142 3 151 -7M142 3 152 9M140 12 144 21M140 12 152 9M174 2 175 14M174 2 159 -3M186 3 186 13M191 84 196 95M186 93 177 82M152 9 144 21M152 9 156 20M144 21 152 31M144 21 156 20M186 32 188 23M188 23 176 24M165 31 176 24M156 20 165 13M156 20 152 31M152 31 158 40M175 36 164 47" stroke="#f8f3f8" stroke-width="4.0" fill="none"/></g></g>
<g transform="translate(312.6 376.8) scale(.5)">
<path d="M111 66 135 58 157 62 163 76 157 90 143 102 115 106 97 104 91 86Z" fill="#5a1a84" opacity="0.4" filter="url(#sm2)"/>
<path d="M170 144 168 153 165 162 160 171 154 168 147 165 146 153 141 144 143 133 149 127 154 120 160 118 166 125 168 135Z" fill="#5a1a84" opacity="0.45" filter="url(#sm2)"/>
<path d="M143 -2 217 -2 219 25 217 52 214 66 195 70 187 82 185 106 184 128 171 130 151 122 131 112 149 102 161 88 167 72 165 54 159 34 149 12Z" fill="#f8f3f8"/>
<path d="M221 54 232 46 232 130 199 134 191 110 195 86 207 74Z" fill="#f8f3f8"/>
<path d="M63 30 60 37 58 46 50 48 43 48 36 46 31 39 29 30 34 23 37 17 43 13 51 12 58 14 61 23Z" fill="#f8f3f8"/>
<path d="M96 26 97 32 94 36 91 39 87 39 84 36 82 31 81 26 81 21 83 16 87 14 90 15 95 16 97 21Z" fill="#f8f3f8"/>
<path d="M70 136 68 149 61 159 50 161 39 164 30 156 22 148 23 136 24 126 30 116 40 112 49 114 59 117 65 126Z" fill="#f8f3f8"/>
<path d="M133 160 134 177 129 190 123 199 115 195 109 188 105 175 101 160 103 143 109 132 115 125 122 127 128 134 132 146Z" fill="#f8f3f8"/>
<path d="M213 176 212 187 208 195 204 203 198 197 193 196 190 186 189 176 191 167 193 157 198 153 203 154 208 158 213 165Z" fill="#f8f3f8"/>
<path d="M25 186 23 191 20 195 17 198 13 198 8 196 6 191 4 186 5 181 8 177 12 174 17 173 21 177 24 181Z" fill="#f8f3f8"/>
<path d="M88 186 87 192 85 197 81 202 77 200 72 198 71 192 68 186 69 180 73 176 77 172 81 171 85 175 87 181Z" fill="#f8f3f8"/>
<g fill="none" stroke-linecap="round" stroke-linejoin="round">
<path d="M136 -2 146 14 157 39 163 60 164 76 157 90 144 101 125 105 109 104" stroke="#5e1c84" stroke-width="8.4"/>
<path d="M141 -2 151 16 162 38 167 60 168 76 161 92" stroke="#7a2a96" stroke-width="2.8"/>
<path d="M217 -2 219 25 217 52 214 68 206 71 195 72 190 79 187 101 184 126 191 150 203 170 211 190 219 214" stroke="#7a2a92" stroke-width="4.8"/>
<path d="M221 12 225 36 223 56" stroke="#8a3aa0" stroke-width="3.2"/>
</g>
<path d="M164 146 164 152 163 159 160 159 158 159 155 158 154 152 152 147 152 141 152 134 156 135 158 131 160 136 163 140Z" fill="#e05a98" stroke="#7a2a92" stroke-width="2"/>
<path d="M106 17 105 19 104 21 102 23 100 22 97 22 96 20 96 17 96 15 97 13 100 13 102 12 104 14 106 15Z" fill="#e0568e"/>
<path d="M16 87 17 89 14 90 11 91 8 91 6 90 3 89 3 87 3 85 5 83 8 82 11 83 15 83 16 85Z" fill="#e0568e"/>
</g>
</g></g>
<g clip-path="url(#cp3)"><g filter="url(#hb)">
<rect x="429.6" y="376.8" width="115.7" height="107.4" fill="#b080cc"/>
<rect x="429.6" y="376.8" width="115.7" height="107.4" fill="#fff" filter="url(#tv3)"/>
<rect x="429.6" y="376.8" width="115.7" height="107.4" fill="#fff" filter="url(#nv3)"/>
<g filter="url(#sm)"><g transform="translate(429.6 376.8) scale(.5)"><path d="M175 192 170 193 163 187 166 183 172 185 175 191ZM16 174 18 167 16 163 12 163 5 169 5 172 15 175ZM173 160 171 156 168 157 163 161 163 168 166 169 173 167ZM107 191 107 192 106 196 100 200 98 200 95 191 97 190ZM174 89 170 96 173 99 179 98 180 90ZM233 12 229 11 227 7 227 5 230 3 234 7 235 10ZM200 28 203 31 209 27 204 20 201 22ZM214 204 222 205 223 207 218 213 212 213ZM211 3 218 0 223 3 222 6 215 10ZM163 181 161 184 158 185 152 177 153 173 161 172 163 173ZM182 203 182 205 178 215 174 213 174 206 180 203ZM120 26 120 27 116 29 110 26 107 22 108 21 116 22ZM103 148 104 144 107 142 116 143 117 145 113 153 106 151ZM180 117 180 113 184 110 187 112 188 113 188 120 186 121ZM155 49 147 45 144 52 147 54 152 53ZM149 83 156 86 160 80 158 77 156 76 151 76 151 77ZM89 92 94 93 96 95 97 102 94 105 86 105 85 103 85 97ZM52 25 51 25 44 34 48 38 56 35 58 29ZM73 1 79 8 85 9 88 -1 81 -6 73 1ZM194 122 200 119 201 115 200 114 198 113 191 114 190 120ZM87 87 88 79 91 78 99 82 94 91 89 90ZM69 64 74 58 73 56 62 53 60 56 61 62ZM219 184 212 177 217 172 219 172 226 179 226 180 224 183ZM-2 52 -6 56 -21 50 -5 45 -1 50ZM168 83 163 82 159 89 159 89 163 95 167 95 170 88ZM218 57 219 57 223 52 220 47 218 47 215 50 214 53ZM184 68 183 68 177 66 179 61 183 62 185 64ZM125 208 122 208 119 203 122 197 127 199 127 205ZM105 33 96 33 98 24 105 22 107 28ZM195 4 194 -2 198 -6 204 -2 206 2 200 7 196 7ZM136 156 127 151 126 158 127 160 136 157ZM33 15 29 22 36 28 39 21ZM13 181 14 176 5 173 1 179 6 184ZM170 46 172 51 172 51 167 51 163 47 164 46ZM78 40 76 41 72 39 71 31 78 31 79 38ZM29 216 26 226 16 219 23 214 29 216ZM212 41 209 41 208 44 212 48 215 45ZM54 68 50 68 49 68 47 60 50 57 57 57 58 63ZM137 218 145 218 146 217 149 209 149 208 148 208 139 212ZM61 10 59 10 54 7 55 1 57 -1 64 5ZM80 168 75 163 72 166 71 170 72 173 76 174ZM35 -1 32 -8 23 -4 27 6 29 6ZM193 158 192 169 192 169 200 168 201 165 200 159 194 157ZM174 43 182 40 183 40 184 46 182 48 176 51 174 44ZM54 212 54 213 50 220 47 219 44 212 46 207 48 206ZM233 48 230 42 226 41 223 45 226 50 232 51ZM128 210 133 219 136 217 137 212 135 208 130 207ZM122 75 121 76 109 67 118 61 124 65 124 71ZM96 207 99 204 101 204 106 210 106 210 103 216 96 209ZM98 118 107 117 110 121 109 126 105 129 99 127 98 118ZM212 64 216 59 212 55 205 58 205 59 205 60 208 65ZM197 135 205 130 204 124 201 122 196 125ZM32 154 37 152 40 153 42 156 40 161 34 158ZM198 203 196 199 198 195 204 194 207 196 207 198 200 205ZM144 150 142 151 139 156 139 157 141 162 146 163 150 156ZM118 88 126 92 127 94 127 97 120 100 114 96 114 94ZM27 186 37 191 36 193 26 193 27 186ZM116 215 109 212 104 218 104 218 105 219 114 222 117 219ZM225 159 225 159 219 157 216 159 215 163 217 168 219 168 226 163ZM141 166 138 169 139 175 146 176 148 175 150 171 146 166ZM120 169 126 165 129 168 126 174 121 173ZM61 153 66 150 67 146 59 141 59 141 55 148 55 153ZM124 114 119 110 111 112 110 116 112 119 121 118ZM216 130 222 130 223 128 221 121 217 120 216 121ZM81 186 84 186 89 191 83 199 79 197 78 195 81 186ZM142 15 144 25 148 26 151 24 150 14ZM44 45 46 43 46 40 42 35 38 35 37 36 33 45 37 49ZM54 163 54 155 55 155 61 156 62 161 58 164ZM177 171 178 178 173 183 166 181 166 172 174 170ZM125 53 131 57 131 58 124 63 119 60 119 54ZM178 171 180 178 183 180 191 177 191 171 191 171 184 169ZM72 3 67 7 64 11 70 17 73 16 77 10ZM148 107 147 102 145 100 144 101 141 105 141 110 144 112 144 112ZM0 139 1 133 -6 131 -16 136 -2 141ZM141 87 137 92 144 97 145 97 145 96 144 87ZM183 19 187 22 186 23 179 27 179 27 177 24 178 18ZM216 28 220 24 222 24 225 27 225 28 222 32 218 31ZM133 135 129 130 136 125 136 125 139 128 138 134ZM77 115 75 114 73 112 76 108 83 106 84 107 82 114ZM158 142 158 139 163 135 169 140 162 145 160 146ZM72 71 78 74 82 73 85 62 84 61 76 59 71 66ZM159 115 163 117 165 122 161 127 157 124 155 120ZM82 209 86 215 92 209 92 207 85 204ZM212 216 217 217 219 220 217 231 210 219 210 216ZM148 0 157 -3 145 -24 146 -2 147 0ZM6 195 7 195 15 195 19 198 19 199 17 203 14 203 10 202ZM50 89 44 93 43 96 49 98 57 93ZM90 20 96 24 94 32 93 33 90 32 84 25ZM0 104 3 104 8 96 8 95 2 89 -2 99ZM29 123 24 116 18 120 18 122 26 126 29 125ZM67 76 67 86 63 87 60 80 61 77ZM202 89 202 95 203 95 207 91 206 87 205 87ZM22 24 20 28 13 30 11 22 19 21ZM57 177 62 172 67 171 69 175 66 178ZM197 137 201 143 206 145 211 141 211 134 206 133 197 136ZM79 11 76 18 82 24 83 24 89 18 89 13 85 11ZM227 76 230 79 236 78 234 74 228 74ZM35 57 28 59 25 63 27 65 32 67 34 66 36 58ZM234 134 236 132 232 128 226 130 225 132 227 135 228 136ZM15 186 15 192 7 193 7 186 14 183ZM81 183 77 176 82 169 83 169 87 177 84 183ZM58 137 52 133 50 127 50 125 60 126 62 127 58 136ZM223 89 221 94 221 95 225 95 229 91 229 90 226 89ZM55 195 55 192 56 190 66 190 67 194 64 200ZM87 62 91 64 94 71 91 76 87 77 83 74ZM195 137 198 144 193 151 186 147 188 138ZM36 83 29 88 24 86 28 79 31 78 36 82ZM32 14 32 14 27 21 24 22 21 19 20 11 26 9 29 9ZM77 141 83 149 89 148 89 140 82 138ZM116 141 119 133 110 128 107 131 107 140ZM31 127 36 131 36 137 35 138 28 139 25 137 25 134 27 129ZM93 158 99 163 99 163 93 165 89 164 90 160ZM174 54 168 56 166 60 169 65 173 66 174 65 176 60ZM56 210 62 205 63 203 62 203 54 198 50 205ZM137 12 130 17 129 17 124 12 125 7 125 6 133 7 137 10ZM229 117 231 118 232 126 225 128 222 120ZM23 201 21 205 24 210 29 213 31 205ZM100 177 108 178 108 175 102 167 98 176ZM135 191 138 189 142 190 142 190 142 194 138 196 133 195ZM27 177 27 177 19 174 21 168 26 168 28 171ZM16 -5 14 -8 7 -4 8 3 14 2ZM110 189 111 190 119 191 122 185 117 181 111 181ZM159 110 161 102 163 98 168 98 171 101 170 109 165 114 160 112ZM51 54 57 55 59 51 59 49 48 44 47 47ZM139 111 129 112 132 103 139 104ZM181 30 185 36 185 36 189 34 190 30 188 27ZM16 38 13 34 14 32 21 30 23 34 21 40ZM4 167 10 161 6 156 0 156 0 164ZM54 106 56 111 60 112 62 110 61 103ZM116 82 119 76 109 68 109 68 105 73 105 79ZM3 193 4 192 4 186 0 182 -2 182 -8 188 -1 193ZM227 67 228 71 234 71 235 69 232 63 227 66ZM171 8 169 2 162 1 162 9 165 12 171 10ZM11 59 7 59 1 53 1 51 8 49 13 53ZM206 98 209 101 210 101 213 100 215 98 215 97 210 96ZM185 186 184 182 191 179 194 182 192 187 188 189ZM229 180 235 181 241 177 234 171 229 179ZM187 138 184 147 181 148 177 148 173 140 180 134ZM91 13 98 10 100 10 105 15 105 20 104 20 97 22 92 18ZM-1 83 2 79 2 76 -1 71 -14 74 -3 82ZM85 59 90 48 80 42 77 44 76 55 77 57ZM4 139 4 140 11 139 12 133 12 133 5 132 4 133ZM221 -3 225 1 228 -1 230 -7 229 -17 221 -5ZM104 35 96 35 96 35 97 45 107 41 107 39ZM46 10 47 18 51 22 52 22 58 12 53 9 46 10ZM102 141 96 136 96 132 99 130 104 131 104 139ZM221 58 225 54 230 55 232 57 230 60 226 61ZM227 185 229 182 234 183 236 188 234 193 231 193ZM181 86 180 86 174 85 172 81 175 79 180 80 182 82ZM230 110 231 106 234 106 251 111 233 115 231 114ZM196 217 198 226 207 218 208 215 201 212ZM146 87 147 96 155 90 155 89 148 86ZM213 27 211 27 206 19 206 17 214 14 219 21ZM211 87 212 90 216 93 217 88 216 86 214 86ZM37 203 34 205 31 214 32 215 33 215 42 211 44 206ZM136 80 137 74 136 72 126 72 123 76 132 81ZM25 58 20 51 15 53 13 60 16 62 23 63ZM209 194 206 192 205 182 208 179 211 178 218 186 216 190ZM222 219 229 217 229 211 224 208 220 215ZM77 87 85 88 87 91 83 95 75 93 73 89ZM63 101 63 102 65 109 71 110 73 106 70 101ZM0 106 3 107 8 111 9 116 5 119 -3 116 -3 109ZM2 85 5 81 17 85 18 87 10 94 3 88ZM136 82 139 85 135 91 130 93 129 91 132 83ZM220 145 228 145 227 139 225 138 218 143ZM152 157 148 164 152 170 161 169 160 161 155 156ZM128 115 134 123 127 129 126 129 124 120 126 115ZM176 29 171 32 168 31 168 27 173 27ZM143 28 148 28 148 35 145 41 138 38 138 30ZM81 25 78 29 71 29 68 27 70 21 74 20ZM153 14 159 12 163 15 162 21 156 24 153 24 153 14ZM102 -3 107 -5 112 -3 112 0 104 3ZM15 149 21 153 16 161 12 160 9 154 10 152ZM231 146 229 145 228 138 236 135 237 141 233 146ZM196 152 196 155 201 156 206 154 205 148 200 146ZM210 198 210 196 217 192 224 199 222 203 214 201ZM214 71 213 69 209 69 209 70 211 74 213 74 214 73ZM52 162 50 164 44 163 44 163 46 158 52 156ZM155 63 147 65 151 73 156 72ZM5 129 6 122 11 119 15 121 15 123 12 131ZM13 64 12 70 5 75 2 69 2 68 7 63 11 62ZM200 170 207 177 204 181 195 180 193 177 193 171ZM172 121 169 120 167 115 172 111 176 113 176 117ZM5 19 -2 25 -10 18 -2 12 2 11 5 15ZM80 184 75 178 71 176 67 180 68 187 79 184ZM212 31 210 31 206 34 206 34 209 37 211 37 213 34ZM157 109 158 102 149 101 151 106ZM75 210 71 216 69 215 65 206 66 204 71 205ZM103 165 101 163 101 163 105 153 113 156 113 157 112 162ZM163 215 159 216 151 208 151 208 151 208 161 207ZM184 5 184 -2 185 -3 192 -1 193 5ZM134 58 134 57 137 55 141 54 144 57 144 63 139 65ZM94 45 91 47 81 41 82 40 90 35 93 36 95 45ZM51 107 46 111 46 116 48 119 55 113 51 107ZM44 9 34 12 31 8 37 0 42 1 44 9ZM42 93 41 96 41 96 34 97 30 89 37 84ZM129 114 129 113 140 112 143 114 136 122 136 122ZM127 42 132 42 136 53 132 56 126 51ZM77 139 76 139 74 130 77 128 82 129 81 136ZM160 -3 170 -17 173 -4 170 -1 161 -2ZM162 206 151 207 152 201 157 197 164 202ZM113 51 117 54 117 60 109 66 109 66 104 59 105 56ZM107 34 109 29 115 31 115 35 109 38ZM114 49 118 52 124 50 126 42 125 42 121 42 114 49ZM51 83 52 87 58 92 59 92 62 88 58 82ZM203 67 201 62 197 65 197 69 198 69 203 67ZM170 75 171 70 168 70 163 74 165 77 169 77ZM60 29 59 35 64 42 70 40 69 31 66 28ZM42 -1 45 -4 48 -11 40 -46 34 -9 37 -2ZM202 169 208 176 210 175 215 170 212 164 204 166ZM96 119 88 121 87 126 94 129 97 127ZM145 148 152 154 155 154 159 148 155 144 146 147ZM60 165 62 169 67 169 68 165 63 163ZM116 86 112 93 108 91 104 81 105 81 116 83ZM22 101 23 90 24 90 28 91 31 97 30 99 22 102ZM86 60 92 49 96 47 102 56 102 59 91 62 87 61ZM188 209 184 205 180 215 182 217 188 213ZM188 198 194 198 197 194 193 189 189 191ZM201 58 194 55 193 57 192 61 194 62 201 59ZM206 75 204 78 202 77 201 74 205 71ZM18 184 25 184 25 184 26 179 18 176 16 177 15 182ZM195 81 192 79 193 76 195 75 197 75 197 78ZM-1 68 -6 61 -24 72 -16 73 -1 68ZM193 85 190 82 186 83 184 87 188 89 191 88 193 85ZM180 151 182 157 176 159 174 155 177 150ZM40 170 42 165 49 167 51 176 41 177ZM208 147 213 144 216 146 217 147 217 153 213 155 210 152ZM179 200 173 203 168 201 171 196 175 194ZM167 204 166 204 165 207 165 214 167 215 172 213 171 207ZM153 26 156 27 161 35 160 37 151 34 150 28ZM28 23 35 29 37 33 36 34 25 33 22 29 24 24ZM230 25 235 21 242 25 236 30 230 27ZM201 56 195 53 194 50 197 47 200 49 202 56ZM133 42 137 40 144 43 145 43 141 51 137 52ZM32 159 28 166 30 169 38 169 41 164 41 164ZM235 47 247 43 237 37 233 41ZM106 106 108 111 107 115 98 115 97 107 99 104ZM118 32 122 29 125 32 125 40 122 39 118 35ZM70 72 69 66 60 64 56 69 60 75 67 74ZM110 40 109 42 113 48 120 41 116 37ZM33 70 32 76 38 81 38 80 40 71 36 69ZM171 125 168 124 165 129 165 132 171 137 172 137 178 132 177 132ZM130 143 126 146 119 144 118 142 120 134 126 131 127 131 132 137ZM123 27 123 27 127 29 135 28 130 19 128 19ZM228 158 237 155 244 161 233 165 229 162ZM76 143 76 143 70 146 69 151 75 159 81 154 81 150ZM6 3 3 8 -1 -4 -1 -5 6 -4ZM119 167 117 166 115 163 116 158 123 159 125 161 124 163ZM212 78 214 82 209 84 207 83 207 80 209 77ZM190 23 194 20 200 22 198 27 193 28 190 24ZM213 134 214 141 217 142 224 136 222 132 216 132ZM219 146 228 146 229 147 227 156 219 154ZM110 95 110 97 106 102 100 101 99 95 106 94ZM15 40 9 46 6 38 7 36 12 34ZM189 215 182 219 187 259 196 226 194 217ZM64 160 69 163 74 160 74 160 68 152 63 156ZM41 109 35 109 34 111 37 117 44 117 43 111ZM148 119 144 125 141 126 137 123 143 115 143 115ZM178 111 172 109 172 101 180 101 181 102 183 108ZM30 152 28 151 29 142 35 141 35 149ZM193 30 192 35 196 38 202 34 202 33 198 30ZM2 142 2 142 8 150 6 153 -1 154 -3 153 -1 144ZM77 198 72 202 66 202 65 201 69 195 75 196ZM138 13 132 18 137 27 137 27 142 25 140 15ZM140 11 142 13 150 12 151 12 147 3 146 2 139 10ZM71 0 65 4 59 -2 59 -5 65 -8 71 0ZM121 174 119 179 123 183 126 182 128 179 126 176ZM175 149 171 153 168 153 164 148 171 141 171 141ZM25 7 21 -3 18 -4 16 3 18 8 19 9ZM25 78 23 86 22 86 20 86 18 83 19 76 22 75ZM-6 128 -5 119 -4 119 4 121 3 129 2 130ZM95 156 95 151 101 149 103 153 100 162ZM-3 179 -12 170 -2 166 3 169 3 172 0 179ZM172 123 180 131 185 122 178 118ZM87 159 82 156 76 160 76 161 82 166 84 166 87 164ZM78 77 82 76 86 79 85 86 77 84ZM126 210 122 211 119 215 119 219 130 223 131 220ZM57 139 50 135 44 140 46 145 52 146ZM5 215 10 216 13 219 7 230 1 219ZM75 44 74 54 63 50 63 49 65 44 70 42ZM98 179 96 187 93 189 91 189 85 184 89 178 93 177 97 178ZM117 205 120 209 117 213 109 211 109 210 113 205ZM209 4 213 11 213 13 206 16 202 8 207 3ZM167 35 170 36 171 41 171 41 164 41 163 38 164 37ZM47 203 45 204 39 201 39 195 40 192 41 191 51 192 52 196ZM110 175 115 168 118 169 119 173 117 178 111 179 110 178ZM35 55 27 57 21 50 24 46 31 46 35 51ZM5 39 -3 42 -3 44 0 49 8 46 8 46ZM0 67 6 61 -1 54 -5 58 -4 60ZM128 112 128 112 130 103 128 99 121 102 121 108 125 113ZM49 55 46 47 37 51 37 55 38 56 45 58ZM119 13 113 11 114 3 122 7 122 12ZM138 8 135 4 136 -1 144 0 145 1ZM157 111 150 109 145 114 149 117 152 117 158 113ZM151 131 151 134 156 137 162 133 161 130 155 128ZM17 144 24 140 26 142 26 150 22 151 17 147ZM204 56 202 47 205 46 211 50 211 52ZM121 25 127 18 122 14 120 15 118 20ZM132 197 130 198 131 204 135 204 137 202 137 199ZM181 5 181 5 182 -2 175 -2 173 1 175 8ZM61 12 59 13 54 23 60 27 65 26 68 20ZM139 185 137 180 139 178 146 178 143 188ZM224 79 221 83 222 85 227 85 226 81 225 79ZM149 2 158 -1 158 -1 159 0 159 10 152 11ZM202 210 208 213 210 212 211 204 208 199 202 207ZM220 99 219 102 220 107 226 108 228 104 224 100ZM183 71 175 68 174 68 174 77 181 77ZM124 4 123 5 115 1 114 1 114 -3 121 -10 125 -4ZM140 135 141 127 144 127 149 131 149 134 144 137ZM1 210 2 213 -1 217 -4 217 -7 213 -4 208ZM2 8 -2 -4 -8 3 -3 10 2 9ZM185 16 189 21 192 18 192 12 187 13ZM152 120 153 126 150 129 146 126 149 120ZM186 149 192 152 192 155 191 156 185 156 185 156 183 151ZM183 15 178 16 174 12 175 10 182 7 184 12ZM236 4 244 -2 233 -6 230 1ZM137 206 139 204 147 207 139 211ZM96 116 94 108 86 107 85 115 88 118 96 117ZM29 155 26 154 23 154 18 162 20 165 26 165 30 159ZM136 159 128 162 128 164 131 166 135 167 139 164ZM103 81 100 83 96 91 98 93 106 91ZM192 54 191 49 186 48 184 51 187 55 190 56ZM201 99 198 100 197 101 200 110 201 111 205 105 202 99ZM132 190 127 184 124 185 121 192 123 195 128 196 131 195ZM223 21 228 13 234 14 234 19 228 24ZM104 5 112 2 113 3 111 11 107 14 102 8ZM225 204 226 205 231 208 236 206 235 200 233 197 231 197 227 200ZM183 159 183 167 178 169 174 168 176 161 183 159ZM113 98 119 102 119 108 111 110 108 104ZM194 103 191 109 191 110 197 110 195 103ZM13 4 8 5 4 8 4 9 7 13 16 9ZM35 35 25 35 24 41 25 43 31 43ZM177 189 174 184 179 180 181 182 181 186ZM195 12 196 9 200 9 204 17 203 18 200 19 195 18ZM163 63 159 63 159 64 158 71 160 72 166 66ZM165 200 164 201 159 195 159 190 159 189 162 188 168 194ZM100 147 101 143 94 139 91 140 91 147 94 149ZM164 59 166 55 160 48 157 49 155 55 158 60ZM146 146 145 138 150 135 155 139 155 142ZM218 70 224 68 225 73 224 75 223 75 219 73ZM29 177 38 178 39 177 38 170 31 171ZM138 80 141 84 144 84 146 83 148 76 139 75ZM18 206 21 212 15 218 14 218 12 215 15 207ZM38 131 38 137 43 138 49 134 47 126ZM5 35 -2 28 -6 35 -3 41 4 37ZM190 74 186 72 185 72 184 77 185 80 189 78ZM197 84 200 80 204 81 205 84 200 86 197 85ZM146 191 156 190 155 195 151 198 146 194ZM83 97 83 104 75 105 72 100 74 95ZM31 70 30 76 27 77 23 73 26 68ZM117 203 121 196 119 193 110 192 109 196 113 203ZM178 53 183 52 183 56 183 58 180 58 178 54ZM47 80 40 80 42 72 47 71 48 71ZM183 200 186 197 186 191 183 189 178 192 178 193 181 199ZM188 101 184 102 185 107 188 108 191 102ZM11 95 11 95 19 88 21 89 20 102 18 102ZM4 142 9 149 14 147 14 144 11 141ZM128 174 130 178 135 177 136 176 135 170 130 169ZM83 27 89 34 81 38 80 31 83 27ZM131 82 127 91 119 86 118 83 121 77 122 77ZM121 121 113 122 112 126 119 131 124 129ZM17 186 25 186 24 193 21 197 17 193ZM159 39 151 36 147 42 147 42 156 46 158 45 160 43ZM100 180 97 187 108 189 109 181 108 179ZM198 44 198 39 203 35 205 40 204 43 201 45ZM33 216 43 213 46 220 41 222ZM218 77 220 77 218 81 217 80 217 78ZM37 149 36 140 38 139 42 140 44 145 41 150ZM194 70 193 66 191 65 189 66 188 69 192 71ZM48 83 48 87 43 92 39 84 39 83 40 83 47 82ZM54 165 51 167 53 176 55 177 56 177 60 170 58 166ZM190 61 189 58 187 58 186 59 188 61ZM125 5 127 -4 134 -4 135 -2 133 5ZM136 155 128 150 127 147 132 145 140 149ZM139 102 143 99 136 95 131 95 130 98 133 101ZM13 73 6 77 6 80 17 84 17 75ZM40 21 37 28 38 32 43 33 50 24 45 20ZM48 40 58 36 63 43 60 48 48 43ZM111 49 104 54 97 47 98 46 107 43 111 49ZM52 153 45 154 43 151 46 147 51 148 52 153ZM115 156 115 155 119 146 125 148 125 150 124 157ZM49 105 45 108 43 106 42 98 43 98 48 101ZM136 -3 145 -2 144 -24 143 -29 135 -5ZM187 92 187 97 182 99 181 99 182 90 183 90ZM29 180 29 180 28 184 38 190 39 189 38 180ZM133 189 127 184 130 180 135 179 137 187ZM234 146 238 143 250 146 238 149ZM158 100 149 99 147 98 148 98 156 91 161 97ZM56 114 49 120 49 123 61 124 60 114ZM76 126 72 128 65 126 73 116 75 117ZM165 32 165 26 163 23 156 26 162 34ZM85 126 86 120 83 117 76 117 77 125 84 127ZM172 14 166 16 166 22 168 23 174 24 175 18ZM92 156 94 151 90 149 84 150 83 154 89 158ZM229 86 232 88 239 80 237 79 230 81ZM157 61 154 55 146 56 146 64 146 64 156 62ZM87 217 87 217 93 222 102 218 102 218 94 210ZM46 8 53 7 52 1 47 -2 43 1ZM201 159 208 155 213 158 212 163 203 164ZM203 120 203 115 213 115 214 115 215 118 214 120 206 122ZM126 70 126 65 132 59 137 66 136 70ZM89 0 93 -1 97 7 90 12 87 9ZM210 1 218 -2 217 -5 212 -9 207 -3 208 1ZM44 11 45 18 40 19 34 14 34 14ZM228 165 220 171 228 177 232 170 232 167ZM91 191 93 191 97 202 93 206 85 202 84 201ZM58 76 57 80 51 81 50 80 50 71 54 71ZM60 138 65 128 65 128 71 130 75 140 69 143ZM219 191 220 187 225 186 229 194 225 197ZM177 32 175 36 174 40 180 38 178 33ZM208 130 212 132 214 130 215 121 206 123ZM150 209 158 218 155 220 148 218ZM103 166 103 166 112 164 114 168 109 174ZM145 189 156 188 157 187 150 178 148 179 145 188ZM4 104 10 97 17 103 10 108ZM187 11 192 10 194 8 192 6 184 6 184 7ZM19 19 10 20 8 19 7 14 17 11 19 11ZM232 93 234 95 232 100 230 101 228 98ZM116 20 107 20 107 15 112 13 119 14ZM22 104 26 111 32 109 33 108 31 101ZM97 176 94 175 93 168 100 165 101 166 101 166ZM56 214 52 221 57 232 62 219ZM92 168 92 174 89 175 85 169 88 167ZM94 -2 98 7 101 7 103 3 100 -3 97 -5ZM80 211 85 217 84 217 77 223 72 217 76 211ZM160 148 162 148 167 155 162 160 156 155ZM78 200 74 204 76 208 79 208 82 203 82 202ZM56 -3 53 -1 47 -3 50 -11 57 -6ZM79 185 69 188 68 189 70 193 76 194ZM196 184 203 183 204 191 198 191 195 188ZM217 35 216 39 217 43 220 43 222 39 221 36ZM56 212 56 213 63 217 68 216 64 206ZM191 209 196 207 198 208 199 210 195 215 191 213ZM14 131 17 123 25 128 22 133 14 131ZM185 159 192 158 191 169 185 167ZM71 74 76 76 75 84 72 87 69 86 69 76ZM138 74 149 74 150 74 145 65 145 65 139 67 137 71ZM36 195 26 195 23 198 23 199 32 203 36 201ZM218 69 223 66 224 65 219 60 218 60 214 66ZM59 94 61 100 61 102 52 104 52 104 50 99 58 94ZM44 61 47 68 41 69 37 67 38 59ZM83 137 85 128 86 127 93 131 93 136 89 138ZM31 122 35 117 33 112 26 112 25 114ZM103 79 103 73 95 72 92 77 99 81 103 79ZM228 157 228 157 231 148 233 147 237 151 237 154ZM112 203 108 209 101 202 108 197ZM196 88 195 90 197 95 200 95 198 90ZM214 112 217 108 216 103 210 105 214 112Z" fill="#f9f5f9"/><path d="M-8 51 0 60M-8 51 6 54M-8 66 8 67M0 60 8 67M238 123 238 100M238 123 227 123M43 133 31 134M43 133 39 123M-3 3 3 0M26 96 17 95M26 96 29 106M29 106 37 104M29 106 18 111M41 217 49 214M238 100 239 88M37 104 39 112M39 112 39 123M39 112 51 111M39 112 45 104M66 117 55 130M66 117 79 111M-2 18 11 7M-2 18 7 28M-2 18 14 16M3 43 -1 36M227 123 229 133M227 123 220 125M235 109 232 97M231 8 222 13M231 8 230 18M149 50 154 40M149 50 138 46M149 50 151 60M149 50 161 55M16 212 9 210M6 219 -2 213M26 207 13 199M-3 172 8 179M57 108 55 100M103 123 93 124M103 123 112 135M93 124 90 113M24 121 31 134M31 134 22 145M68 135 60 149M21 78 17 95M21 78 30 82M11 40 15 44M-5 76 -6 93M10 102 3 97M18 111 3 113M18 111 17 95M30 82 27 73M30 198 30 190M30 190 20 181M11 169 25 172M11 169 8 179M11 169 20 181M34 174 46 171M46 171 46 183M25 172 20 181M100 135 93 144M100 135 112 135M100 135 110 148M112 135 110 148M229 133 220 125M229 133 219 137M154 97 145 107M154 97 141 92M154 97 149 91M154 97 165 88M135 108 136 99M136 99 121 95M136 99 141 92M129 122 136 116M129 122 125 139M129 122 118 125M118 125 125 139M125 105 115 105M125 105 121 95M232 97 223 105M223 105 222 113M223 105 225 91M162 66 152 66M162 66 154 81M162 66 168 73M162 66 151 60M151 60 143 71M161 55 168 49M228 46 218 38M228 46 219 52M225 -5 217 5M140 60 143 71M140 60 131 48M130 0 140 -6M121 -1 106 -2M121 -1 109 7M121 -1 130 11M12 188 20 189M9 210 13 199M14 155 25 160M14 155 3 148M22 145 9 144M68 105 55 100M102 110 104 97M56 42 52 50M56 42 52 32M27 73 19 70M27 73 31 63M20 57 15 44M15 44 27 52M8 67 19 70M19 70 31 63M11 7 14 16M53 -4 42 -8M53 -4 50 3M75 34 84 33M69 48 65 58M64 35 61 20M52 32 42 25M63 183 71 182M63 183 73 190M64 175 56 169M56 205 71 209M56 205 49 214M44 197 49 214M38 156 47 150M38 156 39 145M38 156 33 146M33 165 49 160M58 160 49 160M58 160 56 169M60 149 47 150M86 144 93 144M86 144 88 133M86 144 78 131M93 144 89 154M112 217 94 217M107 203 101 195M94 217 86 209M121 153 125 139M121 153 130 155M239 146 232 141M224 142 213 150M222 113 209 118M235 176 227 171M232 187 232 202M232 187 224 192M220 179 207 168M158 179 168 161M178 106 188 104M154 81 165 88M149 91 141 92M141 92 145 107M155 132 149 125M75 169 71 182M75 169 83 175M183 56 188 59M171 60 168 49M171 60 182 64M191 42 188 54M202 41 206 50M202 41 210 35M203 26 199 15M197 33 196 24M217 5 222 13M230 18 222 13M222 13 212 20M177 94 165 106M177 94 185 95M124 57 131 48M124 57 132 66M124 57 120 47M99 67 90 72M168 49 154 40M168 49 179 45M154 40 156 33M179 45 168 38M162 29 170 30M162 29 171 20M162 29 157 18M162 29 156 33M168 38 170 30M9 144 17 138M9 144 8 136M17 138 8 136M19 129 8 136M10 126 8 136M91 100 93 83M93 83 81 82M109 86 104 97M96 75 90 72M111 76 118 67M45 53 27 52M45 53 31 63M39 42 52 50M52 50 52 61M19 3 28 -1M19 3 25 16M16 25 29 29M42 25 50 15M61 20 71 11M57 3 50 15M93 162 107 159M84 161 83 175M133 211 134 201M143 214 140 207M140 207 144 201M140 207 134 201M137 193 150 185M137 193 133 185M150 194 150 185M150 185 164 195M141 182 131 173M101 195 103 184M78 215 77 205M125 171 123 177M220 162 206 161M220 162 213 150M220 125 211 125M136 130 142 121M136 130 125 139M131 76 118 67M131 76 127 84M132 66 143 71M143 78 134 87M118 67 127 84M142 121 149 125M159 122 170 130M153 104 165 106M239 88 225 91M239 88 232 83M194 107 191 94M188 104 185 95M188 104 183 115M199 0 188 9M188 2 178 2M111 57 96 56M88 40 96 56M120 47 130 34M111 33 122 34M111 33 115 42M102 38 90 27M143 34 146 18M129 25 114 25M116 9 114 16M114 16 98 15M168 -6 178 2M-8 146 3 148M50 93 56 85M43 76 52 61M56 85 44 86M44 86 54 77M90 72 96 56M83 49 65 58M96 56 78 68M68 95 64 80M38 7 28 -1M38 7 41 15M38 7 42 -8M25 16 41 15M28 -1 42 -8M50 3 50 15M75 26 82 17M84 33 82 17M90 27 98 15M90 27 82 17M157 203 168 209M82 194 73 190M82 194 83 175M90 199 93 181M83 175 93 181M102 173 115 174M102 173 96 171M96 171 93 181M198 187 192 194M198 187 189 184M164 195 168 209M164 195 173 199M197 163 185 175M197 163 186 153M207 168 206 161M181 162 173 178M181 162 168 161M185 175 189 184M173 178 178 185M168 161 155 162M211 125 200 127M153 148 162 141M162 141 170 130M162 141 150 140M150 140 138 142M225 91 214 89M231 77 221 71M182 64 191 68M185 95 190 86M191 94 197 91M191 94 190 86M199 15 188 9M170 30 181 22M196 24 181 22M146 8 139 2M146 18 137 20M157 18 154 5M137 20 130 11M78 68 72 80M83 2 82 17M83 2 89 -7M215 220 201 217M183 193 189 184M189 184 192 194M192 194 191 203M173 199 178 209M178 209 184 211M201 153 186 153M201 153 191 145M179 156 186 153M186 153 191 145M195 117 183 115M181 143 170 130M181 143 191 145M206 138 189 129M191 68 195 59M191 68 195 78M182 12 181 22M182 12 166 6M182 12 178 2M181 22 189 15M166 6 178 2M194 211 184 211M179 123 189 129M189 129 170 130M219 52 219 66M206 50 211 60M201 83 190 86M195 78 190 86M195 78 204 75M213 73 219 66M213 73 221 71M199 66 211 60M210 80 218 78" stroke="#f9f5f9" stroke-width="3.6" fill="none"/></g></g>
<g transform="translate(429.6 376.8) scale(.5)">
<path d="M87 -2 113 -2 113 8 116 34 134 57 145 70 134 88 143 111 152 134 147 154 129 134 113 110 100 88 92 56 89 26Z" fill="#f9f5f9"/>
<path d="M119 18 141 16 165 20 177 30 165 46 141 50 125 38Z" fill="#f9f5f9"/>
<path d="M42 34 38 41 36 49 30 53 23 53 17 50 16 41 13 34 16 28 17 19 24 19 30 17 35 21 38 27Z" fill="#f9f5f9"/>
<path d="M76 16 74 22 71 27 64 30 58 29 51 27 47 22 44 16 45 10 52 7 58 5 64 3 70 6 74 11Z" fill="#f9f5f9"/>
<path d="M212 186 215 194 208 199 201 202 193 203 186 199 182 193 181 186 182 180 184 173 193 173 200 172 209 173 213 180Z" fill="#f9f5f9"/>
<path d="M217 106 217 113 213 118 209 120 205 119 200 118 199 112 198 106 198 101 201 97 205 95 209 92 214 94 217 100Z" fill="#f9f5f9"/>
<path d="M14 186 11 192 10 197 7 201 3 200 0 196 -3 193 -3 186 -3 180 0 176 3 174 6 174 10 175 12 180Z" fill="#f9f5f9"/>
<g fill="none" stroke-linecap="round" stroke-linejoin="round">
<path d="M84 -2 87 26 89 43 100 88 113 112 129 134 147 156 165 170" stroke="#5a2a8a" stroke-width="5.2"/>
<path d="M111 7 116 34 134 57 147 70 134 88 143 111 152 134" stroke="#5a2a8a" stroke-width="5.2"/>
<path d="M111 7 134 10 156 14 188 16 206 25 210 34" stroke="#5a2486" stroke-width="5.6"/>
<path d="M147 78 155 70 163 76 163 86 153 90 147 84 147 78" stroke="#6a3096" stroke-width="2.8"/>
</g>
<path d="M39 8 39 13 38 16 37 19 35 19 33 17 33 13 32 8 32 3 33 0 35 -1 37 -2 38 0 39 4Z" fill="#d45aa0"/>
</g>
</g></g>
<g clip-path="url(#cp4)"><g filter="url(#hb)">
<rect x="546.9" y="376.8" width="109.3" height="107.4" fill="#cc66b2"/>
<rect x="546.9" y="376.8" width="109.3" height="107.4" fill="#fff" filter="url(#tv4)"/>
<rect x="546.9" y="376.8" width="109.3" height="107.4" fill="#fff" filter="url(#nv4)"/>
<g filter="url(#sm)"><g transform="translate(546.9 376.8) scale(.5)"><path d="M44 191 45 191 46 198 42 204 36 198 36 192ZM-4 211 2 212 3 219 -3 222 -7 217ZM62 91 63 90 64 89 62 87 61 89 61 91ZM24 158 26 157 25 147 17 146 12 150 15 157 20 159ZM117 180 113 183 111 182 107 177 106 173 115 174ZM185 40 183 39 179 33 189 24 193 24 194 26 195 31ZM105 9 107 18 107 19 106 19 96 18 94 14 94 14 100 8ZM138 7 139 16 141 18 148 14 148 8 138 6ZM84 30 85 36 91 38 95 36 92 27ZM4 29 -2 25 -15 28 -2 35 3 33ZM40 93 43 92 44 91 45 89 44 89 40 85 38 89 38 92ZM90 110 93 111 99 109 100 101 100 101 91 102 90 104ZM191 135 193 140 190 144 183 146 183 146 178 139 180 134ZM98 37 102 46 111 43 111 39 106 34ZM74 9 79 2 72 -4 71 -4 70 5ZM177 34 175 33 166 40 168 46 174 46 180 40ZM213 78 222 83 226 73 219 69 214 74ZM121 139 129 143 133 140 134 135 126 132 123 133ZM103 148 101 155 95 156 94 149 96 148 102 147ZM168 81 166 93 166 94 169 95 176 91 176 87 173 84 169 81ZM166 117 157 116 155 130 160 130 164 126ZM57 10 54 21 51 22 45 15 45 11 49 6 57 9ZM128 -2 132 -27 137 -6 135 1ZM32 192 31 197 30 198 22 196 22 193 30 190ZM220 133 216 139 210 140 210 131 215 129ZM23 77 21 71 31 75 31 75 26 78ZM18 130 13 135 7 134 6 125 9 123 17 127ZM44 123 39 125 37 124 35 120 36 117 36 117 43 116 44 117 45 120ZM201 33 211 29 202 24 197 25 198 30ZM212 72 218 67 217 63 211 60 204 63 206 69ZM184 43 182 42 176 49 179 57 179 57 187 53 187 46ZM150 58 154 63 158 64 162 60 160 54 154 53 151 55ZM56 184 55 175 61 175 64 182 58 185ZM55 188 47 190 49 198 61 199 57 188ZM54 171 54 171 51 166 54 159 56 157 64 164 65 166 61 171ZM67 105 71 98 74 98 76 102 75 105 69 107ZM100 77 106 80 109 80 113 77 109 68 107 67 101 70ZM173 71 169 78 175 80 180 74 179 71ZM-1 4 7 9 5 13 0 15 -4 11ZM129 118 132 118 136 110 125 109 124 109 127 117ZM207 143 196 142 194 146 197 151 202 153 207 148ZM245 195 259 197 223 211 218 202ZM202 177 190 179 191 182 198 187 204 182ZM15 214 9 207 4 212 5 218 9 220 15 216ZM28 86 33 88 37 82 37 79 32 77 29 81ZM59 202 50 201 45 206 45 206 50 212 54 213 56 212 60 202 60 202ZM111 116 118 109 122 109 125 118 118 121ZM143 206 136 202 134 210 137 212 141 210ZM37 177 35 173 29 174 26 177 31 181ZM36 103 37 100 35 98 32 102 35 104ZM0 108 3 100 3 100 -6 99 -13 102 -4 108 -2 109ZM170 70 168 76 167 76 163 75 161 67 165 63 169 65ZM182 202 182 195 187 193 195 197 190 203ZM106 5 100 5 98 -1 101 -5 106 -5 110 -1 109 3ZM18 117 14 113 12 115 10 121 18 124 19 121ZM179 15 187 23 178 31 176 30 174 27 174 17ZM50 59 54 60 54 67 50 66 48 63 48 62ZM201 111 199 111 195 107 194 105 200 101 205 104ZM126 61 131 58 132 50 125 47 117 49 117 50 122 59ZM85 2 91 13 97 5 95 0 89 -1ZM7 174 5 175 -2 173 -3 166 5 167 8 173ZM108 135 110 130 105 123 101 126 102 134 104 136ZM143 142 149 139 151 134 142 130 142 130 138 136 137 140ZM102 98 101 93 106 84 109 84 113 94 112 96 102 99ZM190 46 190 53 193 56 198 55 200 50 197 46ZM86 216 90 237 98 218 92 215 86 215ZM194 123 200 113 202 113 207 117 204 125 196 125ZM15 188 3 192 3 194 4 197 9 202 18 198 19 196 19 192ZM-2 54 -25 61 -3 65 0 58ZM128 156 116 156 115 158 120 167 122 166 129 160 128 156ZM207 139 207 140 196 139 195 134 197 128 204 128 207 131ZM44 178 51 173 48 167 39 167 38 171 39 176ZM153 194 149 189 154 181 162 192 161 194 159 195ZM165 -1 160 2 155 1 155 -3 160 -16 165 -7ZM222 130 257 130 226 119 219 123 217 127ZM125 94 126 98 123 105 122 106 119 106 115 98 116 96ZM47 57 46 53 41 54 38 57 39 58 45 60ZM67 60 63 56 63 54 72 53 72 56ZM85 -34 86 -4 83 0 81 0 74 -6 82 -45ZM192 146 183 148 187 161 190 162 195 153ZM18 19 13 22 9 14 10 10 16 7 19 11ZM220 101 221 102 220 107 215 107 211 103 214 99ZM75 151 78 151 82 146 82 142 77 139 69 139 69 145ZM30 208 29 207 31 202 33 201 41 206 41 206 39 207ZM144 154 143 165 144 165 153 164 155 161 154 154 145 154ZM204 -3 204 -6 209 -13 215 -4 208 1ZM64 137 65 139 65 144 58 148 53 141 53 138 54 137 59 135ZM156 81 161 78 166 80 164 94 155 88ZM78 179 77 170 81 168 88 172 87 176 82 180ZM16 34 12 37 8 34 9 31 13 29ZM171 17 171 27 161 27 158 25 158 20 164 17 171 17ZM136 167 142 167 142 167 142 175 138 177 133 176ZM67 118 73 122 66 135 60 132 60 122 62 120ZM65 78 69 81 69 83 67 85 63 83 63 83ZM105 212 109 211 112 205 112 201 103 199 100 202ZM28 53 27 53 21 49 21 47 25 42 31 45ZM184 -3 191 1 193 -2 190 -13ZM196 79 194 83 189 80 188 75 191 70 193 71 196 75ZM132 178 137 181 139 189 136 192 129 187 128 182 132 179ZM20 132 24 134 28 141 25 145 17 143 16 137ZM80 121 83 124 88 125 91 122 90 116 88 114 83 116ZM179 -2 177 0 170 0 169 -1 168 -7 176 -7ZM199 45 202 48 207 48 208 42 202 39ZM176 58 173 50 167 49 164 53 165 60 170 61ZM202 174 200 167 193 167 190 177 191 177 201 175ZM12 54 16 49 16 48 11 45 9 49ZM124 5 125 1 127 1 135 3 135 4 134 6 127 8ZM155 78 160 76 158 67 153 66 144 75 145 76ZM22 24 19 22 14 24 14 26 20 32 23 33 24 32ZM125 213 125 217 117 218 111 213 116 206 122 208ZM124 18 126 20 125 25 120 26 111 21 111 20 118 17ZM212 14 212 14 222 12 223 14 222 22 219 26 217 26ZM83 88 84 82 88 79 94 80 92 87 87 90ZM16 58 17 59 20 62 22 59 24 56 20 54 17 57ZM0 122 -3 122 -9 120 -5 112 -2 113ZM71 185 77 183 81 184 83 190 79 193 73 191ZM69 43 74 47 78 44 78 43 73 35 69 39ZM193 58 191 66 192 67 194 68 202 62 198 58ZM53 107 52 105 48 106 46 107 45 112 47 114 53 109ZM74 17 76 19 76 27 73 29 66 26 65 24 69 19ZM165 164 167 173 176 171 177 165 171 159ZM149 99 155 102 153 108 141 104 141 102 142 101ZM166 127 161 132 168 140 175 139 177 133 177 132ZM140 38 138 40 131 35 131 31 136 31ZM42 181 44 188 35 189 33 187 33 183 38 179ZM124 91 115 93 112 83 116 79 120 79 125 88ZM118 144 120 143 127 146 127 153 117 153 116 148ZM130 162 124 168 131 175 131 175 134 166ZM31 120 22 121 22 117 25 115 31 116ZM121 192 118 193 115 186 120 182 125 183 125 188ZM34 32 36 32 37 32 37 39 35 42 32 42 27 40 26 35 27 34ZM23 177 16 172 10 174 9 175 16 185ZM40 152 34 158 28 157 27 147 30 143 35 143 40 148ZM117 47 113 43 113 39 117 37 124 39 124 45ZM0 1 9 7 15 5 16 4 8 -11 -1 0ZM46 51 49 46 48 43 40 41 38 44 41 51ZM98 80 105 83 100 91 95 88 96 81ZM101 158 95 158 95 158 95 168 104 170 106 161ZM67 69 64 72 65 75 72 79 76 76 76 72 75 69ZM183 0 190 3 190 6 181 10 180 2 181 0ZM67 181 70 182 75 179 74 170 67 168 63 173ZM206 175 214 173 216 175 213 181 209 183 207 181 205 177ZM193 86 194 89 186 97 186 97 180 92 181 87 188 84ZM154 140 158 146 162 145 164 141 160 135 156 135 155 135ZM144 204 145 204 151 196 147 191 141 190 137 194 137 199 137 199ZM27 -5 36 -4 36 -3 32 4 24 1 26 -5ZM68 62 74 57 78 60 75 68 67 67ZM127 200 122 196 118 196 116 200 117 204 123 205ZM10 151 12 158 7 160 0 154 7 150ZM159 207 163 209 169 207 171 205 163 196 161 197ZM136 28 130 29 128 26 129 21 137 20 139 21 139 25ZM143 127 147 118 155 114 156 115 154 131 153 132ZM43 73 44 68 45 66 48 68 43 73ZM79 58 86 58 89 53 87 50 79 47 76 49 75 52 76 55ZM178 202 172 202 165 196 166 194 172 190 173 191 178 195 178 202ZM216 171 216 163 219 159 243 165 222 173 218 173ZM89 135 83 139 80 136 83 128 87 129ZM148 38 152 40 158 37 158 30 156 27 150 31ZM172 186 169 175 169 175 176 173 180 178 174 186ZM24 175 24 175 18 170 21 163 25 161 26 172ZM61 103 60 97 59 97 56 99 55 103 56 104ZM199 197 205 204 209 205 213 200 213 197 208 194 200 195ZM51 55 54 56 57 54 58 53 57 51 52 49 50 52ZM134 119 138 110 138 110 145 117 142 126 141 126ZM217 205 221 211 220 214 213 214 211 207 215 203ZM68 135 69 137 77 136 81 127 77 123 74 123ZM90 170 93 168 92 158 82 159 81 166ZM98 34 97 34 94 27 95 22 106 23 105 32ZM145 207 146 207 152 211 152 216 150 219 148 218 145 212ZM191 58 189 65 183 63 180 59 188 55ZM36 171 37 167 34 161 28 159 26 161 28 171ZM1 138 -5 133 -17 135 -6 143ZM169 113 171 110 167 99 164 98 158 103 156 108 157 113 157 113 167 115ZM77 97 81 91 82 90 86 92 88 100 87 101 79 101ZM60 6 63 -3 70 -4 67 4ZM6 148 2 139 2 139 -4 144 -4 150 -2 152 -1 152ZM45 78 43 79 43 81 48 84 49 81 49 80 45 78ZM139 88 134 86 137 79 142 77 142 77 143 78 143 86ZM183 215 182 205 182 205 189 206 191 210 187 216 186 217ZM105 217 112 239 115 220 110 215 106 216ZM97 38 96 38 93 40 90 48 92 51 99 50 100 46ZM11 88 10 91 9 94 16 94 17 94 18 90 15 88 13 88ZM222 191 216 197 216 200 219 201 244 195 224 190ZM221 55 218 61 212 58 211 51 219 49ZM186 163 179 166 178 171 183 176 188 177 190 166 189 164ZM129 11 135 8 136 16 129 18 128 16ZM211 41 218 42 220 45 219 48 210 49 209 49 210 42ZM128 63 128 71 136 75 141 74 137 63 132 60ZM215 183 221 188 224 187 222 176 218 175ZM96 76 97 70 90 66 88 71 89 76 94 77ZM115 49 112 44 103 48 101 52 106 57 115 49ZM115 194 113 198 103 196 103 192 110 186 113 187ZM15 107 19 97 20 97 26 102 22 106ZM95 203 93 213 98 217 103 215 104 214 98 201 96 202ZM171 217 169 209 164 211 164 216 168 220ZM59 11 56 21 63 23 67 17ZM5 45 7 43 7 42 5 38 0 40 0 44 2 47ZM83 183 86 190 86 190 95 186 95 184 89 178ZM6 71 6 70 11 65 15 67 15 69 11 70ZM83 28 91 25 93 20 90 16 78 18 79 27ZM80 88 81 82 77 78 73 80 73 84 80 88ZM42 153 35 159 39 165 48 165 52 157ZM175 188 183 179 188 179 188 180 189 183 186 190 181 193ZM196 196 188 191 191 184 197 188 198 194 197 196ZM88 48 90 40 85 38 81 43 81 44ZM41 146 36 141 39 136 50 137 50 141ZM134 58 139 60 146 57 147 54 138 49 135 51ZM173 115 174 112 180 112 184 115 186 120 180 122ZM2 78 -4 83 -3 86 5 89 7 85ZM175 142 179 148 172 154 167 148 169 144ZM62 41 63 42 65 41 65 40 63 39ZM112 150 114 154 112 157 107 159 103 155 105 149ZM64 107 66 109 65 115 61 116 57 110 57 108 62 107ZM33 60 31 59 30 59 29 61 32 62 33 62 33 60ZM58 131 53 132 48 125 49 122 57 123ZM0 187 4 177 -3 175 -5 177 -3 184ZM116 139 118 138 119 132 117 130 113 131 111 135ZM27 23 25 24 26 31 33 29 29 24ZM191 205 197 199 197 198 203 206 199 210 194 209ZM36 55 31 53 33 46 36 45 38 52ZM28 99 33 94 32 91 27 90 23 91 23 95 27 99ZM205 161 204 155 209 150 216 155 217 158 214 161ZM112 3 118 5 121 4 122 0 117 -3 113 -1ZM201 21 196 23 195 22 196 12 206 11 208 13 208 14ZM54 32 51 28 53 25 55 24 62 26 62 27 60 32ZM60 188 62 198 63 199 69 191 68 185 66 184ZM138 2 140 -5 151 -2 152 2 149 6 138 4ZM209 80 208 89 200 90 197 88 196 85 199 81ZM69 116 74 120 77 120 80 114 76 108 70 110ZM160 39 163 41 165 47 162 52 154 50 153 42ZM212 39 218 41 220 33 218 30 216 30 213 31ZM102 144 96 145 95 138 101 137 102 138ZM156 154 157 160 164 162 170 158 170 157 164 150 158 151ZM168 3 167 2 162 5 164 14 171 15ZM32 12 34 8 42 11 42 15 37 17 36 17ZM39 29 39 29 48 26 49 23 43 17 39 20ZM171 115 179 125 177 131 167 126 168 117ZM75 167 68 166 68 163 74 154 77 154 80 158 79 165ZM220 41 221 45 238 40 221 33ZM58 155 66 162 72 153 67 147 60 152ZM90 150 85 148 80 153 83 156 92 156 92 156ZM76 11 81 3 83 3 90 14 90 14 78 16 76 15ZM95 199 97 199 100 196 100 192 96 188 88 191ZM212 81 211 89 212 90 221 86 220 85 212 81ZM149 28 155 25 155 20 150 16 142 20 143 25ZM127 35 125 37 118 36 121 29 125 28 128 31ZM31 67 31 73 22 70 21 69 21 67 26 65ZM142 153 131 155 130 154 131 145 135 142 141 146 143 152ZM145 175 153 178 154 177 152 166 144 167ZM46 126 51 134 49 135 40 134 39 128ZM182 12 191 8 194 11 193 22 189 22 181 14ZM125 63 125 71 120 76 116 76 112 66 121 62ZM0 195 -17 200 -6 205 1 198ZM181 70 182 72 185 73 189 68 188 67 182 65ZM148 59 151 65 143 73 143 73 139 62ZM54 41 52 43 52 45 59 48 60 45 58 43ZM215 127 216 122 211 117 208 118 205 126 209 129ZM91 177 97 182 103 177 103 173 103 172 94 171 92 172ZM180 11 178 1 170 2 173 15 173 15 179 13ZM10 204 10 205 16 213 21 207 18 200ZM50 34 48 30 41 33 42 38 48 40 49 38ZM173 109 169 98 178 95 184 99 179 108ZM201 212 204 207 208 207 210 215 207 219 203 218ZM181 126 188 122 193 124 194 127 192 134 179 133 179 132ZM128 129 129 121 132 121 140 128 135 134ZM88 92 93 89 99 94 101 99 90 99ZM108 7 110 19 116 14 117 8 111 5ZM127 87 131 86 135 77 127 73 122 78ZM150 96 156 100 163 96 163 95 154 89 150 91ZM28 13 21 11 21 19 24 20 25 19ZM198 93 196 91 189 98 194 102 198 99ZM15 187 3 191 1 188 6 177 8 176 15 185ZM11 25 6 28 0 22 1 18 7 15 12 23ZM150 89 154 87 155 80 145 77 146 86ZM210 8 210 3 216 -1 218 -1 220 1 221 9 211 11ZM4 74 12 75 13 82 9 83 4 77ZM62 52 72 51 73 48 67 45 64 46 62 50ZM154 207 148 204 152 198 159 198 157 205ZM29 183 24 179 24 179 17 186 17 187 21 191 30 187ZM185 161 179 163 173 158 173 157 182 149 182 149ZM173 216 172 209 173 207 180 205 180 215ZM-2 52 -25 61 -51 61 -4 45 -1 50ZM18 162 13 160 10 163 8 166 10 171 15 169ZM77 106 79 103 87 103 88 111 82 113ZM15 82 16 82 18 78 19 72 18 72 15 76ZM81 196 81 201 85 204 93 201 94 201 86 192 85 192ZM10 58 3 56 2 53 2 51 6 51 10 56ZM140 105 139 109 146 116 155 113 153 109ZM20 115 15 111 15 109 16 109 22 108 23 112ZM99 126 94 125 90 128 92 135 94 135 100 134ZM54 72 51 76 46 75 50 72 53 71ZM186 40 196 33 199 36 199 38 196 43 190 44ZM54 35 60 35 61 36 59 39 54 39ZM193 122 198 113 193 109 188 114 189 120ZM191 -19 202 -6 202 -3 195 -2 191 -14ZM-45 24 -16 27 -3 21 -3 17 -6 13ZM35 5 35 6 43 9 47 5 46 1 38 -2ZM35 20 36 20 37 29 35 29 31 22ZM205 173 203 166 205 163 213 164 214 171ZM75 95 79 90 72 86 69 88 68 92 71 94ZM33 126 26 131 21 129 20 126 22 124 31 122ZM109 32 109 23 110 23 119 29 116 34 113 36ZM143 155 142 164 136 164 131 160 131 156ZM60 9 68 15 73 14 72 10 68 8 61 8 60 9ZM71 214 70 208 63 203 60 213 67 216ZM210 114 213 110 208 105 207 105 203 111 208 115ZM146 40 151 42 152 50 149 52 138 47 140 43 142 41ZM164 192 171 187 166 175 156 178 155 179 155 180ZM132 212 128 214 127 217 129 220 136 220 136 214ZM54 83 51 87 51 87 55 87 57 84 57 84ZM55 154 52 156 43 152 42 147 50 143 57 151ZM84 216 89 237 87 257 77 217ZM115 142 109 138 105 138 105 144 106 145 112 147ZM111 128 107 123 109 117 110 117 117 123 116 127ZM135 201 135 200 129 201 124 207 127 212 131 210ZM82 31 83 36 79 42 74 35 75 32 78 29ZM10 147 15 144 13 138 6 137 4 139 8 147ZM211 97 208 102 206 102 202 99 200 92 208 91 210 93ZM21 88 26 86 25 81 22 80 18 84ZM154 210 154 217 162 216 162 211 158 208ZM142 212 146 219 138 222 137 221 138 214ZM54 112 48 116 49 120 58 120 60 118ZM23 40 22 36 19 36 13 40 13 41 19 45ZM205 70 203 63 202 63 194 69 198 73ZM139 99 138 101 130 97 127 92 128 90 132 89 137 92ZM54 185 47 188 46 188 45 180 52 174 53 175ZM34 219 40 227 48 215 42 207 41 209ZM8 121 9 114 2 111 0 112 2 121 5 122ZM85 206 94 203 92 213 86 213ZM212 29 215 27 210 14 202 23 212 29ZM120 60 110 65 107 64 106 58 116 50ZM178 61 180 64 178 69 174 69 172 64 177 60ZM33 115 32 108 28 103 27 103 24 107 25 112 33 115ZM65 104 70 96 67 94 62 96 63 104ZM109 162 106 170 106 170 116 170 118 168 114 160ZM44 62 43 63 41 65 38 63 38 60ZM28 217 23 219 18 216 18 214 23 209 26 209 28 210ZM145 152 154 153 156 149 151 141 143 145ZM130 177 126 181 120 180 118 173 120 169 122 169ZM30 217 30 210 40 208 34 218ZM126 45 126 39 129 36 138 42 136 46 133 49ZM224 89 222 99 214 96 212 92 222 87ZM41 103 40 97 44 96 47 103 44 105ZM210 79 199 79 199 74 205 71 211 74 210 78ZM37 68 38 68 39 72 38 74 35 72 35 72 36 68ZM200 56 203 61 204 61 210 58 208 51 208 50 202 51ZM51 101 49 100 47 97 48 96 51 98ZM77 68 79 70 84 70 88 64 87 60 79 61ZM144 178 153 180 153 180 146 188 142 188 140 180ZM-1 155 -2 155 -5 163 -3 164 5 165 6 162ZM37 129 37 135 34 140 30 140 27 133 34 127ZM67 219 63 268 56 217 58 216ZM13 108 5 100 2 109 10 112 12 110ZM42 112 41 108 39 107 36 108 35 113ZM14 107 6 99 6 99 8 97 17 98 14 106ZM28 10 22 9 19 6 19 5 24 3 31 6 31 7 29 10ZM122 130 125 129 127 121 125 120 120 123 119 127ZM211 116 217 121 226 117 221 110 215 111ZM194 212 198 213 200 219 199 219 190 218ZM134 199 135 194 127 189 123 194 129 199ZM71 193 79 196 78 201 72 205 64 201 64 201ZM217 142 222 145 217 153 210 148 209 142 210 141ZM108 184 102 191 98 186 98 184 104 178ZM85 -35 99 -6 96 -1 89 -3ZM24 -5 10 -15 9 -12 17 3 22 0ZM122 7 125 10 125 15 119 14 119 8ZM6 90 6 96 4 98 -7 96 -4 87ZM202 37 209 40 210 39 212 30 212 30 202 35ZM146 37 147 30 142 27 139 30 142 38ZM125 -2 131 -28 129 -46 119 -5 124 -2ZM11 60 11 61 2 68 -1 65 2 59ZM30 15 28 19 30 19 32 18 30 15ZM200 164 193 164 191 162 196 154 201 156 202 161ZM64 33 65 29 71 31 70 34 67 35 65 34ZM210 185 210 192 214 195 220 189 214 184ZM161 30 172 29 174 32 164 38 161 37ZM148 96 149 90 145 88 140 91 141 100ZM4 125 1 124 -2 125 -4 131 2 136 2 136 5 134ZM185 75 182 75 176 81 179 85 188 82ZM29 200 27 206 24 206 20 200 21 198ZM2 199 -4 207 -3 209 2 210 7 206 7 204Z" fill="#f8f3f8"/><path d="M-6 137 0 130M171 167 160 169M171 167 184 169M171 167 163 156M-7 17 1 11M-7 17 -2 29M8 1 27 7M0 92 13 101M0 92 13 91M85 23 79 36M89 33 86 42M79 36 72 41M172 149 163 156M189 155 180 158M201 148 210 156M201 148 186 138M210 156 221 167M210 156 209 168M193 190 183 186M193 190 206 198M205 213 197 206M-1 179 8 183M-2 29 5 20M23 82 16 78M26 76 31 82M31 82 47 81M31 82 42 89M31 82 37 69M14 34 18 39M14 34 4 44M10 78 2 85M10 69 16 78M10 69 4 62M16 78 13 91M13 91 13 101M-7 74 4 62M30 -1 19 -5M39 4 57 -1M42 89 28 94M42 89 50 99M171 88 177 74M160 85 153 94M153 73 156 58M147 111 140 118M147 111 163 107M145 65 142 55M156 58 167 69M157 10 161 -3M142 11 132 12M123 -6 118 1M120 21 132 12M128 5 118 1M215 54 205 55M215 54 214 45M209 -6 199 4M130 103 140 118M195 98 205 84M182 78 177 74M208 110 200 106M208 110 201 118M208 110 212 122M217 116 222 126M217 116 212 122M200 106 201 118M211 178 196 172M221 167 209 168M198 183 196 172M196 172 183 186M160 169 174 178M11 130 27 126M0 130 9 142M0 130 4 116M21 138 32 133M21 138 9 142M4 116 16 118M6 156 18 152M1 145 9 142M54 85 57 78M67 82 72 74M45 68 41 63M45 68 50 63M45 68 50 74M47 81 50 74M66 48 63 41M66 48 53 52M18 39 12 49M18 39 4 44M5 54 4 62M5 54 21 57M-4 58 -7 50M118 86 106 74M118 86 119 68M122 100 106 91M129 80 139 84M129 80 119 68M62 89 53 92M62 89 65 99M62 89 58 100M53 92 50 99M50 99 43 101M28 94 20 103M28 94 28 109M176 67 184 69M176 67 177 74M184 69 187 60M145 93 134 95M153 94 149 103M102 13 114 30M102 13 82 9M81 -6 73 3M81 -6 82 9M104 40 114 30M104 40 100 28M95 44 98 61M124 52 121 41M130 41 121 41M130 41 146 46M113 57 106 74M113 57 119 68M166 33 171 40M166 33 153 34M143 32 153 34M148 23 134 25M216 5 200 16M205 55 196 62M196 62 192 75M171 40 181 23M175 6 166 8M175 6 181 23M175 6 174 -4M175 6 188 15M188 15 199 4M188 15 200 16M188 15 188 31M218 18 215 38M218 18 200 16M200 16 188 31M200 16 204 29M208 23 204 29M208 23 208 36M201 118 202 134M216 134 222 126M212 122 222 126M106 91 93 94M219 93 216 103M205 97 215 85M205 97 216 103M204 75 205 84M192 75 205 84M200 68 209 66M183 186 188 198M174 178 164 182M164 182 154 189M58 37 58 30M63 41 57 44M58 30 62 17M57 44 53 52M65 2 57 -1M73 3 82 9M51 15 36 13M91 72 99 87M98 61 81 66M82 76 81 66M99 87 88 84M72 63 60 63M68 56 53 52M60 63 50 63M20 103 28 109M20 103 21 111M7 107 13 101M16 118 27 126M43 101 49 109M199 4 197 -7M194 39 188 31M204 29 208 36M204 44 195 51M195 51 182 51M173 125 169 133M173 125 181 117M173 125 163 107M163 107 151 122M102 184 94 192M102 184 112 178M109 192 94 192M109 192 121 188M112 178 113 166M112 178 97 177M111 222 119 213M111 222 97 210M77 82 72 90M77 82 83 97M20 28 28 26M41 120 28 109M41 120 39 109M25 118 28 109M25 118 27 126M27 126 32 133M32 133 35 150M45 132 53 126M188 -4 184 4M94 106 110 106M140 118 144 138M140 118 131 127M154 203 159 213M164 205 159 213M121 188 123 174M121 188 133 185M121 188 128 194M119 213 133 216M43 57 35 51M43 57 43 47M28 26 25 16M25 16 27 7M36 13 27 7M84 134 75 130M9 214 17 206M17 206 25 202M17 206 12 195M12 165 16 178M12 165 23 169M67 155 48 148M77 144 57 141M94 192 90 184M97 210 91 220M97 210 90 209M83 97 72 90M83 97 71 102M72 90 65 99M83 107 71 102M90 209 87 199M137 209 129 206M129 206 145 197M145 197 148 213M139 172 139 159M25 202 12 195M25 202 28 195M87 199 73 198M82 174 74 161M74 161 87 153M74 161 87 163M74 161 58 166M97 177 100 162M75 130 57 141M71 102 65 99M49 109 58 100M58 100 65 99M87 153 100 162M90 143 99 151M34 212 32 205M34 212 40 216M32 205 40 196M16 178 24 185M66 211 73 198M96 131 98 141M138 150 121 148M144 138 149 148M112 124 123 125M112 124 115 134M31 168 32 176M53 206 40 196M53 206 54 193M77 188 70 175M77 188 64 190M106 130 115 134M98 141 99 151M38 183 24 185M38 183 51 182M44 173 51 182M58 181 70 175" stroke="#f8f3f8" stroke-width="4.0" fill="none"/></g></g>
<g transform="translate(546.9 376.8) scale(.5)">
<path d="M8 26 36 18 62 28 68 66 60 94 38 106 12 94 6 56Z" fill="#6a2288" opacity="0.35" filter="url(#sm2)"/>
<path d="M21 34 30 29 46 31 53 42 53 62 49 76 38 83 27 79 21 64Z" fill="#f8f3f8"/>
<path d="M60 54 70 46 86 54 98 74 102 102 96 126 82 134 70 126 64 106 64 82Z" fill="#f8f3f8"/>
<path d="M74 162 74 169 71 175 65 177 59 177 54 174 51 169 52 162 50 156 55 151 60 150 65 147 71 150 72 157Z" fill="#f8f3f8"/>
<path d="M139 142 140 148 135 153 130 155 124 154 118 154 115 149 112 142 116 137 118 131 124 128 130 130 135 132 139 137Z" fill="#f8f3f8"/>
<path d="M156 56 157 62 152 64 149 68 144 68 138 66 136 61 135 56 137 52 140 49 144 45 149 45 152 49 157 51Z" fill="#f8f3f8"/>
<path d="M195 36 194 41 192 46 188 48 184 48 181 44 177 42 177 36 179 32 181 28 184 25 188 24 191 28 195 31Z" fill="#f8f3f8"/>
<path d="M117 186 115 190 113 194 108 194 104 195 99 194 95 191 94 186 96 182 99 179 104 177 109 177 113 180 117 182Z" fill="#f8f3f8"/>
<path d="M181 186 179 191 176 194 172 196 168 195 165 193 161 191 160 186 161 182 164 179 168 175 172 178 177 178 178 183Z" fill="#f8f3f8"/>
<g fill="none" stroke-linecap="round" stroke-linejoin="round">
<path d="M19 33 30 27 46 29 55 42 55 62 51 78 38 85 26 81 19 64 19 33" stroke="#6a2288" stroke-width="5.2"/>
<path d="M60 54 64 82 64 106 70 126" stroke="#7a2a92" stroke-width="3.2"/>
</g>
<path d="M67 119 63 120 54 116 47 113 40 107 31 100 27 94 26 89 31 88 39 90 47 94 56 101 63 108 66 114Z" fill="#e0648e" stroke="#8a3096" stroke-width="2"/>
<path d="M86 22 83 24 80 26 77 28 78 25 77 23 79 20 81 17 83 14 86 14 88 12 90 13 89 16 88 18Z" fill="#e06aa0"/>
<path d="M186 100 185 103 184 106 182 108 180 108 178 105 177 104 176 100 177 97 178 96 180 93 182 93 184 95 186 97Z" fill="#e0568e"/>
<path d="M209 178 208 182 206 184 204 186 201 185 198 185 197 181 196 178 195 174 198 172 201 170 204 170 207 172 209 175Z" fill="#e0507e"/>
<path d="M187 110 186 112 184 114 182 115 180 115 178 113 177 112 176 110 177 109 178 108 180 107 182 106 184 107 186 109Z" fill="#e0568e"/>
</g>
</g></g>
<g stroke="#000" fill="none">
<rect x="82.5" y="376.2" width="574" height="108.6" stroke-width="1.5"/>
<line x1="196" y1="376" x2="196" y2="485" stroke-width="1.6"/>
<line x1="312" y1="376" x2="312" y2="485" stroke-width="1.6"/>
<line x1="429" y1="376" x2="429" y2="485" stroke-width="1.6"/>
<line x1="546.2" y1="376" x2="546.2" y2="485" stroke-width="1.6"/>
</g>
</svg>
</body></html>
